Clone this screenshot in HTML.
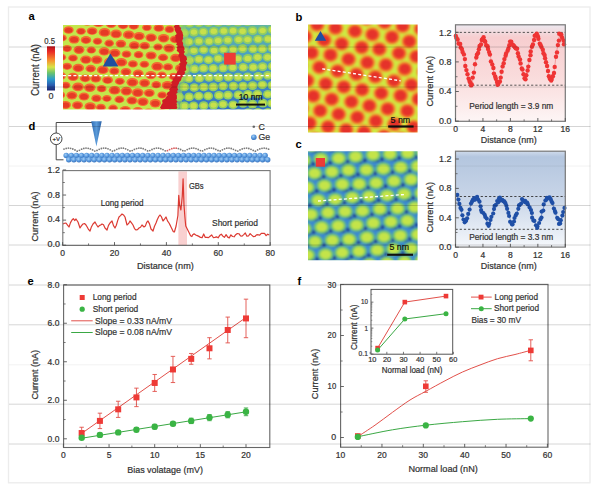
<!DOCTYPE html><html><head><meta charset="utf-8"><style>html,body{margin:0;padding:0;background:#fff;}svg{display:block;} text{font-family:"Liberation Sans",sans-serif;}</style></head><body><svg width="600" height="489" viewBox="0 0 600 489"><defs><clipPath id="ca"><rect x="63" y="25" width="208" height="84.5"/></clipPath><clipPath id="caL"><path d="M63,25 L177,25 L179.5,33.7 L180,42.4 L181.3,51 L183.7,59.8 L183.5,68.5 L180.4,75.4 L177,80.7 L174.8,85.9 L172.6,94.6 L170,101.5 L169,110 L63,110Z"/></clipPath><clipPath id="caR"><path d="M271,25 L177,25 L179.5,33.7 L180,42.4 L181.3,51 L183.7,59.8 L183.5,68.5 L180.4,75.4 L177,80.7 L174.8,85.9 L172.6,94.6 L170,101.5 L169,110 L271,110Z"/></clipPath><filter id="blur1" x="-5%" y="-5%" width="110%" height="110%"><feGaussianBlur stdDeviation="0.75"/></filter><filter id="blur2" x="-5%" y="-5%" width="110%" height="110%"><feGaussianBlur stdDeviation="1.0"/></filter><linearGradient id="gR" x1="0" y1="0" x2="0" y2="1"><stop offset="0" stop-color="#64b6a0"/><stop offset="0.4" stop-color="#4aa0c2"/><stop offset="1" stop-color="#306cc4"/></linearGradient><linearGradient id="jet" x1="0" y1="0" x2="0" y2="1"><stop offset="0" stop-color="#b8141c"/><stop offset="0.12" stop-color="#e92a26"/><stop offset="0.32" stop-color="#f7922e"/><stop offset="0.47" stop-color="#d8e448"/><stop offset="0.6" stop-color="#6cc46c"/><stop offset="0.74" stop-color="#2c9ccc"/><stop offset="0.88" stop-color="#2a5cb0"/><stop offset="1" stop-color="#1a2470"/></linearGradient><clipPath id="cb"><rect x="308" y="24.5" width="109.6" height="108"/></clipPath><clipPath id="cc"><rect x="308" y="151.3" width="109.6" height="109"/></clipPath><linearGradient id="gb" x1="0" y1="0" x2="0" y2="1"><stop offset="0" stop-color="#ebe6ee"/><stop offset="0.07" stop-color="#f0d8dc"/><stop offset="0.13" stop-color="#f6c8ca"/><stop offset="0.55" stop-color="#f9d8d8"/><stop offset="1" stop-color="#fdf4f4"/></linearGradient><linearGradient id="gc" x1="0" y1="0" x2="0" y2="1"><stop offset="0" stop-color="#ccd8ea"/><stop offset="0.06" stop-color="#adc1dc"/><stop offset="0.5" stop-color="#c4d2e6"/><stop offset="1" stop-color="#f4f7fb"/></linearGradient><linearGradient id="tip" x1="0" y1="0" x2="1" y2="0"><stop offset="0" stop-color="#2f6db5"/><stop offset="0.5" stop-color="#5a9ad8"/><stop offset="1" stop-color="#2a62a8"/></linearGradient><radialGradient id="ge" cx="0.4" cy="0.35" r="0.75"><stop offset="0" stop-color="#a6d0f6"/><stop offset="0.45" stop-color="#5c9ce0"/><stop offset="1" stop-color="#2f68b4"/></radialGradient></defs><rect x="8.50" y="7.00" width="581.50" height="475.80" fill="#fff" stroke="#ececec" stroke-width="1.3" /><g clip-path="url(#ca)" filter="url(#blur1)"><rect x="60" y="22" width="215" height="92" fill="#c4e64c"/><g clip-path="url(#caL)"><ellipse cx="52.5" cy="122.1" rx="5.1" ry="3.7" fill="#f36a30"/><ellipse cx="52.5" cy="122.4" rx="3.6" ry="2.5" fill="#e63a28"/><ellipse cx="53.9" cy="103.0" rx="4.8" ry="3.5" fill="#f36a30"/><ellipse cx="53.9" cy="103.3" rx="3.4" ry="2.3" fill="#e63a28"/><ellipse cx="59.4" cy="112.5" rx="4.7" ry="3.5" fill="#f36a30"/><ellipse cx="59.4" cy="112.8" rx="3.4" ry="2.3" fill="#e63a28"/><ellipse cx="64.3" cy="122.5" rx="5.2" ry="3.8" fill="#f36a30"/><ellipse cx="64.3" cy="122.8" rx="3.7" ry="2.6" fill="#e63a28"/><ellipse cx="55.0" cy="84.0" rx="5.2" ry="3.8" fill="#f36a30"/><ellipse cx="55.0" cy="84.3" rx="3.7" ry="2.6" fill="#e63a28"/><ellipse cx="60.3" cy="94.9" rx="4.9" ry="3.6" fill="#f36a30"/><ellipse cx="60.3" cy="95.2" rx="3.5" ry="2.4" fill="#e63a28"/><ellipse cx="65.5" cy="104.9" rx="5.4" ry="4.0" fill="#f36a30"/><ellipse cx="65.5" cy="105.2" rx="3.9" ry="2.6" fill="#e63a28"/><ellipse cx="71.9" cy="113.9" rx="4.7" ry="3.5" fill="#f36a30"/><ellipse cx="71.9" cy="114.2" rx="3.4" ry="2.3" fill="#e63a28"/><ellipse cx="49.0" cy="55.7" rx="4.8" ry="3.6" fill="#f36a30"/><ellipse cx="49.0" cy="56.0" rx="3.5" ry="2.4" fill="#e63a28"/><ellipse cx="54.7" cy="65.9" rx="5.7" ry="4.2" fill="#f36a30"/><ellipse cx="54.7" cy="66.2" rx="4.1" ry="2.8" fill="#e63a28"/><ellipse cx="60.6" cy="75.8" rx="5.5" ry="4.0" fill="#f36a30"/><ellipse cx="60.6" cy="76.1" rx="3.9" ry="2.7" fill="#e63a28"/><ellipse cx="65.7" cy="85.2" rx="4.7" ry="3.5" fill="#f36a30"/><ellipse cx="65.7" cy="85.5" rx="3.4" ry="2.3" fill="#e63a28"/><ellipse cx="71.9" cy="95.3" rx="5.5" ry="4.1" fill="#f36a30"/><ellipse cx="71.9" cy="95.6" rx="4.0" ry="2.7" fill="#e63a28"/><ellipse cx="77.5" cy="105.2" rx="5.4" ry="4.0" fill="#f36a30"/><ellipse cx="77.5" cy="105.5" rx="3.9" ry="2.7" fill="#e63a28"/><ellipse cx="83.5" cy="115.0" rx="5.7" ry="4.2" fill="#f36a30"/><ellipse cx="83.5" cy="115.3" rx="4.1" ry="2.8" fill="#e63a28"/><ellipse cx="50.3" cy="37.7" rx="5.4" ry="4.0" fill="#f36a30"/><ellipse cx="50.3" cy="38.0" rx="3.9" ry="2.6" fill="#e63a28"/><ellipse cx="55.6" cy="47.7" rx="5.6" ry="4.1" fill="#f36a30"/><ellipse cx="55.6" cy="48.0" rx="4.0" ry="2.7" fill="#e63a28"/><ellipse cx="61.4" cy="57.3" rx="4.8" ry="3.5" fill="#f36a30"/><ellipse cx="61.4" cy="57.6" rx="3.5" ry="2.4" fill="#e63a28"/><ellipse cx="67.1" cy="66.3" rx="4.9" ry="3.6" fill="#f36a30"/><ellipse cx="67.1" cy="66.6" rx="3.5" ry="2.4" fill="#e63a28"/><ellipse cx="73.1" cy="76.9" rx="5.5" ry="4.1" fill="#f36a30"/><ellipse cx="73.1" cy="77.2" rx="4.0" ry="2.7" fill="#e63a28"/><ellipse cx="78.0" cy="86.9" rx="5.8" ry="4.3" fill="#f36a30"/><ellipse cx="78.0" cy="87.2" rx="4.1" ry="2.8" fill="#e63a28"/><ellipse cx="84.0" cy="96.5" rx="5.4" ry="4.0" fill="#f36a30"/><ellipse cx="84.0" cy="96.8" rx="3.9" ry="2.7" fill="#e63a28"/><ellipse cx="90.2" cy="106.5" rx="5.7" ry="4.2" fill="#f36a30"/><ellipse cx="90.2" cy="106.8" rx="4.1" ry="2.8" fill="#e63a28"/><ellipse cx="94.4" cy="116.6" rx="5.5" ry="4.1" fill="#f36a30"/><ellipse cx="94.4" cy="116.9" rx="3.9" ry="2.7" fill="#e63a28"/><ellipse cx="51.8" cy="18.9" rx="5.5" ry="4.0" fill="#f36a30"/><ellipse cx="51.8" cy="19.2" rx="3.9" ry="2.7" fill="#e63a28"/><ellipse cx="56.4" cy="28.6" rx="5.0" ry="3.7" fill="#f36a30"/><ellipse cx="56.4" cy="28.9" rx="3.6" ry="2.5" fill="#e63a28"/><ellipse cx="62.1" cy="37.9" rx="4.7" ry="3.5" fill="#f36a30"/><ellipse cx="62.1" cy="38.2" rx="3.4" ry="2.3" fill="#e63a28"/><ellipse cx="67.1" cy="48.5" rx="4.8" ry="3.5" fill="#f36a30"/><ellipse cx="67.1" cy="48.8" rx="3.5" ry="2.4" fill="#e63a28"/><ellipse cx="73.0" cy="58.0" rx="4.8" ry="3.6" fill="#f36a30"/><ellipse cx="73.0" cy="58.3" rx="3.5" ry="2.4" fill="#e63a28"/><ellipse cx="78.3" cy="67.9" rx="5.8" ry="4.2" fill="#f36a30"/><ellipse cx="78.3" cy="68.2" rx="4.1" ry="2.8" fill="#e63a28"/><ellipse cx="85.2" cy="78.3" rx="5.4" ry="3.9" fill="#f36a30"/><ellipse cx="85.2" cy="78.6" rx="3.8" ry="2.6" fill="#e63a28"/><ellipse cx="89.8" cy="87.7" rx="5.8" ry="4.2" fill="#f36a30"/><ellipse cx="89.8" cy="88.0" rx="4.1" ry="2.8" fill="#e63a28"/><ellipse cx="96.4" cy="98.2" rx="5.1" ry="3.8" fill="#f36a30"/><ellipse cx="96.4" cy="98.5" rx="3.7" ry="2.5" fill="#e63a28"/><ellipse cx="100.9" cy="107.3" rx="4.9" ry="3.6" fill="#f36a30"/><ellipse cx="100.9" cy="107.6" rx="3.5" ry="2.4" fill="#e63a28"/><ellipse cx="107.0" cy="117.6" rx="5.0" ry="3.7" fill="#f36a30"/><ellipse cx="107.0" cy="117.9" rx="3.6" ry="2.4" fill="#e63a28"/><ellipse cx="62.1" cy="19.5" rx="5.0" ry="3.7" fill="#f36a30"/><ellipse cx="62.1" cy="19.8" rx="3.6" ry="2.5" fill="#e63a28"/><ellipse cx="68.6" cy="30.0" rx="5.1" ry="3.8" fill="#f36a30"/><ellipse cx="68.6" cy="30.3" rx="3.7" ry="2.5" fill="#e63a28"/><ellipse cx="74.1" cy="39.5" rx="5.5" ry="4.1" fill="#f36a30"/><ellipse cx="74.1" cy="39.8" rx="4.0" ry="2.7" fill="#e63a28"/><ellipse cx="79.0" cy="49.8" rx="5.5" ry="4.1" fill="#f36a30"/><ellipse cx="79.0" cy="50.1" rx="4.0" ry="2.7" fill="#e63a28"/><ellipse cx="85.9" cy="59.6" rx="5.7" ry="4.2" fill="#f36a30"/><ellipse cx="85.9" cy="59.9" rx="4.1" ry="2.8" fill="#e63a28"/><ellipse cx="90.7" cy="68.6" rx="5.2" ry="3.8" fill="#f36a30"/><ellipse cx="90.7" cy="68.9" rx="3.7" ry="2.5" fill="#e63a28"/><ellipse cx="95.8" cy="78.5" rx="5.5" ry="4.0" fill="#f36a30"/><ellipse cx="95.8" cy="78.8" rx="3.9" ry="2.7" fill="#e63a28"/><ellipse cx="101.6" cy="88.7" rx="4.9" ry="3.6" fill="#f36a30"/><ellipse cx="101.6" cy="89.0" rx="3.5" ry="2.4" fill="#e63a28"/><ellipse cx="106.9" cy="98.4" rx="4.7" ry="3.5" fill="#f36a30"/><ellipse cx="106.9" cy="98.7" rx="3.4" ry="2.3" fill="#e63a28"/><ellipse cx="113.1" cy="108.1" rx="4.8" ry="3.5" fill="#f36a30"/><ellipse cx="113.1" cy="108.4" rx="3.4" ry="2.4" fill="#e63a28"/><ellipse cx="119.1" cy="118.2" rx="5.8" ry="4.3" fill="#f36a30"/><ellipse cx="119.1" cy="118.5" rx="4.1" ry="2.8" fill="#e63a28"/><ellipse cx="74.6" cy="20.5" rx="5.0" ry="3.7" fill="#f36a30"/><ellipse cx="74.6" cy="20.8" rx="3.6" ry="2.4" fill="#e63a28"/><ellipse cx="81.0" cy="31.2" rx="4.8" ry="3.5" fill="#f36a30"/><ellipse cx="81.0" cy="31.5" rx="3.5" ry="2.4" fill="#e63a28"/><ellipse cx="86.0" cy="40.0" rx="5.3" ry="3.9" fill="#f36a30"/><ellipse cx="86.0" cy="40.3" rx="3.8" ry="2.6" fill="#e63a28"/><ellipse cx="91.3" cy="50.1" rx="4.8" ry="3.5" fill="#f36a30"/><ellipse cx="91.3" cy="50.4" rx="3.4" ry="2.4" fill="#e63a28"/><ellipse cx="96.7" cy="59.7" rx="5.7" ry="4.2" fill="#f36a30"/><ellipse cx="96.7" cy="60.0" rx="4.1" ry="2.8" fill="#e63a28"/><ellipse cx="102.8" cy="69.8" rx="5.9" ry="4.3" fill="#f36a30"/><ellipse cx="102.8" cy="70.1" rx="4.2" ry="2.9" fill="#e63a28"/><ellipse cx="107.6" cy="80.1" rx="5.4" ry="3.9" fill="#f36a30"/><ellipse cx="107.6" cy="80.4" rx="3.8" ry="2.6" fill="#e63a28"/><ellipse cx="114.6" cy="90.2" rx="5.9" ry="4.3" fill="#f36a30"/><ellipse cx="114.6" cy="90.5" rx="4.2" ry="2.9" fill="#e63a28"/><ellipse cx="119.4" cy="99.5" rx="5.0" ry="3.7" fill="#f36a30"/><ellipse cx="119.4" cy="99.8" rx="3.6" ry="2.5" fill="#e63a28"/><ellipse cx="125.3" cy="110.1" rx="5.6" ry="4.2" fill="#f36a30"/><ellipse cx="125.3" cy="110.4" rx="4.0" ry="2.8" fill="#e63a28"/><ellipse cx="130.4" cy="120.1" rx="5.1" ry="3.7" fill="#f36a30"/><ellipse cx="130.4" cy="120.4" rx="3.6" ry="2.5" fill="#e63a28"/><ellipse cx="81.7" cy="12.3" rx="5.9" ry="4.4" fill="#f36a30"/><ellipse cx="81.7" cy="12.6" rx="4.2" ry="2.9" fill="#e63a28"/><ellipse cx="87.1" cy="21.5" rx="5.7" ry="4.2" fill="#f36a30"/><ellipse cx="87.1" cy="21.8" rx="4.1" ry="2.8" fill="#e63a28"/><ellipse cx="92.1" cy="31.1" rx="5.3" ry="3.9" fill="#f36a30"/><ellipse cx="92.1" cy="31.4" rx="3.8" ry="2.6" fill="#e63a28"/><ellipse cx="97.5" cy="41.3" rx="4.7" ry="3.5" fill="#f36a30"/><ellipse cx="97.5" cy="41.6" rx="3.4" ry="2.3" fill="#e63a28"/><ellipse cx="104.2" cy="51.4" rx="5.5" ry="4.1" fill="#f36a30"/><ellipse cx="104.2" cy="51.7" rx="4.0" ry="2.7" fill="#e63a28"/><ellipse cx="109.9" cy="61.9" rx="5.9" ry="4.3" fill="#f36a30"/><ellipse cx="109.9" cy="62.2" rx="4.2" ry="2.9" fill="#e63a28"/><ellipse cx="114.3" cy="71.0" rx="5.1" ry="3.8" fill="#f36a30"/><ellipse cx="114.3" cy="71.3" rx="3.7" ry="2.5" fill="#e63a28"/><ellipse cx="119.8" cy="81.3" rx="4.9" ry="3.6" fill="#f36a30"/><ellipse cx="119.8" cy="81.6" rx="3.5" ry="2.4" fill="#e63a28"/><ellipse cx="126.4" cy="91.1" rx="5.8" ry="4.3" fill="#f36a30"/><ellipse cx="126.4" cy="91.4" rx="4.2" ry="2.8" fill="#e63a28"/><ellipse cx="132.0" cy="100.5" rx="5.5" ry="4.0" fill="#f36a30"/><ellipse cx="132.0" cy="100.8" rx="3.9" ry="2.7" fill="#e63a28"/><ellipse cx="137.8" cy="111.2" rx="5.5" ry="4.1" fill="#f36a30"/><ellipse cx="137.8" cy="111.5" rx="3.9" ry="2.7" fill="#e63a28"/><ellipse cx="142.7" cy="120.4" rx="5.6" ry="4.1" fill="#f36a30"/><ellipse cx="142.7" cy="120.7" rx="4.0" ry="2.8" fill="#e63a28"/><ellipse cx="92.7" cy="13.4" rx="5.7" ry="4.2" fill="#f36a30"/><ellipse cx="92.7" cy="13.7" rx="4.1" ry="2.8" fill="#e63a28"/><ellipse cx="98.4" cy="22.8" rx="5.9" ry="4.3" fill="#f36a30"/><ellipse cx="98.4" cy="23.1" rx="4.2" ry="2.9" fill="#e63a28"/><ellipse cx="104.6" cy="32.4" rx="5.9" ry="4.3" fill="#f36a30"/><ellipse cx="104.6" cy="32.7" rx="4.2" ry="2.9" fill="#e63a28"/><ellipse cx="109.2" cy="43.2" rx="4.8" ry="3.6" fill="#f36a30"/><ellipse cx="109.2" cy="43.5" rx="3.5" ry="2.4" fill="#e63a28"/><ellipse cx="114.8" cy="53.0" rx="5.7" ry="4.2" fill="#f36a30"/><ellipse cx="114.8" cy="53.3" rx="4.1" ry="2.8" fill="#e63a28"/><ellipse cx="121.3" cy="62.3" rx="5.9" ry="4.3" fill="#f36a30"/><ellipse cx="121.3" cy="62.6" rx="4.2" ry="2.9" fill="#e63a28"/><ellipse cx="126.0" cy="71.8" rx="5.4" ry="3.9" fill="#f36a30"/><ellipse cx="126.0" cy="72.1" rx="3.8" ry="2.6" fill="#e63a28"/><ellipse cx="132.4" cy="82.3" rx="5.9" ry="4.3" fill="#f36a30"/><ellipse cx="132.4" cy="82.6" rx="4.2" ry="2.9" fill="#e63a28"/><ellipse cx="137.7" cy="92.6" rx="5.9" ry="4.3" fill="#f36a30"/><ellipse cx="137.7" cy="92.9" rx="4.2" ry="2.9" fill="#e63a28"/><ellipse cx="142.9" cy="101.8" rx="5.7" ry="4.2" fill="#f36a30"/><ellipse cx="142.9" cy="102.1" rx="4.1" ry="2.8" fill="#e63a28"/><ellipse cx="148.6" cy="112.1" rx="5.0" ry="3.7" fill="#f36a30"/><ellipse cx="148.6" cy="112.4" rx="3.6" ry="2.5" fill="#e63a28"/><ellipse cx="154.5" cy="121.5" rx="5.0" ry="3.7" fill="#f36a30"/><ellipse cx="154.5" cy="121.8" rx="3.6" ry="2.4" fill="#e63a28"/><ellipse cx="104.7" cy="14.0" rx="5.8" ry="4.3" fill="#f36a30"/><ellipse cx="104.7" cy="14.3" rx="4.2" ry="2.9" fill="#e63a28"/><ellipse cx="111.1" cy="23.9" rx="5.4" ry="4.0" fill="#f36a30"/><ellipse cx="111.1" cy="24.2" rx="3.9" ry="2.7" fill="#e63a28"/><ellipse cx="116.1" cy="33.9" rx="5.8" ry="4.3" fill="#f36a30"/><ellipse cx="116.1" cy="34.2" rx="4.2" ry="2.9" fill="#e63a28"/><ellipse cx="120.9" cy="43.7" rx="5.3" ry="3.9" fill="#f36a30"/><ellipse cx="120.9" cy="44.0" rx="3.8" ry="2.6" fill="#e63a28"/><ellipse cx="126.5" cy="54.1" rx="4.9" ry="3.6" fill="#f36a30"/><ellipse cx="126.5" cy="54.4" rx="3.5" ry="2.4" fill="#e63a28"/><ellipse cx="132.9" cy="63.9" rx="4.9" ry="3.6" fill="#f36a30"/><ellipse cx="132.9" cy="64.2" rx="3.5" ry="2.4" fill="#e63a28"/><ellipse cx="138.2" cy="73.5" rx="5.4" ry="4.0" fill="#f36a30"/><ellipse cx="138.2" cy="73.8" rx="3.9" ry="2.6" fill="#e63a28"/><ellipse cx="144.6" cy="82.9" rx="5.4" ry="4.0" fill="#f36a30"/><ellipse cx="144.6" cy="83.2" rx="3.9" ry="2.6" fill="#e63a28"/><ellipse cx="149.3" cy="93.0" rx="5.4" ry="4.0" fill="#f36a30"/><ellipse cx="149.3" cy="93.3" rx="3.9" ry="2.6" fill="#e63a28"/><ellipse cx="155.3" cy="103.3" rx="5.6" ry="4.2" fill="#f36a30"/><ellipse cx="155.3" cy="103.6" rx="4.0" ry="2.8" fill="#e63a28"/><ellipse cx="161.6" cy="113.0" rx="5.6" ry="4.1" fill="#f36a30"/><ellipse cx="161.6" cy="113.3" rx="4.0" ry="2.8" fill="#e63a28"/><ellipse cx="166.5" cy="123.0" rx="5.4" ry="4.0" fill="#f36a30"/><ellipse cx="166.5" cy="123.3" rx="3.9" ry="2.7" fill="#e63a28"/><ellipse cx="116.7" cy="15.2" rx="5.5" ry="4.1" fill="#f36a30"/><ellipse cx="116.7" cy="15.5" rx="4.0" ry="2.7" fill="#e63a28"/><ellipse cx="123.1" cy="25.3" rx="5.3" ry="3.9" fill="#f36a30"/><ellipse cx="123.1" cy="25.6" rx="3.8" ry="2.6" fill="#e63a28"/><ellipse cx="128.7" cy="34.7" rx="5.8" ry="4.3" fill="#f36a30"/><ellipse cx="128.7" cy="35.0" rx="4.1" ry="2.8" fill="#e63a28"/><ellipse cx="134.3" cy="45.3" rx="5.4" ry="4.0" fill="#f36a30"/><ellipse cx="134.3" cy="45.6" rx="3.9" ry="2.6" fill="#e63a28"/><ellipse cx="138.6" cy="54.7" rx="4.8" ry="3.6" fill="#f36a30"/><ellipse cx="138.6" cy="55.0" rx="3.5" ry="2.4" fill="#e63a28"/><ellipse cx="144.4" cy="64.2" rx="4.8" ry="3.5" fill="#f36a30"/><ellipse cx="144.4" cy="64.5" rx="3.4" ry="2.3" fill="#e63a28"/><ellipse cx="150.9" cy="75.1" rx="5.5" ry="4.1" fill="#f36a30"/><ellipse cx="150.9" cy="75.4" rx="4.0" ry="2.7" fill="#e63a28"/><ellipse cx="156.3" cy="84.7" rx="4.9" ry="3.6" fill="#f36a30"/><ellipse cx="156.3" cy="85.0" rx="3.5" ry="2.4" fill="#e63a28"/><ellipse cx="162.2" cy="95.0" rx="4.8" ry="3.6" fill="#f36a30"/><ellipse cx="162.2" cy="95.3" rx="3.5" ry="2.4" fill="#e63a28"/><ellipse cx="167.9" cy="104.2" rx="4.9" ry="3.6" fill="#f36a30"/><ellipse cx="167.9" cy="104.5" rx="3.5" ry="2.4" fill="#e63a28"/><ellipse cx="173.6" cy="114.6" rx="5.3" ry="3.9" fill="#f36a30"/><ellipse cx="173.6" cy="114.9" rx="3.8" ry="2.6" fill="#e63a28"/><ellipse cx="128.6" cy="16.3" rx="4.9" ry="3.6" fill="#f36a30"/><ellipse cx="128.6" cy="16.6" rx="3.5" ry="2.4" fill="#e63a28"/><ellipse cx="133.8" cy="26.0" rx="5.1" ry="3.7" fill="#f36a30"/><ellipse cx="133.8" cy="26.3" rx="3.7" ry="2.5" fill="#e63a28"/><ellipse cx="139.1" cy="36.2" rx="5.6" ry="4.1" fill="#f36a30"/><ellipse cx="139.1" cy="36.5" rx="4.0" ry="2.7" fill="#e63a28"/><ellipse cx="144.7" cy="45.8" rx="5.2" ry="3.8" fill="#f36a30"/><ellipse cx="144.7" cy="46.1" rx="3.7" ry="2.6" fill="#e63a28"/><ellipse cx="151.1" cy="55.4" rx="5.5" ry="4.0" fill="#f36a30"/><ellipse cx="151.1" cy="55.7" rx="3.9" ry="2.7" fill="#e63a28"/><ellipse cx="157.2" cy="66.4" rx="5.9" ry="4.4" fill="#f36a30"/><ellipse cx="157.2" cy="66.7" rx="4.2" ry="2.9" fill="#e63a28"/><ellipse cx="161.9" cy="75.1" rx="4.8" ry="3.5" fill="#f36a30"/><ellipse cx="161.9" cy="75.4" rx="3.4" ry="2.4" fill="#e63a28"/><ellipse cx="167.5" cy="85.2" rx="5.7" ry="4.2" fill="#f36a30"/><ellipse cx="167.5" cy="85.5" rx="4.1" ry="2.8" fill="#e63a28"/><ellipse cx="174.2" cy="95.9" rx="5.2" ry="3.8" fill="#f36a30"/><ellipse cx="174.2" cy="96.2" rx="3.7" ry="2.6" fill="#e63a28"/><ellipse cx="178.5" cy="105.9" rx="5.0" ry="3.7" fill="#f36a30"/><ellipse cx="178.5" cy="106.2" rx="3.6" ry="2.4" fill="#e63a28"/><ellipse cx="185.0" cy="114.8" rx="5.4" ry="4.0" fill="#f36a30"/><ellipse cx="185.0" cy="115.1" rx="3.9" ry="2.6" fill="#e63a28"/><ellipse cx="140.9" cy="17.3" rx="4.7" ry="3.5" fill="#f36a30"/><ellipse cx="140.9" cy="17.6" rx="3.4" ry="2.3" fill="#e63a28"/><ellipse cx="146.9" cy="27.5" rx="4.8" ry="3.5" fill="#f36a30"/><ellipse cx="146.9" cy="27.8" rx="3.4" ry="2.3" fill="#e63a28"/><ellipse cx="151.1" cy="37.6" rx="5.7" ry="4.2" fill="#f36a30"/><ellipse cx="151.1" cy="37.9" rx="4.1" ry="2.8" fill="#e63a28"/><ellipse cx="158.0" cy="47.0" rx="4.7" ry="3.5" fill="#f36a30"/><ellipse cx="158.0" cy="47.3" rx="3.4" ry="2.3" fill="#e63a28"/><ellipse cx="163.1" cy="57.5" rx="5.1" ry="3.7" fill="#f36a30"/><ellipse cx="163.1" cy="57.8" rx="3.7" ry="2.5" fill="#e63a28"/><ellipse cx="168.0" cy="66.9" rx="5.0" ry="3.7" fill="#f36a30"/><ellipse cx="168.0" cy="67.2" rx="3.6" ry="2.5" fill="#e63a28"/><ellipse cx="173.6" cy="76.4" rx="5.0" ry="3.7" fill="#f36a30"/><ellipse cx="173.6" cy="76.7" rx="3.6" ry="2.4" fill="#e63a28"/><ellipse cx="179.3" cy="86.5" rx="4.7" ry="3.5" fill="#f36a30"/><ellipse cx="179.3" cy="86.8" rx="3.4" ry="2.3" fill="#e63a28"/><ellipse cx="185.8" cy="96.3" rx="5.1" ry="3.7" fill="#f36a30"/><ellipse cx="185.8" cy="96.6" rx="3.6" ry="2.5" fill="#e63a28"/><ellipse cx="190.5" cy="106.3" rx="5.3" ry="3.9" fill="#f36a30"/><ellipse cx="190.5" cy="106.6" rx="3.8" ry="2.6" fill="#e63a28"/><ellipse cx="196.2" cy="115.8" rx="4.7" ry="3.4" fill="#f36a30"/><ellipse cx="196.2" cy="116.1" rx="3.4" ry="2.3" fill="#e63a28"/><ellipse cx="152.6" cy="18.1" rx="5.6" ry="4.1" fill="#f36a30"/><ellipse cx="152.6" cy="18.4" rx="4.0" ry="2.7" fill="#e63a28"/><ellipse cx="158.8" cy="27.9" rx="5.3" ry="3.9" fill="#f36a30"/><ellipse cx="158.8" cy="28.2" rx="3.8" ry="2.6" fill="#e63a28"/><ellipse cx="163.6" cy="38.3" rx="5.7" ry="4.2" fill="#f36a30"/><ellipse cx="163.6" cy="38.6" rx="4.1" ry="2.8" fill="#e63a28"/><ellipse cx="169.1" cy="48.2" rx="5.7" ry="4.2" fill="#f36a30"/><ellipse cx="169.1" cy="48.5" rx="4.1" ry="2.8" fill="#e63a28"/><ellipse cx="175.7" cy="57.9" rx="5.5" ry="4.1" fill="#f36a30"/><ellipse cx="175.7" cy="58.2" rx="4.0" ry="2.7" fill="#e63a28"/><ellipse cx="180.8" cy="68.2" rx="5.7" ry="4.2" fill="#f36a30"/><ellipse cx="180.8" cy="68.5" rx="4.1" ry="2.8" fill="#e63a28"/><ellipse cx="185.9" cy="77.4" rx="5.2" ry="3.8" fill="#f36a30"/><ellipse cx="185.9" cy="77.7" rx="3.7" ry="2.5" fill="#e63a28"/><ellipse cx="191.0" cy="88.1" rx="4.8" ry="3.6" fill="#f36a30"/><ellipse cx="191.0" cy="88.4" rx="3.5" ry="2.4" fill="#e63a28"/><ellipse cx="196.8" cy="97.2" rx="5.0" ry="3.7" fill="#f36a30"/><ellipse cx="196.8" cy="97.5" rx="3.6" ry="2.4" fill="#e63a28"/><ellipse cx="165.0" cy="19.8" rx="5.7" ry="4.2" fill="#f36a30"/><ellipse cx="165.0" cy="20.1" rx="4.1" ry="2.8" fill="#e63a28"/><ellipse cx="169.6" cy="29.3" rx="5.0" ry="3.7" fill="#f36a30"/><ellipse cx="169.6" cy="29.6" rx="3.6" ry="2.5" fill="#e63a28"/><ellipse cx="175.1" cy="39.3" rx="5.2" ry="3.9" fill="#f36a30"/><ellipse cx="175.1" cy="39.6" rx="3.8" ry="2.6" fill="#e63a28"/><ellipse cx="181.9" cy="49.9" rx="5.0" ry="3.7" fill="#f36a30"/><ellipse cx="181.9" cy="50.2" rx="3.6" ry="2.5" fill="#e63a28"/><ellipse cx="186.4" cy="59.8" rx="5.4" ry="3.9" fill="#f36a30"/><ellipse cx="186.4" cy="60.1" rx="3.8" ry="2.6" fill="#e63a28"/><ellipse cx="192.2" cy="68.5" rx="5.1" ry="3.7" fill="#f36a30"/><ellipse cx="192.2" cy="68.8" rx="3.6" ry="2.5" fill="#e63a28"/><ellipse cx="198.0" cy="79.0" rx="5.1" ry="3.8" fill="#f36a30"/><ellipse cx="198.0" cy="79.3" rx="3.7" ry="2.5" fill="#e63a28"/><ellipse cx="176.3" cy="20.1" rx="4.9" ry="3.6" fill="#f36a30"/><ellipse cx="176.3" cy="20.4" rx="3.5" ry="2.4" fill="#e63a28"/><ellipse cx="181.2" cy="30.5" rx="5.0" ry="3.7" fill="#f36a30"/><ellipse cx="181.2" cy="30.8" rx="3.6" ry="2.5" fill="#e63a28"/><ellipse cx="186.7" cy="40.3" rx="4.7" ry="3.5" fill="#f36a30"/><ellipse cx="186.7" cy="40.6" rx="3.4" ry="2.3" fill="#e63a28"/><ellipse cx="193.2" cy="50.4" rx="5.0" ry="3.6" fill="#f36a30"/><ellipse cx="193.2" cy="50.7" rx="3.6" ry="2.4" fill="#e63a28"/><ellipse cx="199.0" cy="60.6" rx="5.6" ry="4.1" fill="#f36a30"/><ellipse cx="199.0" cy="60.9" rx="4.0" ry="2.8" fill="#e63a28"/><ellipse cx="182.4" cy="11.7" rx="5.8" ry="4.3" fill="#f36a30"/><ellipse cx="182.4" cy="12.0" rx="4.1" ry="2.8" fill="#e63a28"/><ellipse cx="187.6" cy="22.1" rx="5.9" ry="4.4" fill="#f36a30"/><ellipse cx="187.6" cy="22.4" rx="4.2" ry="2.9" fill="#e63a28"/><ellipse cx="193.1" cy="32.1" rx="5.5" ry="4.0" fill="#f36a30"/><ellipse cx="193.1" cy="32.4" rx="3.9" ry="2.7" fill="#e63a28"/><ellipse cx="199.6" cy="41.9" rx="5.8" ry="4.3" fill="#f36a30"/><ellipse cx="199.6" cy="42.2" rx="4.2" ry="2.8" fill="#e63a28"/><ellipse cx="193.9" cy="13.0" rx="5.7" ry="4.2" fill="#f36a30"/><ellipse cx="193.9" cy="13.3" rx="4.1" ry="2.8" fill="#e63a28"/><ellipse cx="200.6" cy="23.3" rx="5.3" ry="3.9" fill="#f36a30"/><ellipse cx="200.6" cy="23.6" rx="3.8" ry="2.6" fill="#e63a28"/></g><g clip-path="url(#caR)"><rect x="160" y="22" width="115" height="92" fill="url(#gR)"/><ellipse cx="150.2" cy="116.0" rx="4.9" ry="4.3" fill="#92cd62"/><ellipse cx="150.2" cy="116.0" rx="3.2" ry="2.7" fill="#c8e04c"/><ellipse cx="150.3" cy="97.8" rx="4.9" ry="4.3" fill="#92cd62"/><ellipse cx="150.3" cy="97.8" rx="3.2" ry="2.7" fill="#c8e04c"/><ellipse cx="155.0" cy="106.3" rx="4.9" ry="4.3" fill="#92cd62"/><ellipse cx="155.0" cy="106.3" rx="3.2" ry="2.7" fill="#c8e04c"/><ellipse cx="159.2" cy="115.2" rx="4.9" ry="4.3" fill="#92cd62"/><ellipse cx="159.2" cy="115.2" rx="3.2" ry="2.7" fill="#c8e04c"/><ellipse cx="149.8" cy="78.9" rx="4.9" ry="4.3" fill="#92cd62"/><ellipse cx="149.8" cy="78.9" rx="3.2" ry="2.7" fill="#c8e04c"/><ellipse cx="155.1" cy="88.4" rx="4.9" ry="4.3" fill="#92cd62"/><ellipse cx="155.1" cy="88.4" rx="3.2" ry="2.7" fill="#c8e04c"/><ellipse cx="159.8" cy="97.4" rx="4.9" ry="4.3" fill="#92cd62"/><ellipse cx="159.8" cy="97.4" rx="3.2" ry="2.7" fill="#c8e04c"/><ellipse cx="164.8" cy="106.3" rx="4.9" ry="4.3" fill="#92cd62"/><ellipse cx="164.8" cy="106.3" rx="3.2" ry="2.7" fill="#c8e04c"/><ellipse cx="169.0" cy="115.6" rx="4.9" ry="4.3" fill="#92cd62"/><ellipse cx="169.0" cy="115.6" rx="3.2" ry="2.7" fill="#c8e04c"/><ellipse cx="150.1" cy="61.0" rx="4.9" ry="4.3" fill="#92cd62"/><ellipse cx="150.1" cy="61.0" rx="3.2" ry="2.7" fill="#c8e04c"/><ellipse cx="154.8" cy="70.2" rx="4.9" ry="4.3" fill="#92cd62"/><ellipse cx="154.8" cy="70.2" rx="3.2" ry="2.7" fill="#c8e04c"/><ellipse cx="159.3" cy="79.2" rx="4.9" ry="4.3" fill="#92cd62"/><ellipse cx="159.3" cy="79.2" rx="3.2" ry="2.7" fill="#c8e04c"/><ellipse cx="164.4" cy="87.6" rx="4.9" ry="4.3" fill="#92cd62"/><ellipse cx="164.4" cy="87.6" rx="3.2" ry="2.7" fill="#c8e04c"/><ellipse cx="169.3" cy="97.2" rx="4.9" ry="4.3" fill="#92cd62"/><ellipse cx="169.3" cy="97.2" rx="3.2" ry="2.7" fill="#c8e04c"/><ellipse cx="174.1" cy="106.2" rx="4.9" ry="4.3" fill="#92cd62"/><ellipse cx="174.1" cy="106.2" rx="3.2" ry="2.7" fill="#c8e04c"/><ellipse cx="179.8" cy="115.0" rx="4.9" ry="4.3" fill="#92cd62"/><ellipse cx="179.8" cy="115.0" rx="3.2" ry="2.7" fill="#c8e04c"/><ellipse cx="184.1" cy="124.0" rx="4.9" ry="4.3" fill="#92cd62"/><ellipse cx="184.1" cy="124.0" rx="3.2" ry="2.7" fill="#c8e04c"/><ellipse cx="150.1" cy="43.0" rx="4.9" ry="4.3" fill="#92cd62"/><ellipse cx="150.1" cy="43.0" rx="3.2" ry="2.7" fill="#c8e04c"/><ellipse cx="154.9" cy="51.8" rx="4.9" ry="4.3" fill="#92cd62"/><ellipse cx="154.9" cy="51.8" rx="3.2" ry="2.7" fill="#c8e04c"/><ellipse cx="159.3" cy="60.3" rx="4.9" ry="4.3" fill="#92cd62"/><ellipse cx="159.3" cy="60.3" rx="3.2" ry="2.7" fill="#c8e04c"/><ellipse cx="164.4" cy="69.9" rx="4.9" ry="4.3" fill="#92cd62"/><ellipse cx="164.4" cy="69.9" rx="3.2" ry="2.7" fill="#c8e04c"/><ellipse cx="169.3" cy="78.8" rx="4.9" ry="4.3" fill="#92cd62"/><ellipse cx="169.3" cy="78.8" rx="3.2" ry="2.7" fill="#c8e04c"/><ellipse cx="173.9" cy="87.3" rx="4.9" ry="4.3" fill="#92cd62"/><ellipse cx="173.9" cy="87.3" rx="3.2" ry="2.7" fill="#c8e04c"/><ellipse cx="179.1" cy="96.9" rx="4.9" ry="4.3" fill="#92cd62"/><ellipse cx="179.1" cy="96.9" rx="3.2" ry="2.7" fill="#c8e04c"/><ellipse cx="184.4" cy="105.9" rx="4.9" ry="4.3" fill="#92cd62"/><ellipse cx="184.4" cy="105.9" rx="3.2" ry="2.7" fill="#c8e04c"/><ellipse cx="188.9" cy="114.7" rx="4.9" ry="4.3" fill="#92cd62"/><ellipse cx="188.9" cy="114.7" rx="3.2" ry="2.7" fill="#c8e04c"/><ellipse cx="194.0" cy="123.7" rx="4.9" ry="4.3" fill="#92cd62"/><ellipse cx="194.0" cy="123.7" rx="3.2" ry="2.7" fill="#c8e04c"/><ellipse cx="149.5" cy="24.8" rx="4.9" ry="4.3" fill="#92cd62"/><ellipse cx="149.5" cy="24.8" rx="3.2" ry="2.7" fill="#c8e04c"/><ellipse cx="154.5" cy="33.9" rx="4.9" ry="4.3" fill="#92cd62"/><ellipse cx="154.5" cy="33.9" rx="3.2" ry="2.7" fill="#c8e04c"/><ellipse cx="160.1" cy="41.9" rx="4.9" ry="4.3" fill="#92cd62"/><ellipse cx="160.1" cy="41.9" rx="3.2" ry="2.7" fill="#c8e04c"/><ellipse cx="164.6" cy="51.7" rx="4.9" ry="4.3" fill="#92cd62"/><ellipse cx="164.6" cy="51.7" rx="3.2" ry="2.7" fill="#c8e04c"/><ellipse cx="170.0" cy="60.3" rx="4.9" ry="4.3" fill="#92cd62"/><ellipse cx="170.0" cy="60.3" rx="3.2" ry="2.7" fill="#c8e04c"/><ellipse cx="174.2" cy="69.1" rx="4.9" ry="4.3" fill="#92cd62"/><ellipse cx="174.2" cy="69.1" rx="3.2" ry="2.7" fill="#c8e04c"/><ellipse cx="179.7" cy="78.1" rx="4.9" ry="4.3" fill="#92cd62"/><ellipse cx="179.7" cy="78.1" rx="3.2" ry="2.7" fill="#c8e04c"/><ellipse cx="184.3" cy="87.0" rx="4.9" ry="4.3" fill="#92cd62"/><ellipse cx="184.3" cy="87.0" rx="3.2" ry="2.7" fill="#c8e04c"/><ellipse cx="189.1" cy="96.9" rx="4.9" ry="4.3" fill="#92cd62"/><ellipse cx="189.1" cy="96.9" rx="3.2" ry="2.7" fill="#c8e04c"/><ellipse cx="193.6" cy="105.7" rx="4.9" ry="4.3" fill="#92cd62"/><ellipse cx="193.6" cy="105.7" rx="3.2" ry="2.7" fill="#c8e04c"/><ellipse cx="198.9" cy="114.8" rx="4.9" ry="4.3" fill="#92cd62"/><ellipse cx="198.9" cy="114.8" rx="3.2" ry="2.7" fill="#c8e04c"/><ellipse cx="204.0" cy="123.1" rx="4.9" ry="4.3" fill="#92cd62"/><ellipse cx="204.0" cy="123.1" rx="3.2" ry="2.7" fill="#c8e04c"/><ellipse cx="155.2" cy="15.1" rx="4.9" ry="4.3" fill="#92cd62"/><ellipse cx="155.2" cy="15.1" rx="3.2" ry="2.7" fill="#c8e04c"/><ellipse cx="159.2" cy="23.6" rx="4.9" ry="4.3" fill="#92cd62"/><ellipse cx="159.2" cy="23.6" rx="3.2" ry="2.7" fill="#c8e04c"/><ellipse cx="164.6" cy="33.1" rx="4.9" ry="4.3" fill="#92cd62"/><ellipse cx="164.6" cy="33.1" rx="3.2" ry="2.7" fill="#c8e04c"/><ellipse cx="169.3" cy="41.7" rx="4.9" ry="4.3" fill="#92cd62"/><ellipse cx="169.3" cy="41.7" rx="3.2" ry="2.7" fill="#c8e04c"/><ellipse cx="174.2" cy="50.9" rx="4.9" ry="4.3" fill="#92cd62"/><ellipse cx="174.2" cy="50.9" rx="3.2" ry="2.7" fill="#c8e04c"/><ellipse cx="179.6" cy="59.6" rx="4.9" ry="4.3" fill="#92cd62"/><ellipse cx="179.6" cy="59.6" rx="3.2" ry="2.7" fill="#c8e04c"/><ellipse cx="184.5" cy="69.4" rx="4.9" ry="4.3" fill="#92cd62"/><ellipse cx="184.5" cy="69.4" rx="3.2" ry="2.7" fill="#c8e04c"/><ellipse cx="188.7" cy="78.5" rx="4.9" ry="4.3" fill="#92cd62"/><ellipse cx="188.7" cy="78.5" rx="3.2" ry="2.7" fill="#c8e04c"/><ellipse cx="194.2" cy="87.5" rx="4.9" ry="4.3" fill="#92cd62"/><ellipse cx="194.2" cy="87.5" rx="3.2" ry="2.7" fill="#c8e04c"/><ellipse cx="198.7" cy="96.0" rx="4.9" ry="4.3" fill="#92cd62"/><ellipse cx="198.7" cy="96.0" rx="3.2" ry="2.7" fill="#c8e04c"/><ellipse cx="203.7" cy="105.6" rx="4.9" ry="4.3" fill="#92cd62"/><ellipse cx="203.7" cy="105.6" rx="3.2" ry="2.7" fill="#c8e04c"/><ellipse cx="208.8" cy="114.0" rx="4.9" ry="4.3" fill="#92cd62"/><ellipse cx="208.8" cy="114.0" rx="3.2" ry="2.7" fill="#c8e04c"/><ellipse cx="213.5" cy="122.9" rx="4.9" ry="4.3" fill="#92cd62"/><ellipse cx="213.5" cy="122.9" rx="3.2" ry="2.7" fill="#c8e04c"/><ellipse cx="164.1" cy="14.4" rx="4.9" ry="4.3" fill="#92cd62"/><ellipse cx="164.1" cy="14.4" rx="3.2" ry="2.7" fill="#c8e04c"/><ellipse cx="169.8" cy="23.6" rx="4.9" ry="4.3" fill="#92cd62"/><ellipse cx="169.8" cy="23.6" rx="3.2" ry="2.7" fill="#c8e04c"/><ellipse cx="174.8" cy="32.5" rx="4.9" ry="4.3" fill="#92cd62"/><ellipse cx="174.8" cy="32.5" rx="3.2" ry="2.7" fill="#c8e04c"/><ellipse cx="179.1" cy="41.8" rx="4.9" ry="4.3" fill="#92cd62"/><ellipse cx="179.1" cy="41.8" rx="3.2" ry="2.7" fill="#c8e04c"/><ellipse cx="183.9" cy="50.7" rx="4.9" ry="4.3" fill="#92cd62"/><ellipse cx="183.9" cy="50.7" rx="3.2" ry="2.7" fill="#c8e04c"/><ellipse cx="189.6" cy="60.2" rx="4.9" ry="4.3" fill="#92cd62"/><ellipse cx="189.6" cy="60.2" rx="3.2" ry="2.7" fill="#c8e04c"/><ellipse cx="194.3" cy="68.9" rx="4.9" ry="4.3" fill="#92cd62"/><ellipse cx="194.3" cy="68.9" rx="3.2" ry="2.7" fill="#c8e04c"/><ellipse cx="199.3" cy="78.2" rx="4.9" ry="4.3" fill="#92cd62"/><ellipse cx="199.3" cy="78.2" rx="3.2" ry="2.7" fill="#c8e04c"/><ellipse cx="203.8" cy="87.0" rx="4.9" ry="4.3" fill="#92cd62"/><ellipse cx="203.8" cy="87.0" rx="3.2" ry="2.7" fill="#c8e04c"/><ellipse cx="208.2" cy="96.0" rx="4.9" ry="4.3" fill="#92cd62"/><ellipse cx="208.2" cy="96.0" rx="3.2" ry="2.7" fill="#c8e04c"/><ellipse cx="213.6" cy="105.1" rx="4.9" ry="4.3" fill="#92cd62"/><ellipse cx="213.6" cy="105.1" rx="3.2" ry="2.7" fill="#c8e04c"/><ellipse cx="218.6" cy="113.6" rx="4.9" ry="4.3" fill="#92cd62"/><ellipse cx="218.6" cy="113.6" rx="3.2" ry="2.7" fill="#c8e04c"/><ellipse cx="222.9" cy="123.2" rx="4.9" ry="4.3" fill="#92cd62"/><ellipse cx="222.9" cy="123.2" rx="3.2" ry="2.7" fill="#c8e04c"/><ellipse cx="174.0" cy="14.5" rx="4.9" ry="4.3" fill="#92cd62"/><ellipse cx="174.0" cy="14.5" rx="3.2" ry="2.7" fill="#c8e04c"/><ellipse cx="179.1" cy="23.3" rx="4.9" ry="4.3" fill="#92cd62"/><ellipse cx="179.1" cy="23.3" rx="3.2" ry="2.7" fill="#c8e04c"/><ellipse cx="184.4" cy="33.0" rx="4.9" ry="4.3" fill="#92cd62"/><ellipse cx="184.4" cy="33.0" rx="3.2" ry="2.7" fill="#c8e04c"/><ellipse cx="188.9" cy="41.7" rx="4.9" ry="4.3" fill="#92cd62"/><ellipse cx="188.9" cy="41.7" rx="3.2" ry="2.7" fill="#c8e04c"/><ellipse cx="193.8" cy="50.6" rx="4.9" ry="4.3" fill="#92cd62"/><ellipse cx="193.8" cy="50.6" rx="3.2" ry="2.7" fill="#c8e04c"/><ellipse cx="198.8" cy="59.2" rx="4.9" ry="4.3" fill="#92cd62"/><ellipse cx="198.8" cy="59.2" rx="3.2" ry="2.7" fill="#c8e04c"/><ellipse cx="203.5" cy="68.2" rx="4.9" ry="4.3" fill="#92cd62"/><ellipse cx="203.5" cy="68.2" rx="3.2" ry="2.7" fill="#c8e04c"/><ellipse cx="209.1" cy="77.5" rx="4.9" ry="4.3" fill="#92cd62"/><ellipse cx="209.1" cy="77.5" rx="3.2" ry="2.7" fill="#c8e04c"/><ellipse cx="213.3" cy="86.9" rx="4.9" ry="4.3" fill="#92cd62"/><ellipse cx="213.3" cy="86.9" rx="3.2" ry="2.7" fill="#c8e04c"/><ellipse cx="219.0" cy="95.4" rx="4.9" ry="4.3" fill="#92cd62"/><ellipse cx="219.0" cy="95.4" rx="3.2" ry="2.7" fill="#c8e04c"/><ellipse cx="223.0" cy="104.2" rx="4.9" ry="4.3" fill="#92cd62"/><ellipse cx="223.0" cy="104.2" rx="3.2" ry="2.7" fill="#c8e04c"/><ellipse cx="227.9" cy="113.3" rx="4.9" ry="4.3" fill="#92cd62"/><ellipse cx="227.9" cy="113.3" rx="3.2" ry="2.7" fill="#c8e04c"/><ellipse cx="232.8" cy="122.2" rx="4.9" ry="4.3" fill="#92cd62"/><ellipse cx="232.8" cy="122.2" rx="3.2" ry="2.7" fill="#c8e04c"/><ellipse cx="184.0" cy="14.3" rx="4.9" ry="4.3" fill="#92cd62"/><ellipse cx="184.0" cy="14.3" rx="3.2" ry="2.7" fill="#c8e04c"/><ellipse cx="189.5" cy="23.4" rx="4.9" ry="4.3" fill="#92cd62"/><ellipse cx="189.5" cy="23.4" rx="3.2" ry="2.7" fill="#c8e04c"/><ellipse cx="193.9" cy="32.1" rx="4.9" ry="4.3" fill="#92cd62"/><ellipse cx="193.9" cy="32.1" rx="3.2" ry="2.7" fill="#c8e04c"/><ellipse cx="198.9" cy="41.1" rx="4.9" ry="4.3" fill="#92cd62"/><ellipse cx="198.9" cy="41.1" rx="3.2" ry="2.7" fill="#c8e04c"/><ellipse cx="203.6" cy="49.8" rx="4.9" ry="4.3" fill="#92cd62"/><ellipse cx="203.6" cy="49.8" rx="3.2" ry="2.7" fill="#c8e04c"/><ellipse cx="208.5" cy="59.7" rx="4.9" ry="4.3" fill="#92cd62"/><ellipse cx="208.5" cy="59.7" rx="3.2" ry="2.7" fill="#c8e04c"/><ellipse cx="213.2" cy="68.2" rx="4.9" ry="4.3" fill="#92cd62"/><ellipse cx="213.2" cy="68.2" rx="3.2" ry="2.7" fill="#c8e04c"/><ellipse cx="218.6" cy="77.6" rx="4.9" ry="4.3" fill="#92cd62"/><ellipse cx="218.6" cy="77.6" rx="3.2" ry="2.7" fill="#c8e04c"/><ellipse cx="223.1" cy="86.0" rx="4.9" ry="4.3" fill="#92cd62"/><ellipse cx="223.1" cy="86.0" rx="3.2" ry="2.7" fill="#c8e04c"/><ellipse cx="228.0" cy="95.1" rx="4.9" ry="4.3" fill="#92cd62"/><ellipse cx="228.0" cy="95.1" rx="3.2" ry="2.7" fill="#c8e04c"/><ellipse cx="233.1" cy="104.7" rx="4.9" ry="4.3" fill="#92cd62"/><ellipse cx="233.1" cy="104.7" rx="3.2" ry="2.7" fill="#c8e04c"/><ellipse cx="238.4" cy="113.6" rx="4.9" ry="4.3" fill="#92cd62"/><ellipse cx="238.4" cy="113.6" rx="3.2" ry="2.7" fill="#c8e04c"/><ellipse cx="242.5" cy="121.7" rx="4.9" ry="4.3" fill="#92cd62"/><ellipse cx="242.5" cy="121.7" rx="3.2" ry="2.7" fill="#c8e04c"/><ellipse cx="194.2" cy="14.3" rx="4.9" ry="4.3" fill="#92cd62"/><ellipse cx="194.2" cy="14.3" rx="3.2" ry="2.7" fill="#c8e04c"/><ellipse cx="198.9" cy="23.0" rx="4.9" ry="4.3" fill="#92cd62"/><ellipse cx="198.9" cy="23.0" rx="3.2" ry="2.7" fill="#c8e04c"/><ellipse cx="203.3" cy="31.8" rx="4.9" ry="4.3" fill="#92cd62"/><ellipse cx="203.3" cy="31.8" rx="3.2" ry="2.7" fill="#c8e04c"/><ellipse cx="209.1" cy="41.2" rx="4.9" ry="4.3" fill="#92cd62"/><ellipse cx="209.1" cy="41.2" rx="3.2" ry="2.7" fill="#c8e04c"/><ellipse cx="214.0" cy="50.4" rx="4.9" ry="4.3" fill="#92cd62"/><ellipse cx="214.0" cy="50.4" rx="3.2" ry="2.7" fill="#c8e04c"/><ellipse cx="218.2" cy="58.5" rx="4.9" ry="4.3" fill="#92cd62"/><ellipse cx="218.2" cy="58.5" rx="3.2" ry="2.7" fill="#c8e04c"/><ellipse cx="223.1" cy="67.9" rx="4.9" ry="4.3" fill="#92cd62"/><ellipse cx="223.1" cy="67.9" rx="3.2" ry="2.7" fill="#c8e04c"/><ellipse cx="228.5" cy="77.3" rx="4.9" ry="4.3" fill="#92cd62"/><ellipse cx="228.5" cy="77.3" rx="3.2" ry="2.7" fill="#c8e04c"/><ellipse cx="233.4" cy="86.0" rx="4.9" ry="4.3" fill="#92cd62"/><ellipse cx="233.4" cy="86.0" rx="3.2" ry="2.7" fill="#c8e04c"/><ellipse cx="238.4" cy="94.9" rx="4.9" ry="4.3" fill="#92cd62"/><ellipse cx="238.4" cy="94.9" rx="3.2" ry="2.7" fill="#c8e04c"/><ellipse cx="243.1" cy="103.4" rx="4.9" ry="4.3" fill="#92cd62"/><ellipse cx="243.1" cy="103.4" rx="3.2" ry="2.7" fill="#c8e04c"/><ellipse cx="248.2" cy="112.6" rx="4.9" ry="4.3" fill="#92cd62"/><ellipse cx="248.2" cy="112.6" rx="3.2" ry="2.7" fill="#c8e04c"/><ellipse cx="253.2" cy="122.0" rx="4.9" ry="4.3" fill="#92cd62"/><ellipse cx="253.2" cy="122.0" rx="3.2" ry="2.7" fill="#c8e04c"/><ellipse cx="203.6" cy="13.2" rx="4.9" ry="4.3" fill="#92cd62"/><ellipse cx="203.6" cy="13.2" rx="3.2" ry="2.7" fill="#c8e04c"/><ellipse cx="208.5" cy="22.7" rx="4.9" ry="4.3" fill="#92cd62"/><ellipse cx="208.5" cy="22.7" rx="3.2" ry="2.7" fill="#c8e04c"/><ellipse cx="213.8" cy="31.2" rx="4.9" ry="4.3" fill="#92cd62"/><ellipse cx="213.8" cy="31.2" rx="3.2" ry="2.7" fill="#c8e04c"/><ellipse cx="218.1" cy="40.6" rx="4.9" ry="4.3" fill="#92cd62"/><ellipse cx="218.1" cy="40.6" rx="3.2" ry="2.7" fill="#c8e04c"/><ellipse cx="223.5" cy="49.5" rx="4.9" ry="4.3" fill="#92cd62"/><ellipse cx="223.5" cy="49.5" rx="3.2" ry="2.7" fill="#c8e04c"/><ellipse cx="228.0" cy="58.7" rx="4.9" ry="4.3" fill="#92cd62"/><ellipse cx="228.0" cy="58.7" rx="3.2" ry="2.7" fill="#c8e04c"/><ellipse cx="232.7" cy="67.4" rx="4.9" ry="4.3" fill="#92cd62"/><ellipse cx="232.7" cy="67.4" rx="3.2" ry="2.7" fill="#c8e04c"/><ellipse cx="238.1" cy="77.1" rx="4.9" ry="4.3" fill="#92cd62"/><ellipse cx="238.1" cy="77.1" rx="3.2" ry="2.7" fill="#c8e04c"/><ellipse cx="243.1" cy="86.0" rx="4.9" ry="4.3" fill="#92cd62"/><ellipse cx="243.1" cy="86.0" rx="3.2" ry="2.7" fill="#c8e04c"/><ellipse cx="247.9" cy="94.3" rx="4.9" ry="4.3" fill="#92cd62"/><ellipse cx="247.9" cy="94.3" rx="3.2" ry="2.7" fill="#c8e04c"/><ellipse cx="252.5" cy="104.1" rx="4.9" ry="4.3" fill="#92cd62"/><ellipse cx="252.5" cy="104.1" rx="3.2" ry="2.7" fill="#c8e04c"/><ellipse cx="257.9" cy="112.4" rx="4.9" ry="4.3" fill="#92cd62"/><ellipse cx="257.9" cy="112.4" rx="3.2" ry="2.7" fill="#c8e04c"/><ellipse cx="262.1" cy="121.6" rx="4.9" ry="4.3" fill="#92cd62"/><ellipse cx="262.1" cy="121.6" rx="3.2" ry="2.7" fill="#c8e04c"/><ellipse cx="213.8" cy="13.2" rx="4.9" ry="4.3" fill="#92cd62"/><ellipse cx="213.8" cy="13.2" rx="3.2" ry="2.7" fill="#c8e04c"/><ellipse cx="218.3" cy="22.5" rx="4.9" ry="4.3" fill="#92cd62"/><ellipse cx="218.3" cy="22.5" rx="3.2" ry="2.7" fill="#c8e04c"/><ellipse cx="223.8" cy="31.0" rx="4.9" ry="4.3" fill="#92cd62"/><ellipse cx="223.8" cy="31.0" rx="3.2" ry="2.7" fill="#c8e04c"/><ellipse cx="227.8" cy="40.1" rx="4.9" ry="4.3" fill="#92cd62"/><ellipse cx="227.8" cy="40.1" rx="3.2" ry="2.7" fill="#c8e04c"/><ellipse cx="233.1" cy="49.5" rx="4.9" ry="4.3" fill="#92cd62"/><ellipse cx="233.1" cy="49.5" rx="3.2" ry="2.7" fill="#c8e04c"/><ellipse cx="237.8" cy="58.6" rx="4.9" ry="4.3" fill="#92cd62"/><ellipse cx="237.8" cy="58.6" rx="3.2" ry="2.7" fill="#c8e04c"/><ellipse cx="243.2" cy="67.3" rx="4.9" ry="4.3" fill="#92cd62"/><ellipse cx="243.2" cy="67.3" rx="3.2" ry="2.7" fill="#c8e04c"/><ellipse cx="247.6" cy="76.8" rx="4.9" ry="4.3" fill="#92cd62"/><ellipse cx="247.6" cy="76.8" rx="3.2" ry="2.7" fill="#c8e04c"/><ellipse cx="252.6" cy="85.6" rx="4.9" ry="4.3" fill="#92cd62"/><ellipse cx="252.6" cy="85.6" rx="3.2" ry="2.7" fill="#c8e04c"/><ellipse cx="257.4" cy="94.0" rx="4.9" ry="4.3" fill="#92cd62"/><ellipse cx="257.4" cy="94.0" rx="3.2" ry="2.7" fill="#c8e04c"/><ellipse cx="262.9" cy="103.1" rx="4.9" ry="4.3" fill="#92cd62"/><ellipse cx="262.9" cy="103.1" rx="3.2" ry="2.7" fill="#c8e04c"/><ellipse cx="268.0" cy="112.3" rx="4.9" ry="4.3" fill="#92cd62"/><ellipse cx="268.0" cy="112.3" rx="3.2" ry="2.7" fill="#c8e04c"/><ellipse cx="272.1" cy="121.0" rx="4.9" ry="4.3" fill="#92cd62"/><ellipse cx="272.1" cy="121.0" rx="3.2" ry="2.7" fill="#c8e04c"/><ellipse cx="223.3" cy="13.2" rx="4.9" ry="4.3" fill="#92cd62"/><ellipse cx="223.3" cy="13.2" rx="3.2" ry="2.7" fill="#c8e04c"/><ellipse cx="228.7" cy="21.6" rx="4.9" ry="4.3" fill="#92cd62"/><ellipse cx="228.7" cy="21.6" rx="3.2" ry="2.7" fill="#c8e04c"/><ellipse cx="233.1" cy="30.7" rx="4.9" ry="4.3" fill="#92cd62"/><ellipse cx="233.1" cy="30.7" rx="3.2" ry="2.7" fill="#c8e04c"/><ellipse cx="238.6" cy="39.6" rx="4.9" ry="4.3" fill="#92cd62"/><ellipse cx="238.6" cy="39.6" rx="3.2" ry="2.7" fill="#c8e04c"/><ellipse cx="242.6" cy="48.6" rx="4.9" ry="4.3" fill="#92cd62"/><ellipse cx="242.6" cy="48.6" rx="3.2" ry="2.7" fill="#c8e04c"/><ellipse cx="247.8" cy="58.4" rx="4.9" ry="4.3" fill="#92cd62"/><ellipse cx="247.8" cy="58.4" rx="3.2" ry="2.7" fill="#c8e04c"/><ellipse cx="253.2" cy="67.2" rx="4.9" ry="4.3" fill="#92cd62"/><ellipse cx="253.2" cy="67.2" rx="3.2" ry="2.7" fill="#c8e04c"/><ellipse cx="258.2" cy="76.4" rx="4.9" ry="4.3" fill="#92cd62"/><ellipse cx="258.2" cy="76.4" rx="3.2" ry="2.7" fill="#c8e04c"/><ellipse cx="262.4" cy="84.7" rx="4.9" ry="4.3" fill="#92cd62"/><ellipse cx="262.4" cy="84.7" rx="3.2" ry="2.7" fill="#c8e04c"/><ellipse cx="267.9" cy="94.2" rx="4.9" ry="4.3" fill="#92cd62"/><ellipse cx="267.9" cy="94.2" rx="3.2" ry="2.7" fill="#c8e04c"/><ellipse cx="271.9" cy="103.2" rx="4.9" ry="4.3" fill="#92cd62"/><ellipse cx="271.9" cy="103.2" rx="3.2" ry="2.7" fill="#c8e04c"/><ellipse cx="277.2" cy="111.9" rx="4.9" ry="4.3" fill="#92cd62"/><ellipse cx="277.2" cy="111.9" rx="3.2" ry="2.7" fill="#c8e04c"/><ellipse cx="282.0" cy="120.7" rx="4.9" ry="4.3" fill="#92cd62"/><ellipse cx="282.0" cy="120.7" rx="3.2" ry="2.7" fill="#c8e04c"/><ellipse cx="232.7" cy="12.5" rx="4.9" ry="4.3" fill="#92cd62"/><ellipse cx="232.7" cy="12.5" rx="3.2" ry="2.7" fill="#c8e04c"/><ellipse cx="238.0" cy="22.2" rx="4.9" ry="4.3" fill="#92cd62"/><ellipse cx="238.0" cy="22.2" rx="3.2" ry="2.7" fill="#c8e04c"/><ellipse cx="242.6" cy="31.2" rx="4.9" ry="4.3" fill="#92cd62"/><ellipse cx="242.6" cy="31.2" rx="3.2" ry="2.7" fill="#c8e04c"/><ellipse cx="247.6" cy="39.6" rx="4.9" ry="4.3" fill="#92cd62"/><ellipse cx="247.6" cy="39.6" rx="3.2" ry="2.7" fill="#c8e04c"/><ellipse cx="253.1" cy="49.0" rx="4.9" ry="4.3" fill="#92cd62"/><ellipse cx="253.1" cy="49.0" rx="3.2" ry="2.7" fill="#c8e04c"/><ellipse cx="257.6" cy="57.2" rx="4.9" ry="4.3" fill="#92cd62"/><ellipse cx="257.6" cy="57.2" rx="3.2" ry="2.7" fill="#c8e04c"/><ellipse cx="262.6" cy="66.6" rx="4.9" ry="4.3" fill="#92cd62"/><ellipse cx="262.6" cy="66.6" rx="3.2" ry="2.7" fill="#c8e04c"/><ellipse cx="267.9" cy="75.4" rx="4.9" ry="4.3" fill="#92cd62"/><ellipse cx="267.9" cy="75.4" rx="3.2" ry="2.7" fill="#c8e04c"/><ellipse cx="272.3" cy="85.1" rx="4.9" ry="4.3" fill="#92cd62"/><ellipse cx="272.3" cy="85.1" rx="3.2" ry="2.7" fill="#c8e04c"/><ellipse cx="276.8" cy="93.6" rx="4.9" ry="4.3" fill="#92cd62"/><ellipse cx="276.8" cy="93.6" rx="3.2" ry="2.7" fill="#c8e04c"/><ellipse cx="282.5" cy="103.0" rx="4.9" ry="4.3" fill="#92cd62"/><ellipse cx="282.5" cy="103.0" rx="3.2" ry="2.7" fill="#c8e04c"/><ellipse cx="242.5" cy="11.9" rx="4.9" ry="4.3" fill="#92cd62"/><ellipse cx="242.5" cy="11.9" rx="3.2" ry="2.7" fill="#c8e04c"/><ellipse cx="247.5" cy="21.8" rx="4.9" ry="4.3" fill="#92cd62"/><ellipse cx="247.5" cy="21.8" rx="3.2" ry="2.7" fill="#c8e04c"/><ellipse cx="252.6" cy="30.6" rx="4.9" ry="4.3" fill="#92cd62"/><ellipse cx="252.6" cy="30.6" rx="3.2" ry="2.7" fill="#c8e04c"/><ellipse cx="258.1" cy="39.2" rx="4.9" ry="4.3" fill="#92cd62"/><ellipse cx="258.1" cy="39.2" rx="3.2" ry="2.7" fill="#c8e04c"/><ellipse cx="262.4" cy="48.9" rx="4.9" ry="4.3" fill="#92cd62"/><ellipse cx="262.4" cy="48.9" rx="3.2" ry="2.7" fill="#c8e04c"/><ellipse cx="267.6" cy="57.2" rx="4.9" ry="4.3" fill="#92cd62"/><ellipse cx="267.6" cy="57.2" rx="3.2" ry="2.7" fill="#c8e04c"/><ellipse cx="272.6" cy="66.2" rx="4.9" ry="4.3" fill="#92cd62"/><ellipse cx="272.6" cy="66.2" rx="3.2" ry="2.7" fill="#c8e04c"/><ellipse cx="277.1" cy="74.9" rx="4.9" ry="4.3" fill="#92cd62"/><ellipse cx="277.1" cy="74.9" rx="3.2" ry="2.7" fill="#c8e04c"/><ellipse cx="282.5" cy="84.8" rx="4.9" ry="4.3" fill="#92cd62"/><ellipse cx="282.5" cy="84.8" rx="3.2" ry="2.7" fill="#c8e04c"/><ellipse cx="252.9" cy="12.5" rx="4.9" ry="4.3" fill="#92cd62"/><ellipse cx="252.9" cy="12.5" rx="3.2" ry="2.7" fill="#c8e04c"/><ellipse cx="257.2" cy="20.8" rx="4.9" ry="4.3" fill="#92cd62"/><ellipse cx="257.2" cy="20.8" rx="3.2" ry="2.7" fill="#c8e04c"/><ellipse cx="262.6" cy="30.6" rx="4.9" ry="4.3" fill="#92cd62"/><ellipse cx="262.6" cy="30.6" rx="3.2" ry="2.7" fill="#c8e04c"/><ellipse cx="268.0" cy="39.0" rx="4.9" ry="4.3" fill="#92cd62"/><ellipse cx="268.0" cy="39.0" rx="3.2" ry="2.7" fill="#c8e04c"/><ellipse cx="272.2" cy="48.0" rx="4.9" ry="4.3" fill="#92cd62"/><ellipse cx="272.2" cy="48.0" rx="3.2" ry="2.7" fill="#c8e04c"/><ellipse cx="277.3" cy="57.5" rx="4.9" ry="4.3" fill="#92cd62"/><ellipse cx="277.3" cy="57.5" rx="3.2" ry="2.7" fill="#c8e04c"/><ellipse cx="281.9" cy="66.4" rx="4.9" ry="4.3" fill="#92cd62"/><ellipse cx="281.9" cy="66.4" rx="3.2" ry="2.7" fill="#c8e04c"/><ellipse cx="262.8" cy="12.1" rx="4.9" ry="4.3" fill="#92cd62"/><ellipse cx="262.8" cy="12.1" rx="3.2" ry="2.7" fill="#c8e04c"/><ellipse cx="267.8" cy="20.9" rx="4.9" ry="4.3" fill="#92cd62"/><ellipse cx="267.8" cy="20.9" rx="3.2" ry="2.7" fill="#c8e04c"/><ellipse cx="272.2" cy="29.6" rx="4.9" ry="4.3" fill="#92cd62"/><ellipse cx="272.2" cy="29.6" rx="3.2" ry="2.7" fill="#c8e04c"/><ellipse cx="277.2" cy="39.1" rx="4.9" ry="4.3" fill="#92cd62"/><ellipse cx="277.2" cy="39.1" rx="3.2" ry="2.7" fill="#c8e04c"/><ellipse cx="281.8" cy="47.5" rx="4.9" ry="4.3" fill="#92cd62"/><ellipse cx="281.8" cy="47.5" rx="3.2" ry="2.7" fill="#c8e04c"/><ellipse cx="272.7" cy="11.2" rx="4.9" ry="4.3" fill="#92cd62"/><ellipse cx="272.7" cy="11.2" rx="3.2" ry="2.7" fill="#c8e04c"/><ellipse cx="276.9" cy="20.0" rx="4.9" ry="4.3" fill="#92cd62"/><ellipse cx="276.9" cy="20.0" rx="3.2" ry="2.7" fill="#c8e04c"/><ellipse cx="282.3" cy="29.3" rx="4.9" ry="4.3" fill="#92cd62"/><ellipse cx="282.3" cy="29.3" rx="3.2" ry="2.7" fill="#c8e04c"/><ellipse cx="282.7" cy="11.6" rx="4.9" ry="4.3" fill="#92cd62"/><ellipse cx="282.7" cy="11.6" rx="3.2" ry="2.7" fill="#c8e04c"/><path d="M177,25 L185,25 L188,33.7 L188.5,42.4 L189.5,51 L192,59.8 L192,68.5 L189,75.4 L185.5,80.7 L183,85.9 L182,94.6 L182,101.5 L182,110 L169,110 L170,101.5 L172.6,94.6 L174.8,85.9 L177,80.7 L180.4,75.4 L183.5,68.5 L183.7,59.8 L181.3,51 L180,42.4 L179.5,33.7Z" fill="#9ad45a" opacity="0.55"/></g><path d="M175.3,25.0 L173.5,26.5 L174.7,28.0 L174.9,29.5 L175.1,31.0 L176.0,32.5 L176.7,34.0 L175.0,35.5 L175.5,37.0 L175.7,38.5 L175.3,40.0 L175.4,41.5 L177.0,43.0 L176.0,44.5 L177.9,46.0 L176.4,47.5 L177.6,49.0 L176.6,50.5 L178.7,52.0 L179.3,53.5 L178.3,55.0 L178.4,56.5 L179.8,58.0 L179.7,59.5 L179.9,61.0 L180.5,62.5 L178.9,64.0 L179.9,65.5 L179.3,67.0 L178.8,68.5 L178.9,70.0 L177.2,71.5 L176.7,73.0 L175.6,74.5 L174.8,76.0 L174.6,77.5 L172.6,79.0 L172.7,80.5 L171.1,82.0 L172.0,83.5 L170.5,85.0 L171.6,86.5 L170.1,88.0 L169.1,89.5 L169.8,91.0 L167.4,92.5 L166.8,94.0 L167.5,95.5 L166.2,97.0 L165.2,98.5 L162.4,100.0 L162.2,101.5 L162.6,103.0 L161.6,104.5 L160.9,106.0 L160.0,107.5 L161.1,109.0 L176.6,109.0 L177.4,107.5 L176.6,106.0 L177.0,104.5 L176.4,103.0 L177.5,101.5 L176.2,100.0 L177.0,98.5 L176.9,97.0 L176.9,95.5 L176.1,94.0 L177.7,92.5 L177.1,91.0 L178.3,89.5 L177.4,88.0 L177.5,86.5 L178.0,85.0 L178.9,83.5 L179.2,82.0 L180.9,80.5 L181.4,79.0 L181.7,77.5 L184.2,76.0 L184.0,74.5 L185.3,73.0 L184.5,71.5 L186.3,70.0 L186.1,68.5 L185.8,67.0 L186.0,65.5 L186.7,64.0 L187.4,62.5 L185.9,61.0 L187.1,59.5 L186.8,58.0 L186.4,56.5 L184.3,55.0 L183.8,53.5 L185.0,52.0 L183.9,50.5 L184.7,49.0 L184.2,47.5 L183.4,46.0 L183.0,44.5 L183.2,43.0 L182.3,41.5 L182.4,40.0 L183.3,38.5 L182.8,37.0 L183.3,35.5 L182.8,34.0 L182.6,32.5 L181.9,31.0 L180.7,29.5 L181.2,28.0 L179.5,26.5 L179.3,25.0Z" fill="#cf1f26"/></g><line x1="63.00" y1="75.60" x2="271.00" y2="75.60" stroke="#fff" stroke-width="1.3" stroke-dasharray="3 2.2"/><path d="M110.4,53.6 L118.4,66.6 L102.8,66.6Z" fill="#1f4fa0"/><rect x="224.10" y="52.80" width="11.60" height="11.80" fill="#ee3b36" stroke="none" stroke-width="1" /><rect x="236.00" y="103.60" width="29.00" height="2.00" fill="#111" stroke="none" stroke-width="1" /><text x="238.80" y="100.20" font-size="8.53" text-anchor="start" fill="#111" stroke="#111" stroke-width="0.22" textLength="23.7" lengthAdjust="spacingAndGlyphs" >10 nm</text><rect x="47.00" y="46.30" width="8.00" height="44.20" fill="url(#jet)" stroke="none" stroke-width="1" /><text x="44.30" y="44.20" font-size="9.2" text-anchor="start" fill="#333333" stroke="#333333" stroke-width="0.22" textLength="10.7" lengthAdjust="spacingAndGlyphs" >0.5</text><text x="51.00" y="98.70" font-size="9" text-anchor="middle" fill="#333333" stroke="#333333" stroke-width="0.22" >0</text><text x="0" y="0" font-size="10.3" fill="#333333" stroke="#333333" stroke-width="0.22" textLength="51.70" lengthAdjust="spacingAndGlyphs" transform="translate(38.80 95.70) rotate(-90)">Current (nA)</text><text x="28.40" y="19.70" font-size="11.2" text-anchor="start" fill="#000" font-weight="bold" >a</text><g clip-path="url(#cb)" filter="url(#blur2)"><rect x="305" y="20" width="116" height="116" fill="#cdeb42"/><ellipse cx="297.0" cy="135.8" rx="8.5" ry="8.0" fill="#f49a30" opacity="0.6"/><ellipse cx="297.0" cy="135.8" rx="7.2" ry="6.8" fill="#f3622c"/><ellipse cx="297.0" cy="135.8" rx="5.3" ry="5.0" fill="#e5302a"/><ellipse cx="295.9" cy="91.8" rx="8.5" ry="8.0" fill="#f49a30" opacity="0.6"/><ellipse cx="295.9" cy="91.8" rx="7.2" ry="6.8" fill="#f3622c"/><ellipse cx="295.9" cy="91.8" rx="5.3" ry="5.0" fill="#e5302a"/><ellipse cx="301.4" cy="108.4" rx="8.5" ry="8.0" fill="#f49a30" opacity="0.6"/><ellipse cx="301.4" cy="108.4" rx="7.2" ry="6.8" fill="#f3622c"/><ellipse cx="301.4" cy="108.4" rx="5.3" ry="5.0" fill="#e5302a"/><ellipse cx="309.6" cy="123.1" rx="8.5" ry="8.0" fill="#f49a30" opacity="0.6"/><ellipse cx="309.6" cy="123.1" rx="7.2" ry="6.8" fill="#f3622c"/><ellipse cx="309.6" cy="123.1" rx="5.3" ry="5.0" fill="#e5302a"/><ellipse cx="314.9" cy="139.2" rx="8.5" ry="8.0" fill="#f49a30" opacity="0.6"/><ellipse cx="314.9" cy="139.2" rx="7.2" ry="6.8" fill="#f3622c"/><ellipse cx="314.9" cy="139.2" rx="5.3" ry="5.0" fill="#e5302a"/><ellipse cx="300.0" cy="65.3" rx="8.5" ry="8.0" fill="#f49a30" opacity="0.6"/><ellipse cx="300.0" cy="65.3" rx="7.2" ry="6.8" fill="#f3622c"/><ellipse cx="300.0" cy="65.3" rx="5.3" ry="5.0" fill="#e5302a"/><ellipse cx="307.2" cy="80.6" rx="8.5" ry="8.0" fill="#f49a30" opacity="0.6"/><ellipse cx="307.2" cy="80.6" rx="7.2" ry="6.8" fill="#f3622c"/><ellipse cx="307.2" cy="80.6" rx="5.3" ry="5.0" fill="#e5302a"/><ellipse cx="313.3" cy="96.0" rx="8.5" ry="8.0" fill="#f49a30" opacity="0.6"/><ellipse cx="313.3" cy="96.0" rx="7.2" ry="6.8" fill="#f3622c"/><ellipse cx="313.3" cy="96.0" rx="5.3" ry="5.0" fill="#e5302a"/><ellipse cx="320.2" cy="110.7" rx="8.5" ry="8.0" fill="#f49a30" opacity="0.6"/><ellipse cx="320.2" cy="110.7" rx="7.2" ry="6.8" fill="#f3622c"/><ellipse cx="320.2" cy="110.7" rx="5.3" ry="5.0" fill="#e5302a"/><ellipse cx="328.0" cy="126.8" rx="8.5" ry="8.0" fill="#f49a30" opacity="0.6"/><ellipse cx="328.0" cy="126.8" rx="7.2" ry="6.8" fill="#f3622c"/><ellipse cx="328.0" cy="126.8" rx="5.3" ry="5.0" fill="#e5302a"/><ellipse cx="333.7" cy="141.2" rx="8.5" ry="8.0" fill="#f49a30" opacity="0.6"/><ellipse cx="333.7" cy="141.2" rx="7.2" ry="6.8" fill="#f3622c"/><ellipse cx="333.7" cy="141.2" rx="5.3" ry="5.0" fill="#e5302a"/><ellipse cx="298.2" cy="21.7" rx="8.5" ry="8.0" fill="#f49a30" opacity="0.6"/><ellipse cx="298.2" cy="21.7" rx="7.2" ry="6.8" fill="#f3622c"/><ellipse cx="298.2" cy="21.7" rx="5.3" ry="5.0" fill="#e5302a"/><ellipse cx="305.0" cy="36.5" rx="8.5" ry="8.0" fill="#f49a30" opacity="0.6"/><ellipse cx="305.0" cy="36.5" rx="7.2" ry="6.8" fill="#f3622c"/><ellipse cx="305.0" cy="36.5" rx="5.3" ry="5.0" fill="#e5302a"/><ellipse cx="311.6" cy="52.9" rx="8.5" ry="8.0" fill="#f49a30" opacity="0.6"/><ellipse cx="311.6" cy="52.9" rx="7.2" ry="6.8" fill="#f3622c"/><ellipse cx="311.6" cy="52.9" rx="5.3" ry="5.0" fill="#e5302a"/><ellipse cx="319.4" cy="67.2" rx="8.5" ry="8.0" fill="#f49a30" opacity="0.6"/><ellipse cx="319.4" cy="67.2" rx="7.2" ry="6.8" fill="#f3622c"/><ellipse cx="319.4" cy="67.2" rx="5.3" ry="5.0" fill="#e5302a"/><ellipse cx="325.7" cy="83.7" rx="8.5" ry="8.0" fill="#f49a30" opacity="0.6"/><ellipse cx="325.7" cy="83.7" rx="7.2" ry="6.8" fill="#f3622c"/><ellipse cx="325.7" cy="83.7" rx="5.3" ry="5.0" fill="#e5302a"/><ellipse cx="331.7" cy="99.2" rx="8.5" ry="8.0" fill="#f49a30" opacity="0.6"/><ellipse cx="331.7" cy="99.2" rx="7.2" ry="6.8" fill="#f3622c"/><ellipse cx="331.7" cy="99.2" rx="5.3" ry="5.0" fill="#e5302a"/><ellipse cx="338.6" cy="114.3" rx="8.5" ry="8.0" fill="#f49a30" opacity="0.6"/><ellipse cx="338.6" cy="114.3" rx="7.2" ry="6.8" fill="#f3622c"/><ellipse cx="338.6" cy="114.3" rx="5.3" ry="5.0" fill="#e5302a"/><ellipse cx="346.1" cy="129.7" rx="8.5" ry="8.0" fill="#f49a30" opacity="0.6"/><ellipse cx="346.1" cy="129.7" rx="7.2" ry="6.8" fill="#f3622c"/><ellipse cx="346.1" cy="129.7" rx="5.3" ry="5.0" fill="#e5302a"/><ellipse cx="352.5" cy="144.8" rx="8.5" ry="8.0" fill="#f49a30" opacity="0.6"/><ellipse cx="352.5" cy="144.8" rx="7.2" ry="6.8" fill="#f3622c"/><ellipse cx="352.5" cy="144.8" rx="5.3" ry="5.0" fill="#e5302a"/><ellipse cx="317.1" cy="24.8" rx="8.5" ry="8.0" fill="#f49a30" opacity="0.6"/><ellipse cx="317.1" cy="24.8" rx="7.2" ry="6.8" fill="#f3622c"/><ellipse cx="317.1" cy="24.8" rx="5.3" ry="5.0" fill="#e5302a"/><ellipse cx="324.1" cy="40.2" rx="8.5" ry="8.0" fill="#f49a30" opacity="0.6"/><ellipse cx="324.1" cy="40.2" rx="7.2" ry="6.8" fill="#f3622c"/><ellipse cx="324.1" cy="40.2" rx="5.3" ry="5.0" fill="#e5302a"/><ellipse cx="330.5" cy="54.9" rx="8.5" ry="8.0" fill="#f49a30" opacity="0.6"/><ellipse cx="330.5" cy="54.9" rx="7.2" ry="6.8" fill="#f3622c"/><ellipse cx="330.5" cy="54.9" rx="5.3" ry="5.0" fill="#e5302a"/><ellipse cx="337.6" cy="71.1" rx="8.5" ry="8.0" fill="#f49a30" opacity="0.6"/><ellipse cx="337.6" cy="71.1" rx="7.2" ry="6.8" fill="#f3622c"/><ellipse cx="337.6" cy="71.1" rx="5.3" ry="5.0" fill="#e5302a"/><ellipse cx="343.8" cy="86.9" rx="8.5" ry="8.0" fill="#f49a30" opacity="0.6"/><ellipse cx="343.8" cy="86.9" rx="7.2" ry="6.8" fill="#f3622c"/><ellipse cx="343.8" cy="86.9" rx="5.3" ry="5.0" fill="#e5302a"/><ellipse cx="351.4" cy="101.8" rx="8.5" ry="8.0" fill="#f49a30" opacity="0.6"/><ellipse cx="351.4" cy="101.8" rx="7.2" ry="6.8" fill="#f3622c"/><ellipse cx="351.4" cy="101.8" rx="5.3" ry="5.0" fill="#e5302a"/><ellipse cx="357.3" cy="117.3" rx="8.5" ry="8.0" fill="#f49a30" opacity="0.6"/><ellipse cx="357.3" cy="117.3" rx="7.2" ry="6.8" fill="#f3622c"/><ellipse cx="357.3" cy="117.3" rx="5.3" ry="5.0" fill="#e5302a"/><ellipse cx="364.0" cy="132.1" rx="8.5" ry="8.0" fill="#f49a30" opacity="0.6"/><ellipse cx="364.0" cy="132.1" rx="7.2" ry="6.8" fill="#f3622c"/><ellipse cx="364.0" cy="132.1" rx="5.3" ry="5.0" fill="#e5302a"/><ellipse cx="328.7" cy="12.0" rx="8.5" ry="8.0" fill="#f49a30" opacity="0.6"/><ellipse cx="328.7" cy="12.0" rx="7.2" ry="6.8" fill="#f3622c"/><ellipse cx="328.7" cy="12.0" rx="5.3" ry="5.0" fill="#e5302a"/><ellipse cx="335.5" cy="28.1" rx="8.5" ry="8.0" fill="#f49a30" opacity="0.6"/><ellipse cx="335.5" cy="28.1" rx="7.2" ry="6.8" fill="#f3622c"/><ellipse cx="335.5" cy="28.1" rx="5.3" ry="5.0" fill="#e5302a"/><ellipse cx="341.7" cy="43.7" rx="8.5" ry="8.0" fill="#f49a30" opacity="0.6"/><ellipse cx="341.7" cy="43.7" rx="7.2" ry="6.8" fill="#f3622c"/><ellipse cx="341.7" cy="43.7" rx="5.3" ry="5.0" fill="#e5302a"/><ellipse cx="348.5" cy="59.3" rx="8.5" ry="8.0" fill="#f49a30" opacity="0.6"/><ellipse cx="348.5" cy="59.3" rx="7.2" ry="6.8" fill="#f3622c"/><ellipse cx="348.5" cy="59.3" rx="5.3" ry="5.0" fill="#e5302a"/><ellipse cx="356.4" cy="74.3" rx="8.5" ry="8.0" fill="#f49a30" opacity="0.6"/><ellipse cx="356.4" cy="74.3" rx="7.2" ry="6.8" fill="#f3622c"/><ellipse cx="356.4" cy="74.3" rx="5.3" ry="5.0" fill="#e5302a"/><ellipse cx="362.1" cy="89.7" rx="8.5" ry="8.0" fill="#f49a30" opacity="0.6"/><ellipse cx="362.1" cy="89.7" rx="7.2" ry="6.8" fill="#f3622c"/><ellipse cx="362.1" cy="89.7" rx="5.3" ry="5.0" fill="#e5302a"/><ellipse cx="369.4" cy="105.8" rx="8.5" ry="8.0" fill="#f49a30" opacity="0.6"/><ellipse cx="369.4" cy="105.8" rx="7.2" ry="6.8" fill="#f3622c"/><ellipse cx="369.4" cy="105.8" rx="5.3" ry="5.0" fill="#e5302a"/><ellipse cx="375.8" cy="121.1" rx="8.5" ry="8.0" fill="#f49a30" opacity="0.6"/><ellipse cx="375.8" cy="121.1" rx="7.2" ry="6.8" fill="#f3622c"/><ellipse cx="375.8" cy="121.1" rx="5.3" ry="5.0" fill="#e5302a"/><ellipse cx="384.0" cy="136.3" rx="8.5" ry="8.0" fill="#f49a30" opacity="0.6"/><ellipse cx="384.0" cy="136.3" rx="7.2" ry="6.8" fill="#f3622c"/><ellipse cx="384.0" cy="136.3" rx="5.3" ry="5.0" fill="#e5302a"/><ellipse cx="347.9" cy="15.4" rx="8.5" ry="8.0" fill="#f49a30" opacity="0.6"/><ellipse cx="347.9" cy="15.4" rx="7.2" ry="6.8" fill="#f3622c"/><ellipse cx="347.9" cy="15.4" rx="5.3" ry="5.0" fill="#e5302a"/><ellipse cx="355.0" cy="31.3" rx="8.5" ry="8.0" fill="#f49a30" opacity="0.6"/><ellipse cx="355.0" cy="31.3" rx="7.2" ry="6.8" fill="#f3622c"/><ellipse cx="355.0" cy="31.3" rx="5.3" ry="5.0" fill="#e5302a"/><ellipse cx="361.7" cy="47.4" rx="8.5" ry="8.0" fill="#f49a30" opacity="0.6"/><ellipse cx="361.7" cy="47.4" rx="7.2" ry="6.8" fill="#f3622c"/><ellipse cx="361.7" cy="47.4" rx="5.3" ry="5.0" fill="#e5302a"/><ellipse cx="367.3" cy="62.6" rx="8.5" ry="8.0" fill="#f49a30" opacity="0.6"/><ellipse cx="367.3" cy="62.6" rx="7.2" ry="6.8" fill="#f3622c"/><ellipse cx="367.3" cy="62.6" rx="5.3" ry="5.0" fill="#e5302a"/><ellipse cx="375.3" cy="76.8" rx="8.5" ry="8.0" fill="#f49a30" opacity="0.6"/><ellipse cx="375.3" cy="76.8" rx="7.2" ry="6.8" fill="#f3622c"/><ellipse cx="375.3" cy="76.8" rx="5.3" ry="5.0" fill="#e5302a"/><ellipse cx="381.2" cy="93.3" rx="8.5" ry="8.0" fill="#f49a30" opacity="0.6"/><ellipse cx="381.2" cy="93.3" rx="7.2" ry="6.8" fill="#f3622c"/><ellipse cx="381.2" cy="93.3" rx="5.3" ry="5.0" fill="#e5302a"/><ellipse cx="387.7" cy="108.9" rx="8.5" ry="8.0" fill="#f49a30" opacity="0.6"/><ellipse cx="387.7" cy="108.9" rx="7.2" ry="6.8" fill="#f3622c"/><ellipse cx="387.7" cy="108.9" rx="5.3" ry="5.0" fill="#e5302a"/><ellipse cx="394.6" cy="124.2" rx="8.5" ry="8.0" fill="#f49a30" opacity="0.6"/><ellipse cx="394.6" cy="124.2" rx="7.2" ry="6.8" fill="#f3622c"/><ellipse cx="394.6" cy="124.2" rx="5.3" ry="5.0" fill="#e5302a"/><ellipse cx="401.2" cy="139.1" rx="8.5" ry="8.0" fill="#f49a30" opacity="0.6"/><ellipse cx="401.2" cy="139.1" rx="7.2" ry="6.8" fill="#f3622c"/><ellipse cx="401.2" cy="139.1" rx="5.3" ry="5.0" fill="#e5302a"/><ellipse cx="366.7" cy="18.6" rx="8.5" ry="8.0" fill="#f49a30" opacity="0.6"/><ellipse cx="366.7" cy="18.6" rx="7.2" ry="6.8" fill="#f3622c"/><ellipse cx="366.7" cy="18.6" rx="5.3" ry="5.0" fill="#e5302a"/><ellipse cx="372.4" cy="34.5" rx="8.5" ry="8.0" fill="#f49a30" opacity="0.6"/><ellipse cx="372.4" cy="34.5" rx="7.2" ry="6.8" fill="#f3622c"/><ellipse cx="372.4" cy="34.5" rx="5.3" ry="5.0" fill="#e5302a"/><ellipse cx="379.3" cy="49.2" rx="8.5" ry="8.0" fill="#f49a30" opacity="0.6"/><ellipse cx="379.3" cy="49.2" rx="7.2" ry="6.8" fill="#f3622c"/><ellipse cx="379.3" cy="49.2" rx="5.3" ry="5.0" fill="#e5302a"/><ellipse cx="385.9" cy="64.8" rx="8.5" ry="8.0" fill="#f49a30" opacity="0.6"/><ellipse cx="385.9" cy="64.8" rx="7.2" ry="6.8" fill="#f3622c"/><ellipse cx="385.9" cy="64.8" rx="5.3" ry="5.0" fill="#e5302a"/><ellipse cx="393.9" cy="81.0" rx="8.5" ry="8.0" fill="#f49a30" opacity="0.6"/><ellipse cx="393.9" cy="81.0" rx="7.2" ry="6.8" fill="#f3622c"/><ellipse cx="393.9" cy="81.0" rx="5.3" ry="5.0" fill="#e5302a"/><ellipse cx="400.6" cy="95.6" rx="8.5" ry="8.0" fill="#f49a30" opacity="0.6"/><ellipse cx="400.6" cy="95.6" rx="7.2" ry="6.8" fill="#f3622c"/><ellipse cx="400.6" cy="95.6" rx="5.3" ry="5.0" fill="#e5302a"/><ellipse cx="407.3" cy="110.9" rx="8.5" ry="8.0" fill="#f49a30" opacity="0.6"/><ellipse cx="407.3" cy="110.9" rx="7.2" ry="6.8" fill="#f3622c"/><ellipse cx="407.3" cy="110.9" rx="5.3" ry="5.0" fill="#e5302a"/><ellipse cx="413.6" cy="127.1" rx="8.5" ry="8.0" fill="#f49a30" opacity="0.6"/><ellipse cx="413.6" cy="127.1" rx="7.2" ry="6.8" fill="#f3622c"/><ellipse cx="413.6" cy="127.1" rx="5.3" ry="5.0" fill="#e5302a"/><ellipse cx="420.2" cy="142.9" rx="8.5" ry="8.0" fill="#f49a30" opacity="0.6"/><ellipse cx="420.2" cy="142.9" rx="7.2" ry="6.8" fill="#f3622c"/><ellipse cx="420.2" cy="142.9" rx="5.3" ry="5.0" fill="#e5302a"/><ellipse cx="384.7" cy="22.4" rx="8.5" ry="8.0" fill="#f49a30" opacity="0.6"/><ellipse cx="384.7" cy="22.4" rx="7.2" ry="6.8" fill="#f3622c"/><ellipse cx="384.7" cy="22.4" rx="5.3" ry="5.0" fill="#e5302a"/><ellipse cx="392.0" cy="37.1" rx="8.5" ry="8.0" fill="#f49a30" opacity="0.6"/><ellipse cx="392.0" cy="37.1" rx="7.2" ry="6.8" fill="#f3622c"/><ellipse cx="392.0" cy="37.1" rx="5.3" ry="5.0" fill="#e5302a"/><ellipse cx="399.0" cy="53.3" rx="8.5" ry="8.0" fill="#f49a30" opacity="0.6"/><ellipse cx="399.0" cy="53.3" rx="7.2" ry="6.8" fill="#f3622c"/><ellipse cx="399.0" cy="53.3" rx="5.3" ry="5.0" fill="#e5302a"/><ellipse cx="404.8" cy="69.0" rx="8.5" ry="8.0" fill="#f49a30" opacity="0.6"/><ellipse cx="404.8" cy="69.0" rx="7.2" ry="6.8" fill="#f3622c"/><ellipse cx="404.8" cy="69.0" rx="5.3" ry="5.0" fill="#e5302a"/><ellipse cx="411.4" cy="84.7" rx="8.5" ry="8.0" fill="#f49a30" opacity="0.6"/><ellipse cx="411.4" cy="84.7" rx="7.2" ry="6.8" fill="#f3622c"/><ellipse cx="411.4" cy="84.7" rx="5.3" ry="5.0" fill="#e5302a"/><ellipse cx="418.7" cy="99.1" rx="8.5" ry="8.0" fill="#f49a30" opacity="0.6"/><ellipse cx="418.7" cy="99.1" rx="7.2" ry="6.8" fill="#f3622c"/><ellipse cx="418.7" cy="99.1" rx="5.3" ry="5.0" fill="#e5302a"/><ellipse cx="425.8" cy="114.6" rx="8.5" ry="8.0" fill="#f49a30" opacity="0.6"/><ellipse cx="425.8" cy="114.6" rx="7.2" ry="6.8" fill="#f3622c"/><ellipse cx="425.8" cy="114.6" rx="5.3" ry="5.0" fill="#e5302a"/><ellipse cx="402.7" cy="25.9" rx="8.5" ry="8.0" fill="#f49a30" opacity="0.6"/><ellipse cx="402.7" cy="25.9" rx="7.2" ry="6.8" fill="#f3622c"/><ellipse cx="402.7" cy="25.9" rx="5.3" ry="5.0" fill="#e5302a"/><ellipse cx="409.3" cy="41.4" rx="8.5" ry="8.0" fill="#f49a30" opacity="0.6"/><ellipse cx="409.3" cy="41.4" rx="7.2" ry="6.8" fill="#f3622c"/><ellipse cx="409.3" cy="41.4" rx="5.3" ry="5.0" fill="#e5302a"/><ellipse cx="416.4" cy="56.5" rx="8.5" ry="8.0" fill="#f49a30" opacity="0.6"/><ellipse cx="416.4" cy="56.5" rx="7.2" ry="6.8" fill="#f3622c"/><ellipse cx="416.4" cy="56.5" rx="5.3" ry="5.0" fill="#e5302a"/><ellipse cx="424.4" cy="71.8" rx="8.5" ry="8.0" fill="#f49a30" opacity="0.6"/><ellipse cx="424.4" cy="71.8" rx="7.2" ry="6.8" fill="#f3622c"/><ellipse cx="424.4" cy="71.8" rx="5.3" ry="5.0" fill="#e5302a"/><ellipse cx="430.7" cy="86.8" rx="8.5" ry="8.0" fill="#f49a30" opacity="0.6"/><ellipse cx="430.7" cy="86.8" rx="7.2" ry="6.8" fill="#f3622c"/><ellipse cx="430.7" cy="86.8" rx="5.3" ry="5.0" fill="#e5302a"/><ellipse cx="414.2" cy="12.6" rx="8.5" ry="8.0" fill="#f49a30" opacity="0.6"/><ellipse cx="414.2" cy="12.6" rx="7.2" ry="6.8" fill="#f3622c"/><ellipse cx="414.2" cy="12.6" rx="5.3" ry="5.0" fill="#e5302a"/><ellipse cx="421.2" cy="28.9" rx="8.5" ry="8.0" fill="#f49a30" opacity="0.6"/><ellipse cx="421.2" cy="28.9" rx="7.2" ry="6.8" fill="#f3622c"/><ellipse cx="421.2" cy="28.9" rx="5.3" ry="5.0" fill="#e5302a"/><ellipse cx="428.5" cy="44.1" rx="8.5" ry="8.0" fill="#f49a30" opacity="0.6"/><ellipse cx="428.5" cy="44.1" rx="7.2" ry="6.8" fill="#f3622c"/><ellipse cx="428.5" cy="44.1" rx="5.3" ry="5.0" fill="#e5302a"/></g><line x1="322.20" y1="68.80" x2="400.70" y2="80.80" stroke="#fff" stroke-width="1.3" stroke-dasharray="3 2.2"/><path d="M320.5,31.1 L326.2,40.8 L314.8,40.8Z" fill="#1f4fa0"/><rect x="388.20" y="125.40" width="25.40" height="2.20" fill="#111" stroke="none" stroke-width="1" /><text x="390.60" y="122.70" font-size="8.82" text-anchor="start" fill="#111" stroke="#111" stroke-width="0.22" textLength="19.6" lengthAdjust="spacingAndGlyphs" >5 nm</text><text x="295.60" y="21.30" font-size="11.2" text-anchor="start" fill="#000" font-weight="bold" >b</text><g clip-path="url(#cc)" filter="url(#blur2)"><rect x="305" y="148" width="116" height="116" fill="#3b8ad0"/><path d="M297.1,147.8 L300.7,153.9 L293.5,153.9Z" fill="#1c3e90"/><path d="M302.8,154.2 L305.7,149.4 L299.9,149.4Z" fill="#1c3e90"/><path d="M314.3,146.6 L317.9,152.7 L310.7,152.7Z" fill="#1c3e90"/><path d="M320.0,153.0 L322.9,148.2 L317.1,148.2Z" fill="#1c3e90"/><path d="M307.5,160.7 L311.1,166.8 L303.9,166.8Z" fill="#1c3e90"/><path d="M313.2,167.1 L316.1,162.3 L310.3,162.3Z" fill="#1c3e90"/><path d="M300.7,174.8 L304.3,180.9 L297.1,180.9Z" fill="#1c3e90"/><path d="M306.4,181.2 L309.2,176.4 L303.5,176.4Z" fill="#1c3e90"/><path d="M293.9,188.9 L297.5,195.0 L290.3,195.0Z" fill="#1c3e90"/><path d="M299.6,195.3 L302.4,190.5 L296.7,190.5Z" fill="#1c3e90"/><path d="M331.5,145.4 L335.1,151.5 L327.9,151.5Z" fill="#1c3e90"/><path d="M337.2,151.8 L340.1,147.0 L334.3,147.0Z" fill="#1c3e90"/><path d="M324.7,159.5 L328.3,165.6 L321.1,165.6Z" fill="#1c3e90"/><path d="M330.4,165.9 L333.2,161.1 L327.5,161.1Z" fill="#1c3e90"/><path d="M317.9,173.6 L321.5,179.7 L314.3,179.7Z" fill="#1c3e90"/><path d="M323.6,180.0 L326.4,175.2 L320.7,175.2Z" fill="#1c3e90"/><path d="M311.1,187.7 L314.7,193.8 L307.5,193.8Z" fill="#1c3e90"/><path d="M316.8,194.1 L319.6,189.3 L313.9,189.3Z" fill="#1c3e90"/><path d="M304.3,201.8 L307.9,207.9 L300.7,207.9Z" fill="#1c3e90"/><path d="M310.0,208.2 L312.8,203.4 L307.1,203.4Z" fill="#1c3e90"/><path d="M297.5,215.9 L301.1,222.0 L293.9,222.0Z" fill="#1c3e90"/><path d="M303.2,222.3 L306.1,217.5 L300.3,217.5Z" fill="#1c3e90"/><path d="M348.7,144.2 L352.3,150.3 L345.1,150.3Z" fill="#1c3e90"/><path d="M354.4,150.6 L357.2,145.8 L351.5,145.8Z" fill="#1c3e90"/><path d="M341.9,158.3 L345.5,164.4 L338.3,164.4Z" fill="#1c3e90"/><path d="M347.6,164.7 L350.4,159.9 L344.7,159.9Z" fill="#1c3e90"/><path d="M335.1,172.4 L338.7,178.5 L331.5,178.5Z" fill="#1c3e90"/><path d="M340.8,178.8 L343.6,174.0 L337.9,174.0Z" fill="#1c3e90"/><path d="M328.3,186.5 L331.9,192.6 L324.7,192.6Z" fill="#1c3e90"/><path d="M334.0,192.9 L336.8,188.1 L331.1,188.1Z" fill="#1c3e90"/><path d="M321.5,200.6 L325.1,206.7 L317.9,206.7Z" fill="#1c3e90"/><path d="M327.2,207.0 L330.0,202.2 L324.3,202.2Z" fill="#1c3e90"/><path d="M314.7,214.7 L318.3,220.8 L311.1,220.8Z" fill="#1c3e90"/><path d="M320.4,221.1 L323.2,216.3 L317.5,216.3Z" fill="#1c3e90"/><path d="M307.9,228.8 L311.5,234.9 L304.3,234.9Z" fill="#1c3e90"/><path d="M313.6,235.2 L316.4,230.4 L310.7,230.4Z" fill="#1c3e90"/><path d="M301.1,242.9 L304.7,249.0 L297.5,249.0Z" fill="#1c3e90"/><path d="M306.8,249.3 L309.6,244.5 L303.9,244.5Z" fill="#1c3e90"/><path d="M294.3,257.0 L297.9,263.1 L290.7,263.1Z" fill="#1c3e90"/><path d="M300.0,263.4 L302.8,258.6 L297.1,258.6Z" fill="#1c3e90"/><path d="M365.9,143.0 L369.5,149.1 L362.3,149.1Z" fill="#1c3e90"/><path d="M371.6,149.4 L374.4,144.6 L368.7,144.6Z" fill="#1c3e90"/><path d="M359.1,157.1 L362.7,163.2 L355.5,163.2Z" fill="#1c3e90"/><path d="M364.8,163.5 L367.6,158.7 L361.9,158.7Z" fill="#1c3e90"/><path d="M352.3,171.2 L355.9,177.3 L348.7,177.3Z" fill="#1c3e90"/><path d="M358.0,177.6 L360.8,172.8 L355.1,172.8Z" fill="#1c3e90"/><path d="M345.5,185.3 L349.1,191.4 L341.9,191.4Z" fill="#1c3e90"/><path d="M351.2,191.7 L354.0,186.9 L348.3,186.9Z" fill="#1c3e90"/><path d="M338.7,199.4 L342.3,205.5 L335.1,205.5Z" fill="#1c3e90"/><path d="M344.4,205.8 L347.2,201.0 L341.5,201.0Z" fill="#1c3e90"/><path d="M331.9,213.5 L335.5,219.6 L328.3,219.6Z" fill="#1c3e90"/><path d="M337.6,219.9 L340.4,215.1 L334.7,215.1Z" fill="#1c3e90"/><path d="M325.1,227.6 L328.7,233.7 L321.5,233.7Z" fill="#1c3e90"/><path d="M330.8,234.0 L333.6,229.2 L327.9,229.2Z" fill="#1c3e90"/><path d="M318.3,241.7 L321.9,247.8 L314.7,247.8Z" fill="#1c3e90"/><path d="M324.0,248.1 L326.8,243.3 L321.1,243.3Z" fill="#1c3e90"/><path d="M311.5,255.8 L315.1,261.9 L307.9,261.9Z" fill="#1c3e90"/><path d="M317.2,262.2 L320.0,257.4 L314.3,257.4Z" fill="#1c3e90"/><path d="M304.7,269.9 L308.3,276.0 L301.1,276.0Z" fill="#1c3e90"/><path d="M310.4,276.3 L313.2,271.5 L307.5,271.5Z" fill="#1c3e90"/><path d="M383.1,141.8 L386.7,147.9 L379.5,147.9Z" fill="#1c3e90"/><path d="M388.8,148.2 L391.7,143.4 L385.9,143.4Z" fill="#1c3e90"/><path d="M376.3,155.9 L379.9,162.0 L372.7,162.0Z" fill="#1c3e90"/><path d="M382.0,162.3 L384.9,157.5 L379.1,157.5Z" fill="#1c3e90"/><path d="M369.5,170.0 L373.1,176.1 L365.9,176.1Z" fill="#1c3e90"/><path d="M375.2,176.4 L378.1,171.6 L372.3,171.6Z" fill="#1c3e90"/><path d="M362.7,184.1 L366.3,190.2 L359.1,190.2Z" fill="#1c3e90"/><path d="M368.4,190.5 L371.2,185.7 L365.5,185.7Z" fill="#1c3e90"/><path d="M355.9,198.2 L359.5,204.3 L352.3,204.3Z" fill="#1c3e90"/><path d="M361.6,204.6 L364.4,199.8 L358.7,199.8Z" fill="#1c3e90"/><path d="M349.1,212.3 L352.7,218.4 L345.5,218.4Z" fill="#1c3e90"/><path d="M354.8,218.7 L357.7,213.9 L351.9,213.9Z" fill="#1c3e90"/><path d="M342.3,226.4 L345.9,232.5 L338.7,232.5Z" fill="#1c3e90"/><path d="M348.0,232.8 L350.9,228.0 L345.1,228.0Z" fill="#1c3e90"/><path d="M335.5,240.5 L339.1,246.6 L331.9,246.6Z" fill="#1c3e90"/><path d="M341.2,246.9 L344.1,242.1 L338.3,242.1Z" fill="#1c3e90"/><path d="M328.7,254.6 L332.3,260.7 L325.1,260.7Z" fill="#1c3e90"/><path d="M334.4,261.0 L337.2,256.2 L331.5,256.2Z" fill="#1c3e90"/><path d="M321.9,268.7 L325.5,274.8 L318.3,274.8Z" fill="#1c3e90"/><path d="M327.6,275.1 L330.4,270.3 L324.7,270.3Z" fill="#1c3e90"/><path d="M400.3,140.6 L403.9,146.7 L396.7,146.7Z" fill="#1c3e90"/><path d="M406.0,147.0 L408.9,142.2 L403.1,142.2Z" fill="#1c3e90"/><path d="M393.5,154.7 L397.1,160.8 L389.9,160.8Z" fill="#1c3e90"/><path d="M399.2,161.1 L402.1,156.3 L396.3,156.3Z" fill="#1c3e90"/><path d="M386.7,168.8 L390.3,174.9 L383.1,174.9Z" fill="#1c3e90"/><path d="M392.4,175.2 L395.2,170.4 L389.5,170.4Z" fill="#1c3e90"/><path d="M379.9,182.9 L383.5,189.0 L376.3,189.0Z" fill="#1c3e90"/><path d="M385.6,189.3 L388.4,184.5 L382.7,184.5Z" fill="#1c3e90"/><path d="M373.1,197.0 L376.7,203.1 L369.5,203.1Z" fill="#1c3e90"/><path d="M378.8,203.4 L381.6,198.6 L375.9,198.6Z" fill="#1c3e90"/><path d="M366.3,211.1 L369.9,217.2 L362.7,217.2Z" fill="#1c3e90"/><path d="M372.0,217.5 L374.9,212.7 L369.1,212.7Z" fill="#1c3e90"/><path d="M359.5,225.2 L363.1,231.3 L355.9,231.3Z" fill="#1c3e90"/><path d="M365.2,231.6 L368.1,226.8 L362.3,226.8Z" fill="#1c3e90"/><path d="M352.7,239.3 L356.3,245.4 L349.1,245.4Z" fill="#1c3e90"/><path d="M358.4,245.7 L361.2,240.9 L355.5,240.9Z" fill="#1c3e90"/><path d="M345.9,253.4 L349.5,259.5 L342.3,259.5Z" fill="#1c3e90"/><path d="M351.6,259.8 L354.4,255.0 L348.7,255.0Z" fill="#1c3e90"/><path d="M339.1,267.5 L342.7,273.6 L335.5,273.6Z" fill="#1c3e90"/><path d="M344.8,273.9 L347.6,269.1 L341.9,269.1Z" fill="#1c3e90"/><path d="M417.5,139.4 L421.1,145.5 L413.9,145.5Z" fill="#1c3e90"/><path d="M423.2,145.8 L426.1,141.0 L420.3,141.0Z" fill="#1c3e90"/><path d="M410.7,153.5 L414.3,159.6 L407.1,159.6Z" fill="#1c3e90"/><path d="M416.4,159.9 L419.2,155.1 L413.5,155.1Z" fill="#1c3e90"/><path d="M403.9,167.6 L407.5,173.7 L400.3,173.7Z" fill="#1c3e90"/><path d="M409.6,174.0 L412.4,169.2 L406.7,169.2Z" fill="#1c3e90"/><path d="M397.1,181.7 L400.7,187.8 L393.5,187.8Z" fill="#1c3e90"/><path d="M402.8,188.1 L405.6,183.3 L399.9,183.3Z" fill="#1c3e90"/><path d="M390.3,195.8 L393.9,201.9 L386.7,201.9Z" fill="#1c3e90"/><path d="M396.0,202.2 L398.8,197.4 L393.1,197.4Z" fill="#1c3e90"/><path d="M383.5,209.9 L387.1,216.0 L379.9,216.0Z" fill="#1c3e90"/><path d="M389.2,216.3 L392.1,211.5 L386.3,211.5Z" fill="#1c3e90"/><path d="M376.7,224.0 L380.3,230.1 L373.1,230.1Z" fill="#1c3e90"/><path d="M382.4,230.4 L385.2,225.6 L379.5,225.6Z" fill="#1c3e90"/><path d="M369.9,238.1 L373.5,244.2 L366.3,244.2Z" fill="#1c3e90"/><path d="M375.6,244.5 L378.4,239.7 L372.7,239.7Z" fill="#1c3e90"/><path d="M363.1,252.2 L366.7,258.3 L359.5,258.3Z" fill="#1c3e90"/><path d="M368.8,258.6 L371.6,253.8 L365.9,253.8Z" fill="#1c3e90"/><path d="M356.3,266.3 L359.9,272.4 L352.7,272.4Z" fill="#1c3e90"/><path d="M362.0,272.7 L364.8,267.9 L359.1,267.9Z" fill="#1c3e90"/><path d="M349.5,280.4 L353.1,286.5 L345.9,286.5Z" fill="#1c3e90"/><path d="M355.2,286.8 L358.1,282.0 L352.3,282.0Z" fill="#1c3e90"/><path d="M434.7,138.2 L438.3,144.3 L431.1,144.3Z" fill="#1c3e90"/><path d="M440.4,144.6 L443.2,139.8 L437.5,139.8Z" fill="#1c3e90"/><path d="M427.9,152.3 L431.5,158.4 L424.3,158.4Z" fill="#1c3e90"/><path d="M433.6,158.7 L436.4,153.9 L430.7,153.9Z" fill="#1c3e90"/><path d="M421.1,166.4 L424.7,172.5 L417.5,172.5Z" fill="#1c3e90"/><path d="M426.8,172.8 L429.6,168.0 L423.9,168.0Z" fill="#1c3e90"/><path d="M414.3,180.5 L417.9,186.6 L410.7,186.6Z" fill="#1c3e90"/><path d="M420.0,186.9 L422.8,182.1 L417.1,182.1Z" fill="#1c3e90"/><path d="M407.5,194.6 L411.1,200.7 L403.9,200.7Z" fill="#1c3e90"/><path d="M413.2,201.0 L416.0,196.2 L410.3,196.2Z" fill="#1c3e90"/><path d="M400.7,208.7 L404.3,214.8 L397.1,214.8Z" fill="#1c3e90"/><path d="M406.4,215.1 L409.2,210.3 L403.5,210.3Z" fill="#1c3e90"/><path d="M393.9,222.8 L397.5,228.9 L390.3,228.9Z" fill="#1c3e90"/><path d="M399.6,229.2 L402.4,224.4 L396.7,224.4Z" fill="#1c3e90"/><path d="M387.1,236.9 L390.7,243.0 L383.5,243.0Z" fill="#1c3e90"/><path d="M392.8,243.3 L395.6,238.5 L389.9,238.5Z" fill="#1c3e90"/><path d="M380.3,251.0 L383.9,257.1 L376.7,257.1Z" fill="#1c3e90"/><path d="M386.0,257.4 L388.8,252.6 L383.1,252.6Z" fill="#1c3e90"/><path d="M373.5,265.1 L377.1,271.2 L369.9,271.2Z" fill="#1c3e90"/><path d="M379.2,271.5 L382.0,266.7 L376.3,266.7Z" fill="#1c3e90"/><path d="M366.7,279.2 L370.3,285.3 L363.1,285.3Z" fill="#1c3e90"/><path d="M372.4,285.6 L375.2,280.8 L369.5,280.8Z" fill="#1c3e90"/><path d="M438.3,165.2 L441.9,171.3 L434.7,171.3Z" fill="#1c3e90"/><path d="M444.0,171.6 L446.8,166.8 L441.1,166.8Z" fill="#1c3e90"/><path d="M431.5,179.3 L435.1,185.4 L427.9,185.4Z" fill="#1c3e90"/><path d="M437.2,185.7 L440.0,180.9 L434.3,180.9Z" fill="#1c3e90"/><path d="M424.7,193.4 L428.3,199.5 L421.1,199.5Z" fill="#1c3e90"/><path d="M430.4,199.8 L433.2,195.0 L427.5,195.0Z" fill="#1c3e90"/><path d="M417.9,207.5 L421.5,213.6 L414.3,213.6Z" fill="#1c3e90"/><path d="M423.6,213.9 L426.4,209.1 L420.7,209.1Z" fill="#1c3e90"/><path d="M411.1,221.6 L414.7,227.7 L407.5,227.7Z" fill="#1c3e90"/><path d="M416.8,228.0 L419.6,223.2 L413.9,223.2Z" fill="#1c3e90"/><path d="M404.3,235.7 L407.9,241.8 L400.7,241.8Z" fill="#1c3e90"/><path d="M410.0,242.1 L412.8,237.3 L407.1,237.3Z" fill="#1c3e90"/><path d="M397.5,249.8 L401.1,255.9 L393.9,255.9Z" fill="#1c3e90"/><path d="M403.2,256.2 L406.0,251.4 L400.3,251.4Z" fill="#1c3e90"/><path d="M390.7,263.9 L394.3,270.0 L387.1,270.0Z" fill="#1c3e90"/><path d="M396.4,270.3 L399.2,265.5 L393.5,265.5Z" fill="#1c3e90"/><path d="M383.9,278.0 L387.5,284.1 L380.3,284.1Z" fill="#1c3e90"/><path d="M389.6,284.4 L392.4,279.6 L386.7,279.6Z" fill="#1c3e90"/><path d="M441.9,192.2 L445.5,198.3 L438.3,198.3Z" fill="#1c3e90"/><path d="M447.6,198.6 L450.4,193.8 L444.7,193.8Z" fill="#1c3e90"/><path d="M435.1,206.3 L438.7,212.4 L431.5,212.4Z" fill="#1c3e90"/><path d="M440.8,212.7 L443.7,207.9 L437.9,207.9Z" fill="#1c3e90"/><path d="M428.3,220.4 L431.9,226.5 L424.7,226.5Z" fill="#1c3e90"/><path d="M434.0,226.8 L436.9,222.0 L431.1,222.0Z" fill="#1c3e90"/><path d="M421.5,234.5 L425.1,240.6 L417.9,240.6Z" fill="#1c3e90"/><path d="M427.2,240.9 L430.1,236.1 L424.3,236.1Z" fill="#1c3e90"/><path d="M414.7,248.6 L418.3,254.7 L411.1,254.7Z" fill="#1c3e90"/><path d="M420.4,255.0 L423.2,250.2 L417.5,250.2Z" fill="#1c3e90"/><path d="M407.9,262.7 L411.5,268.8 L404.3,268.8Z" fill="#1c3e90"/><path d="M413.6,269.1 L416.4,264.3 L410.7,264.3Z" fill="#1c3e90"/><path d="M401.1,276.8 L404.7,282.9 L397.5,282.9Z" fill="#1c3e90"/><path d="M406.8,283.2 L409.7,278.4 L403.9,278.4Z" fill="#1c3e90"/><path d="M438.7,233.3 L442.3,239.4 L435.1,239.4Z" fill="#1c3e90"/><path d="M444.4,239.7 L447.2,234.9 L441.5,234.9Z" fill="#1c3e90"/><path d="M431.9,247.4 L435.5,253.5 L428.3,253.5Z" fill="#1c3e90"/><path d="M437.6,253.8 L440.4,249.0 L434.7,249.0Z" fill="#1c3e90"/><path d="M425.1,261.5 L428.7,267.6 L421.5,267.6Z" fill="#1c3e90"/><path d="M430.8,267.9 L433.6,263.1 L427.9,263.1Z" fill="#1c3e90"/><path d="M418.3,275.6 L421.9,281.7 L414.7,281.7Z" fill="#1c3e90"/><path d="M424.0,282.0 L426.8,277.2 L421.1,277.2Z" fill="#1c3e90"/><path d="M442.3,260.3 L445.9,266.4 L438.7,266.4Z" fill="#1c3e90"/><path d="M448.0,266.7 L450.8,261.9 L445.1,261.9Z" fill="#1c3e90"/><path d="M435.5,274.4 L439.1,280.5 L431.9,280.5Z" fill="#1c3e90"/><path d="M441.2,280.8 L444.1,276.0 L438.3,276.0Z" fill="#1c3e90"/><ellipse cx="311.3" cy="145.7" rx="7.9" ry="6.6" fill="#6cc26c"/><ellipse cx="311.3" cy="145.7" rx="5.5" ry="4.5" fill="#c4e44a"/><ellipse cx="303.7" cy="160.4" rx="7.9" ry="6.6" fill="#6cc26c"/><ellipse cx="303.7" cy="160.4" rx="5.5" ry="4.5" fill="#c4e44a"/><ellipse cx="296.6" cy="173.7" rx="7.9" ry="6.6" fill="#6cc26c"/><ellipse cx="296.6" cy="173.7" rx="5.5" ry="4.5" fill="#c4e44a"/><ellipse cx="327.8" cy="144.4" rx="7.9" ry="6.6" fill="#6cc26c"/><ellipse cx="327.8" cy="144.4" rx="5.5" ry="4.5" fill="#c4e44a"/><ellipse cx="321.0" cy="158.7" rx="7.9" ry="6.6" fill="#6cc26c"/><ellipse cx="321.0" cy="158.7" rx="5.5" ry="4.5" fill="#c4e44a"/><ellipse cx="314.5" cy="173.2" rx="7.9" ry="6.6" fill="#6cc26c"/><ellipse cx="314.5" cy="173.2" rx="5.5" ry="4.5" fill="#c4e44a"/><ellipse cx="307.2" cy="187.3" rx="7.9" ry="6.6" fill="#6cc26c"/><ellipse cx="307.2" cy="187.3" rx="5.5" ry="4.5" fill="#c4e44a"/><ellipse cx="300.8" cy="200.9" rx="7.9" ry="6.6" fill="#6cc26c"/><ellipse cx="300.8" cy="200.9" rx="5.5" ry="4.5" fill="#c4e44a"/><ellipse cx="294.5" cy="215.1" rx="7.9" ry="6.6" fill="#6cc26c"/><ellipse cx="294.5" cy="215.1" rx="5.5" ry="4.5" fill="#c4e44a"/><ellipse cx="344.8" cy="143.2" rx="7.9" ry="6.6" fill="#6cc26c"/><ellipse cx="344.8" cy="143.2" rx="5.5" ry="4.5" fill="#c4e44a"/><ellipse cx="338.6" cy="158.2" rx="7.9" ry="6.6" fill="#6cc26c"/><ellipse cx="338.6" cy="158.2" rx="5.5" ry="4.5" fill="#c4e44a"/><ellipse cx="331.9" cy="171.8" rx="7.9" ry="6.6" fill="#6cc26c"/><ellipse cx="331.9" cy="171.8" rx="5.5" ry="4.5" fill="#c4e44a"/><ellipse cx="324.5" cy="185.4" rx="7.9" ry="6.6" fill="#6cc26c"/><ellipse cx="324.5" cy="185.4" rx="5.5" ry="4.5" fill="#c4e44a"/><ellipse cx="318.2" cy="200.2" rx="7.9" ry="6.6" fill="#6cc26c"/><ellipse cx="318.2" cy="200.2" rx="5.5" ry="4.5" fill="#c4e44a"/><ellipse cx="311.0" cy="214.4" rx="7.9" ry="6.6" fill="#6cc26c"/><ellipse cx="311.0" cy="214.4" rx="5.5" ry="4.5" fill="#c4e44a"/><ellipse cx="304.3" cy="228.8" rx="7.9" ry="6.6" fill="#6cc26c"/><ellipse cx="304.3" cy="228.8" rx="5.5" ry="4.5" fill="#c4e44a"/><ellipse cx="297.9" cy="242.1" rx="7.9" ry="6.6" fill="#6cc26c"/><ellipse cx="297.9" cy="242.1" rx="5.5" ry="4.5" fill="#c4e44a"/><ellipse cx="362.9" cy="142.0" rx="7.9" ry="6.6" fill="#6cc26c"/><ellipse cx="362.9" cy="142.0" rx="5.5" ry="4.5" fill="#c4e44a"/><ellipse cx="355.6" cy="156.5" rx="7.9" ry="6.6" fill="#6cc26c"/><ellipse cx="355.6" cy="156.5" rx="5.5" ry="4.5" fill="#c4e44a"/><ellipse cx="348.5" cy="170.2" rx="7.9" ry="6.6" fill="#6cc26c"/><ellipse cx="348.5" cy="170.2" rx="5.5" ry="4.5" fill="#c4e44a"/><ellipse cx="342.3" cy="184.2" rx="7.9" ry="6.6" fill="#6cc26c"/><ellipse cx="342.3" cy="184.2" rx="5.5" ry="4.5" fill="#c4e44a"/><ellipse cx="335.3" cy="199.4" rx="7.9" ry="6.6" fill="#6cc26c"/><ellipse cx="335.3" cy="199.4" rx="5.5" ry="4.5" fill="#c4e44a"/><ellipse cx="328.0" cy="212.6" rx="7.9" ry="6.6" fill="#6cc26c"/><ellipse cx="328.0" cy="212.6" rx="5.5" ry="4.5" fill="#c4e44a"/><ellipse cx="321.7" cy="227.1" rx="7.9" ry="6.6" fill="#6cc26c"/><ellipse cx="321.7" cy="227.1" rx="5.5" ry="4.5" fill="#c4e44a"/><ellipse cx="315.0" cy="241.6" rx="7.9" ry="6.6" fill="#6cc26c"/><ellipse cx="315.0" cy="241.6" rx="5.5" ry="4.5" fill="#c4e44a"/><ellipse cx="307.6" cy="255.1" rx="7.9" ry="6.6" fill="#6cc26c"/><ellipse cx="307.6" cy="255.1" rx="5.5" ry="4.5" fill="#c4e44a"/><ellipse cx="301.0" cy="268.9" rx="7.9" ry="6.6" fill="#6cc26c"/><ellipse cx="301.0" cy="268.9" rx="5.5" ry="4.5" fill="#c4e44a"/><ellipse cx="380.1" cy="141.6" rx="7.9" ry="6.6" fill="#6cc26c"/><ellipse cx="380.1" cy="141.6" rx="5.5" ry="4.5" fill="#c4e44a"/><ellipse cx="373.1" cy="154.8" rx="7.9" ry="6.6" fill="#6cc26c"/><ellipse cx="373.1" cy="154.8" rx="5.5" ry="4.5" fill="#c4e44a"/><ellipse cx="366.4" cy="169.8" rx="7.9" ry="6.6" fill="#6cc26c"/><ellipse cx="366.4" cy="169.8" rx="5.5" ry="4.5" fill="#c4e44a"/><ellipse cx="359.2" cy="183.9" rx="7.9" ry="6.6" fill="#6cc26c"/><ellipse cx="359.2" cy="183.9" rx="5.5" ry="4.5" fill="#c4e44a"/><ellipse cx="352.3" cy="197.4" rx="7.9" ry="6.6" fill="#6cc26c"/><ellipse cx="352.3" cy="197.4" rx="5.5" ry="4.5" fill="#c4e44a"/><ellipse cx="345.1" cy="211.5" rx="7.9" ry="6.6" fill="#6cc26c"/><ellipse cx="345.1" cy="211.5" rx="5.5" ry="4.5" fill="#c4e44a"/><ellipse cx="338.2" cy="225.7" rx="7.9" ry="6.6" fill="#6cc26c"/><ellipse cx="338.2" cy="225.7" rx="5.5" ry="4.5" fill="#c4e44a"/><ellipse cx="332.3" cy="240.2" rx="7.9" ry="6.6" fill="#6cc26c"/><ellipse cx="332.3" cy="240.2" rx="5.5" ry="4.5" fill="#c4e44a"/><ellipse cx="325.6" cy="254.4" rx="7.9" ry="6.6" fill="#6cc26c"/><ellipse cx="325.6" cy="254.4" rx="5.5" ry="4.5" fill="#c4e44a"/><ellipse cx="318.1" cy="268.3" rx="7.9" ry="6.6" fill="#6cc26c"/><ellipse cx="318.1" cy="268.3" rx="5.5" ry="4.5" fill="#c4e44a"/><ellipse cx="396.7" cy="140.4" rx="7.9" ry="6.6" fill="#6cc26c"/><ellipse cx="396.7" cy="140.4" rx="5.5" ry="4.5" fill="#c4e44a"/><ellipse cx="390.0" cy="153.9" rx="7.9" ry="6.6" fill="#6cc26c"/><ellipse cx="390.0" cy="153.9" rx="5.5" ry="4.5" fill="#c4e44a"/><ellipse cx="383.4" cy="168.9" rx="7.9" ry="6.6" fill="#6cc26c"/><ellipse cx="383.4" cy="168.9" rx="5.5" ry="4.5" fill="#c4e44a"/><ellipse cx="376.1" cy="182.9" rx="7.9" ry="6.6" fill="#6cc26c"/><ellipse cx="376.1" cy="182.9" rx="5.5" ry="4.5" fill="#c4e44a"/><ellipse cx="369.0" cy="196.2" rx="7.9" ry="6.6" fill="#6cc26c"/><ellipse cx="369.0" cy="196.2" rx="5.5" ry="4.5" fill="#c4e44a"/><ellipse cx="362.5" cy="210.9" rx="7.9" ry="6.6" fill="#6cc26c"/><ellipse cx="362.5" cy="210.9" rx="5.5" ry="4.5" fill="#c4e44a"/><ellipse cx="356.5" cy="225.0" rx="7.9" ry="6.6" fill="#6cc26c"/><ellipse cx="356.5" cy="225.0" rx="5.5" ry="4.5" fill="#c4e44a"/><ellipse cx="349.0" cy="239.3" rx="7.9" ry="6.6" fill="#6cc26c"/><ellipse cx="349.0" cy="239.3" rx="5.5" ry="4.5" fill="#c4e44a"/><ellipse cx="342.2" cy="252.6" rx="7.9" ry="6.6" fill="#6cc26c"/><ellipse cx="342.2" cy="252.6" rx="5.5" ry="4.5" fill="#c4e44a"/><ellipse cx="336.1" cy="267.2" rx="7.9" ry="6.6" fill="#6cc26c"/><ellipse cx="336.1" cy="267.2" rx="5.5" ry="4.5" fill="#c4e44a"/><ellipse cx="414.2" cy="139.1" rx="7.9" ry="6.6" fill="#6cc26c"/><ellipse cx="414.2" cy="139.1" rx="5.5" ry="4.5" fill="#c4e44a"/><ellipse cx="407.8" cy="153.0" rx="7.9" ry="6.6" fill="#6cc26c"/><ellipse cx="407.8" cy="153.0" rx="5.5" ry="4.5" fill="#c4e44a"/><ellipse cx="400.8" cy="167.3" rx="7.9" ry="6.6" fill="#6cc26c"/><ellipse cx="400.8" cy="167.3" rx="5.5" ry="4.5" fill="#c4e44a"/><ellipse cx="394.0" cy="181.1" rx="7.9" ry="6.6" fill="#6cc26c"/><ellipse cx="394.0" cy="181.1" rx="5.5" ry="4.5" fill="#c4e44a"/><ellipse cx="387.1" cy="195.4" rx="7.9" ry="6.6" fill="#6cc26c"/><ellipse cx="387.1" cy="195.4" rx="5.5" ry="4.5" fill="#c4e44a"/><ellipse cx="379.8" cy="209.1" rx="7.9" ry="6.6" fill="#6cc26c"/><ellipse cx="379.8" cy="209.1" rx="5.5" ry="4.5" fill="#c4e44a"/><ellipse cx="373.3" cy="223.0" rx="7.9" ry="6.6" fill="#6cc26c"/><ellipse cx="373.3" cy="223.0" rx="5.5" ry="4.5" fill="#c4e44a"/><ellipse cx="366.9" cy="237.2" rx="7.9" ry="6.6" fill="#6cc26c"/><ellipse cx="366.9" cy="237.2" rx="5.5" ry="4.5" fill="#c4e44a"/><ellipse cx="359.0" cy="251.2" rx="7.9" ry="6.6" fill="#6cc26c"/><ellipse cx="359.0" cy="251.2" rx="5.5" ry="4.5" fill="#c4e44a"/><ellipse cx="353.3" cy="265.6" rx="7.9" ry="6.6" fill="#6cc26c"/><ellipse cx="353.3" cy="265.6" rx="5.5" ry="4.5" fill="#c4e44a"/><ellipse cx="430.8" cy="137.1" rx="7.9" ry="6.6" fill="#6cc26c"/><ellipse cx="430.8" cy="137.1" rx="5.5" ry="4.5" fill="#c4e44a"/><ellipse cx="423.8" cy="152.0" rx="7.9" ry="6.6" fill="#6cc26c"/><ellipse cx="423.8" cy="152.0" rx="5.5" ry="4.5" fill="#c4e44a"/><ellipse cx="417.8" cy="166.1" rx="7.9" ry="6.6" fill="#6cc26c"/><ellipse cx="417.8" cy="166.1" rx="5.5" ry="4.5" fill="#c4e44a"/><ellipse cx="411.1" cy="179.5" rx="7.9" ry="6.6" fill="#6cc26c"/><ellipse cx="411.1" cy="179.5" rx="5.5" ry="4.5" fill="#c4e44a"/><ellipse cx="404.1" cy="193.9" rx="7.9" ry="6.6" fill="#6cc26c"/><ellipse cx="404.1" cy="193.9" rx="5.5" ry="4.5" fill="#c4e44a"/><ellipse cx="397.6" cy="208.6" rx="7.9" ry="6.6" fill="#6cc26c"/><ellipse cx="397.6" cy="208.6" rx="5.5" ry="4.5" fill="#c4e44a"/><ellipse cx="390.9" cy="221.8" rx="7.9" ry="6.6" fill="#6cc26c"/><ellipse cx="390.9" cy="221.8" rx="5.5" ry="4.5" fill="#c4e44a"/><ellipse cx="384.0" cy="236.9" rx="7.9" ry="6.6" fill="#6cc26c"/><ellipse cx="384.0" cy="236.9" rx="5.5" ry="4.5" fill="#c4e44a"/><ellipse cx="377.3" cy="250.0" rx="7.9" ry="6.6" fill="#6cc26c"/><ellipse cx="377.3" cy="250.0" rx="5.5" ry="4.5" fill="#c4e44a"/><ellipse cx="369.6" cy="264.1" rx="7.9" ry="6.6" fill="#6cc26c"/><ellipse cx="369.6" cy="264.1" rx="5.5" ry="4.5" fill="#c4e44a"/><ellipse cx="427.4" cy="179.2" rx="7.9" ry="6.6" fill="#6cc26c"/><ellipse cx="427.4" cy="179.2" rx="5.5" ry="4.5" fill="#c4e44a"/><ellipse cx="421.6" cy="193.1" rx="7.9" ry="6.6" fill="#6cc26c"/><ellipse cx="421.6" cy="193.1" rx="5.5" ry="4.5" fill="#c4e44a"/><ellipse cx="414.8" cy="207.2" rx="7.9" ry="6.6" fill="#6cc26c"/><ellipse cx="414.8" cy="207.2" rx="5.5" ry="4.5" fill="#c4e44a"/><ellipse cx="407.3" cy="220.6" rx="7.9" ry="6.6" fill="#6cc26c"/><ellipse cx="407.3" cy="220.6" rx="5.5" ry="4.5" fill="#c4e44a"/><ellipse cx="400.3" cy="235.5" rx="7.9" ry="6.6" fill="#6cc26c"/><ellipse cx="400.3" cy="235.5" rx="5.5" ry="4.5" fill="#c4e44a"/><ellipse cx="393.6" cy="249.1" rx="7.9" ry="6.6" fill="#6cc26c"/><ellipse cx="393.6" cy="249.1" rx="5.5" ry="4.5" fill="#c4e44a"/><ellipse cx="387.1" cy="262.8" rx="7.9" ry="6.6" fill="#6cc26c"/><ellipse cx="387.1" cy="262.8" rx="5.5" ry="4.5" fill="#c4e44a"/><ellipse cx="431.3" cy="205.5" rx="7.9" ry="6.6" fill="#6cc26c"/><ellipse cx="431.3" cy="205.5" rx="5.5" ry="4.5" fill="#c4e44a"/><ellipse cx="425.1" cy="219.7" rx="7.9" ry="6.6" fill="#6cc26c"/><ellipse cx="425.1" cy="219.7" rx="5.5" ry="4.5" fill="#c4e44a"/><ellipse cx="417.8" cy="234.6" rx="7.9" ry="6.6" fill="#6cc26c"/><ellipse cx="417.8" cy="234.6" rx="5.5" ry="4.5" fill="#c4e44a"/><ellipse cx="411.2" cy="248.5" rx="7.9" ry="6.6" fill="#6cc26c"/><ellipse cx="411.2" cy="248.5" rx="5.5" ry="4.5" fill="#c4e44a"/><ellipse cx="404.5" cy="261.6" rx="7.9" ry="6.6" fill="#6cc26c"/><ellipse cx="404.5" cy="261.6" rx="5.5" ry="4.5" fill="#c4e44a"/><ellipse cx="428.3" cy="246.8" rx="7.9" ry="6.6" fill="#6cc26c"/><ellipse cx="428.3" cy="246.8" rx="5.5" ry="4.5" fill="#c4e44a"/><ellipse cx="421.9" cy="260.8" rx="7.9" ry="6.6" fill="#6cc26c"/><ellipse cx="421.9" cy="260.8" rx="5.5" ry="4.5" fill="#c4e44a"/><ellipse cx="432.2" cy="273.9" rx="7.9" ry="6.6" fill="#6cc26c"/><ellipse cx="432.2" cy="273.9" rx="5.5" ry="4.5" fill="#c4e44a"/></g><line x1="318.00" y1="201.00" x2="404.50" y2="194.50" stroke="#fff" stroke-width="1.3" stroke-dasharray="3 2.2"/><rect x="315.80" y="158.00" width="9.20" height="8.70" fill="#ee3b36" stroke="none" stroke-width="1" /><rect x="387.20" y="253.70" width="25.80" height="2.10" fill="#111" stroke="none" stroke-width="1" /><text x="389.60" y="250.30" font-size="8.73" text-anchor="start" fill="#111" stroke="#111" stroke-width="0.22" textLength="19.4" lengthAdjust="spacingAndGlyphs" >5 nm</text><text x="295.60" y="147.90" font-size="11.2" text-anchor="start" fill="#000" font-weight="bold" >c</text><rect x="455.50" y="24.80" width="109.80" height="96.50" fill="url(#gb)" stroke="none" stroke-width="1" opacity="0.9"/><line x1="455.50" y1="32.40" x2="565.30" y2="32.40" stroke="#444" stroke-width="0.9" stroke-dasharray="2.2 2"/><line x1="455.50" y1="85.20" x2="565.30" y2="85.20" stroke="#444" stroke-width="0.9" stroke-dasharray="2.2 2"/><polyline points="456.00,35.00 456.95,37.40 457.90,40.67 458.85,42.88 459.80,45.08 460.75,47.38 461.70,49.82 462.65,52.41 463.60,54.98 464.55,59.63 465.50,65.54 466.45,71.08 467.40,75.26 468.35,78.14 469.30,80.61 470.25,82.63 471.20,84.50 472.15,83.55 473.10,78.32 474.05,71.67 475.00,64.63 475.95,58.26 476.90,54.76 477.85,52.43 478.80,49.70 479.75,46.85 480.70,43.98 481.65,40.76 482.60,38.38 483.55,38.19 484.50,39.87 485.45,42.46 486.40,44.83 487.35,47.04 488.30,49.47 489.25,52.01 490.20,55.06 491.15,60.27 492.10,65.37 493.05,68.93 494.00,72.48 494.95,75.83 495.90,79.41 496.85,82.95 497.80,84.93 498.75,84.09 499.70,81.07 500.65,77.29 501.60,72.56 502.55,66.62 503.50,62.19 504.45,58.92 505.40,55.84 506.35,52.95 507.30,50.18 508.25,47.67 509.20,44.82 510.15,42.01 511.10,42.52 512.05,43.56 513.00,44.81 513.95,45.95 514.90,46.95 515.85,47.88 516.80,49.50 517.75,52.48 518.70,56.51 519.65,60.64 520.60,64.18 521.55,67.48 522.50,70.53 523.45,74.13 524.40,78.32 525.35,78.54 526.30,75.54 527.25,71.24 528.20,66.82 529.15,60.87 530.10,55.52 531.05,51.96 532.00,48.00 532.95,44.57 533.90,40.32 534.85,36.45 535.80,34.17 536.75,34.39 537.70,36.56 538.65,39.72 539.60,42.89 540.55,45.38 541.50,47.75 542.45,50.13 543.40,52.50 544.35,55.15 545.30,58.23 546.25,61.36 547.20,65.15 548.15,71.29 549.10,76.42 550.05,79.96 551.00,81.00 551.95,79.42 552.90,76.41 553.85,72.62 554.80,65.91 555.75,57.86 556.70,51.42 557.65,45.93 558.60,40.29 559.55,34.99 560.50,34.17 561.45,35.78 562.40,38.30 563.35,40.79 564.30,43.36" fill="none" stroke="#f08080" stroke-width="0.7" stroke-linejoin="round" /><circle cx="455.8" cy="35.9" r="2.2" fill="#ef3434"/><circle cx="456.6" cy="38.2" r="2.2" fill="#ef3434"/><circle cx="457.6" cy="39.5" r="2.2" fill="#ef3434"/><circle cx="458.6" cy="43.5" r="2.2" fill="#ef3434"/><circle cx="460.2" cy="43.9" r="2.2" fill="#ef3434"/><circle cx="460.7" cy="47.4" r="2.2" fill="#ef3434"/><circle cx="461.9" cy="49.1" r="2.2" fill="#ef3434"/><circle cx="462.6" cy="52.0" r="2.2" fill="#ef3434"/><circle cx="463.9" cy="54.4" r="2.2" fill="#ef3434"/><circle cx="464.9" cy="59.1" r="2.2" fill="#ef3434"/><circle cx="465.3" cy="66.0" r="2.2" fill="#ef3434"/><circle cx="466.4" cy="70.1" r="2.2" fill="#ef3434"/><circle cx="467.5" cy="74.3" r="2.2" fill="#ef3434"/><circle cx="468.6" cy="78.6" r="2.2" fill="#ef3434"/><circle cx="469.5" cy="80.9" r="2.2" fill="#ef3434"/><circle cx="470.1" cy="82.4" r="2.2" fill="#ef3434"/><circle cx="471.1" cy="85.4" r="2.2" fill="#ef3434"/><circle cx="471.8" cy="84.5" r="2.2" fill="#ef3434"/><circle cx="472.7" cy="77.6" r="2.2" fill="#ef3434"/><circle cx="473.9" cy="72.6" r="2.2" fill="#ef3434"/><circle cx="475.0" cy="64.3" r="2.2" fill="#ef3434"/><circle cx="476.3" cy="57.6" r="2.2" fill="#ef3434"/><circle cx="476.9" cy="54.8" r="2.2" fill="#ef3434"/><circle cx="478.1" cy="53.0" r="2.2" fill="#ef3434"/><circle cx="478.9" cy="49.3" r="2.2" fill="#ef3434"/><circle cx="479.6" cy="46.0" r="2.2" fill="#ef3434"/><circle cx="481.0" cy="44.4" r="2.2" fill="#ef3434"/><circle cx="481.8" cy="40.0" r="2.2" fill="#ef3434"/><circle cx="482.6" cy="39.0" r="2.2" fill="#ef3434"/><circle cx="483.6" cy="37.3" r="2.2" fill="#ef3434"/><circle cx="484.5" cy="40.8" r="2.2" fill="#ef3434"/><circle cx="485.2" cy="41.7" r="2.2" fill="#ef3434"/><circle cx="486.2" cy="45.3" r="2.2" fill="#ef3434"/><circle cx="487.6" cy="46.2" r="2.2" fill="#ef3434"/><circle cx="488.0" cy="48.9" r="2.2" fill="#ef3434"/><circle cx="489.1" cy="52.1" r="2.2" fill="#ef3434"/><circle cx="489.9" cy="54.6" r="2.2" fill="#ef3434"/><circle cx="490.9" cy="61.4" r="2.2" fill="#ef3434"/><circle cx="492.3" cy="64.4" r="2.2" fill="#ef3434"/><circle cx="493.4" cy="68.0" r="2.2" fill="#ef3434"/><circle cx="493.9" cy="73.6" r="2.2" fill="#ef3434"/><circle cx="495.2" cy="76.4" r="2.2" fill="#ef3434"/><circle cx="495.8" cy="78.7" r="2.2" fill="#ef3434"/><circle cx="497.0" cy="82.0" r="2.2" fill="#ef3434"/><circle cx="497.6" cy="84.7" r="2.2" fill="#ef3434"/><circle cx="498.4" cy="83.8" r="2.2" fill="#ef3434"/><circle cx="499.9" cy="81.5" r="2.2" fill="#ef3434"/><circle cx="500.7" cy="77.6" r="2.2" fill="#ef3434"/><circle cx="501.6" cy="71.7" r="2.2" fill="#ef3434"/><circle cx="502.6" cy="66.4" r="2.2" fill="#ef3434"/><circle cx="503.7" cy="63.2" r="2.2" fill="#ef3434"/><circle cx="504.4" cy="59.1" r="2.2" fill="#ef3434"/><circle cx="505.6" cy="55.7" r="2.2" fill="#ef3434"/><circle cx="506.1" cy="53.5" r="2.2" fill="#ef3434"/><circle cx="507.6" cy="50.8" r="2.2" fill="#ef3434"/><circle cx="508.4" cy="48.5" r="2.2" fill="#ef3434"/><circle cx="509.3" cy="45.2" r="2.2" fill="#ef3434"/><circle cx="510.1" cy="41.6" r="2.2" fill="#ef3434"/><circle cx="511.2" cy="41.6" r="2.2" fill="#ef3434"/><circle cx="512.0" cy="44.2" r="2.2" fill="#ef3434"/><circle cx="513.2" cy="45.1" r="2.2" fill="#ef3434"/><circle cx="513.8" cy="45.8" r="2.2" fill="#ef3434"/><circle cx="514.9" cy="47.2" r="2.2" fill="#ef3434"/><circle cx="515.8" cy="48.3" r="2.2" fill="#ef3434"/><circle cx="517.1" cy="48.7" r="2.2" fill="#ef3434"/><circle cx="517.9" cy="53.2" r="2.2" fill="#ef3434"/><circle cx="518.6" cy="56.5" r="2.2" fill="#ef3434"/><circle cx="520.0" cy="59.5" r="2.2" fill="#ef3434"/><circle cx="520.6" cy="63.4" r="2.2" fill="#ef3434"/><circle cx="521.8" cy="68.5" r="2.2" fill="#ef3434"/><circle cx="522.5" cy="69.6" r="2.2" fill="#ef3434"/><circle cx="523.5" cy="74.2" r="2.2" fill="#ef3434"/><circle cx="524.6" cy="78.3" r="2.2" fill="#ef3434"/><circle cx="525.5" cy="79.3" r="2.2" fill="#ef3434"/><circle cx="526.3" cy="75.3" r="2.2" fill="#ef3434"/><circle cx="527.6" cy="70.5" r="2.2" fill="#ef3434"/><circle cx="528.3" cy="66.6" r="2.2" fill="#ef3434"/><circle cx="529.4" cy="60.0" r="2.2" fill="#ef3434"/><circle cx="530.5" cy="55.2" r="2.2" fill="#ef3434"/><circle cx="530.7" cy="51.4" r="2.2" fill="#ef3434"/><circle cx="531.9" cy="46.8" r="2.2" fill="#ef3434"/><circle cx="532.9" cy="44.4" r="2.2" fill="#ef3434"/><circle cx="534.1" cy="40.0" r="2.2" fill="#ef3434"/><circle cx="534.7" cy="35.8" r="2.2" fill="#ef3434"/><circle cx="536.0" cy="35.2" r="2.2" fill="#ef3434"/><circle cx="536.8" cy="33.7" r="2.2" fill="#ef3434"/><circle cx="537.9" cy="36.3" r="2.2" fill="#ef3434"/><circle cx="538.4" cy="38.8" r="2.2" fill="#ef3434"/><circle cx="539.8" cy="43.6" r="2.2" fill="#ef3434"/><circle cx="540.7" cy="45.3" r="2.2" fill="#ef3434"/><circle cx="541.5" cy="47.1" r="2.2" fill="#ef3434"/><circle cx="542.8" cy="49.8" r="2.2" fill="#ef3434"/><circle cx="543.5" cy="53.3" r="2.2" fill="#ef3434"/><circle cx="544.6" cy="55.1" r="2.2" fill="#ef3434"/><circle cx="545.1" cy="58.3" r="2.2" fill="#ef3434"/><circle cx="546.0" cy="62.2" r="2.2" fill="#ef3434"/><circle cx="547.1" cy="66.0" r="2.2" fill="#ef3434"/><circle cx="548.0" cy="71.0" r="2.2" fill="#ef3434"/><circle cx="548.9" cy="76.2" r="2.2" fill="#ef3434"/><circle cx="549.8" cy="78.8" r="2.2" fill="#ef3434"/><circle cx="551.2" cy="80.5" r="2.2" fill="#ef3434"/><circle cx="551.7" cy="78.9" r="2.2" fill="#ef3434"/><circle cx="552.9" cy="76.2" r="2.2" fill="#ef3434"/><circle cx="554.0" cy="73.0" r="2.2" fill="#ef3434"/><circle cx="554.7" cy="66.9" r="2.2" fill="#ef3434"/><circle cx="556.0" cy="56.8" r="2.2" fill="#ef3434"/><circle cx="557.0" cy="52.4" r="2.2" fill="#ef3434"/><circle cx="557.9" cy="45.1" r="2.2" fill="#ef3434"/><circle cx="558.9" cy="40.6" r="2.2" fill="#ef3434"/><circle cx="559.2" cy="33.8" r="2.2" fill="#ef3434"/><circle cx="560.9" cy="34.5" r="2.2" fill="#ef3434"/><circle cx="561.3" cy="34.8" r="2.2" fill="#ef3434"/><circle cx="562.1" cy="37.7" r="2.2" fill="#ef3434"/><circle cx="563.6" cy="40.4" r="2.2" fill="#ef3434"/><circle cx="564.0" cy="44.3" r="2.2" fill="#ef3434"/><rect x="455.50" y="24.80" width="109.80" height="96.50" fill="none" stroke="#777" stroke-width="1.2" /><line x1="455.50" y1="121.10" x2="458.80" y2="121.10" stroke="#555" stroke-width="0.9" /><line x1="455.50" y1="91.50" x2="458.80" y2="91.50" stroke="#555" stroke-width="0.9" /><line x1="455.50" y1="61.90" x2="458.80" y2="61.90" stroke="#555" stroke-width="0.9" /><line x1="455.50" y1="32.30" x2="458.80" y2="32.30" stroke="#555" stroke-width="0.9" /><line x1="455.50" y1="106.30" x2="457.50" y2="106.30" stroke="#555" stroke-width="0.8" /><line x1="455.50" y1="76.70" x2="457.50" y2="76.70" stroke="#555" stroke-width="0.8" /><line x1="455.50" y1="47.10" x2="457.50" y2="47.10" stroke="#555" stroke-width="0.8" /><text x="439.10" y="123.60" font-size="8.6" text-anchor="start" fill="#333333" stroke="#333333" stroke-width="0.22" textLength="12.4" lengthAdjust="spacingAndGlyphs" >0.0</text><text x="439.10" y="94.30" font-size="8.6" text-anchor="start" fill="#333333" stroke="#333333" stroke-width="0.22" textLength="12.4" lengthAdjust="spacingAndGlyphs" >0.4</text><text x="439.10" y="65.10" font-size="8.6" text-anchor="start" fill="#333333" stroke="#333333" stroke-width="0.22" textLength="12.4" lengthAdjust="spacingAndGlyphs" >0.8</text><text x="439.10" y="35.80" font-size="8.6" text-anchor="start" fill="#333333" stroke="#333333" stroke-width="0.22" textLength="12.4" lengthAdjust="spacingAndGlyphs" >1.2</text><line x1="455.50" y1="121.30" x2="455.50" y2="118.00" stroke="#555" stroke-width="0.9" /><text x="455.50" y="131.70" font-size="8.5" text-anchor="middle" fill="#333333" stroke="#333333" stroke-width="0.22" >0</text><line x1="482.95" y1="121.30" x2="482.95" y2="118.00" stroke="#555" stroke-width="0.9" /><text x="482.95" y="131.70" font-size="8.5" text-anchor="middle" fill="#333333" stroke="#333333" stroke-width="0.22" >4</text><line x1="510.40" y1="121.30" x2="510.40" y2="118.00" stroke="#555" stroke-width="0.9" /><text x="510.40" y="131.70" font-size="8.5" text-anchor="middle" fill="#333333" stroke="#333333" stroke-width="0.22" >8</text><line x1="537.85" y1="121.30" x2="537.85" y2="118.00" stroke="#555" stroke-width="0.9" /><text x="537.85" y="131.70" font-size="8.5" text-anchor="middle" fill="#333333" stroke="#333333" stroke-width="0.22" >12</text><line x1="565.30" y1="121.30" x2="565.30" y2="118.00" stroke="#555" stroke-width="0.9" /><text x="565.30" y="131.70" font-size="8.5" text-anchor="middle" fill="#333333" stroke="#333333" stroke-width="0.22" >16</text><line x1="469.23" y1="121.30" x2="469.23" y2="119.30" stroke="#555" stroke-width="0.8" /><line x1="496.67" y1="121.30" x2="496.67" y2="119.30" stroke="#555" stroke-width="0.8" /><line x1="524.12" y1="121.30" x2="524.12" y2="119.30" stroke="#555" stroke-width="0.8" /><line x1="551.57" y1="121.30" x2="551.57" y2="119.30" stroke="#555" stroke-width="0.8" /><text x="480.80" y="143.30" font-size="9.42" text-anchor="start" fill="#333333" stroke="#333333" stroke-width="0.22" textLength="56.0" lengthAdjust="spacingAndGlyphs" >Distance (nm)</text><text x="0" y="0" font-size="9.7" fill="#333333" stroke="#333333" stroke-width="0.22" textLength="50.60" lengthAdjust="spacingAndGlyphs" transform="translate(433.20 106.60) rotate(-90)">Current (nA)</text><text x="469.30" y="109.40" font-size="8.99" text-anchor="start" fill="#333333" stroke="#333333" stroke-width="0.22" textLength="84.0" lengthAdjust="spacingAndGlyphs" >Period length = 3.9 nm</text><rect x="455.50" y="151.20" width="109.80" height="95.90" fill="url(#gc)" stroke="none" stroke-width="1" opacity="0.92"/><line x1="455.50" y1="196.50" x2="565.30" y2="196.50" stroke="#333" stroke-width="0.9" stroke-dasharray="2.2 2"/><line x1="455.50" y1="229.30" x2="565.30" y2="229.30" stroke="#333" stroke-width="0.9" stroke-dasharray="2.2 2"/><polyline points="457.00,196.00 458.05,199.26 459.10,203.35 460.15,206.95 461.20,210.78 462.25,215.25 463.30,219.68 464.35,222.08 465.40,221.81 466.45,220.82 467.50,218.42 468.55,213.92 469.60,209.51 470.65,205.22 471.70,201.83 472.75,199.37 473.80,198.64 474.85,198.33 475.90,198.25 476.95,198.45 478.00,199.00 479.05,202.26 480.10,206.23 481.15,208.77 482.20,211.28 483.25,213.48 484.30,215.20 485.35,216.82 486.40,219.48 487.45,223.96 488.50,224.76 489.55,222.75 490.60,219.95 491.65,216.76 492.70,213.01 493.75,209.63 494.80,206.55 495.85,204.42 496.90,202.57 497.95,201.06 499.00,199.93 500.05,199.16 501.10,199.01 502.15,199.35 503.20,200.03 504.25,201.06 505.30,202.59 506.35,205.20 507.40,208.26 508.45,212.04 509.50,217.01 510.55,220.97 511.60,223.77 512.65,223.47 513.70,221.32 514.75,218.61 515.80,215.96 516.85,213.01 517.90,210.24 518.95,206.90 520.00,204.00 521.05,202.17 522.10,200.62 523.15,199.99 524.20,200.26 525.25,201.03 526.30,202.15 527.35,203.63 528.40,205.94 529.45,208.60 530.50,211.29 531.55,214.14 532.60,216.98 533.65,219.68 534.70,222.37 535.75,224.59 536.80,227.26 537.85,225.76 538.90,223.17 539.95,220.14 541.00,216.81 542.05,213.12 543.10,209.55 544.15,205.02 545.20,201.60 546.25,199.64 547.30,198.30 548.35,198.04 549.40,198.57 550.45,199.65 551.50,201.16 552.55,203.49 553.60,207.12 554.65,210.89 555.70,214.11 556.75,217.12 557.80,219.62 558.85,222.35 559.90,223.17 560.95,220.45 562.00,215.96 563.05,211.76 564.10,206.89" fill="none" stroke="#5070b8" stroke-width="0.7" stroke-linejoin="round" /><circle cx="457.3" cy="194.9" r="2.1" fill="#1f4fa6"/><circle cx="458.4" cy="199.6" r="2.1" fill="#1f4fa6"/><circle cx="459.4" cy="203.9" r="2.1" fill="#1f4fa6"/><circle cx="460.5" cy="207.9" r="2.1" fill="#1f4fa6"/><circle cx="461.5" cy="209.8" r="2.1" fill="#1f4fa6"/><circle cx="462.4" cy="215.3" r="2.1" fill="#1f4fa6"/><circle cx="463.5" cy="219.5" r="2.1" fill="#1f4fa6"/><circle cx="464.7" cy="222.3" r="2.1" fill="#1f4fa6"/><circle cx="465.2" cy="221.0" r="2.1" fill="#1f4fa6"/><circle cx="466.1" cy="220.8" r="2.1" fill="#1f4fa6"/><circle cx="467.1" cy="218.3" r="2.1" fill="#1f4fa6"/><circle cx="468.2" cy="213.9" r="2.1" fill="#1f4fa6"/><circle cx="469.6" cy="209.6" r="2.1" fill="#1f4fa6"/><circle cx="471.0" cy="203.6" r="2.1" fill="#1f4fa6"/><circle cx="472.0" cy="201.7" r="2.1" fill="#1f4fa6"/><circle cx="472.8" cy="199.9" r="2.1" fill="#1f4fa6"/><circle cx="474.1" cy="198.2" r="2.1" fill="#1f4fa6"/><circle cx="474.8" cy="199.8" r="2.1" fill="#1f4fa6"/><circle cx="475.5" cy="198.7" r="2.1" fill="#1f4fa6"/><circle cx="477.1" cy="196.9" r="2.1" fill="#1f4fa6"/><circle cx="478.1" cy="199.6" r="2.1" fill="#1f4fa6"/><circle cx="479.5" cy="201.7" r="2.1" fill="#1f4fa6"/><circle cx="480.6" cy="206.3" r="2.1" fill="#1f4fa6"/><circle cx="481.1" cy="210.0" r="2.1" fill="#1f4fa6"/><circle cx="481.7" cy="212.0" r="2.1" fill="#1f4fa6"/><circle cx="483.4" cy="213.0" r="2.1" fill="#1f4fa6"/><circle cx="484.7" cy="214.8" r="2.1" fill="#1f4fa6"/><circle cx="485.3" cy="216.9" r="2.1" fill="#1f4fa6"/><circle cx="486.7" cy="218.6" r="2.1" fill="#1f4fa6"/><circle cx="487.4" cy="223.7" r="2.1" fill="#1f4fa6"/><circle cx="488.6" cy="225.8" r="2.1" fill="#1f4fa6"/><circle cx="489.3" cy="223.8" r="2.1" fill="#1f4fa6"/><circle cx="490.5" cy="220.0" r="2.1" fill="#1f4fa6"/><circle cx="491.4" cy="216.8" r="2.1" fill="#1f4fa6"/><circle cx="493.2" cy="213.5" r="2.1" fill="#1f4fa6"/><circle cx="494.0" cy="209.1" r="2.1" fill="#1f4fa6"/><circle cx="494.6" cy="205.9" r="2.1" fill="#1f4fa6"/><circle cx="495.9" cy="204.9" r="2.1" fill="#1f4fa6"/><circle cx="497.2" cy="201.1" r="2.1" fill="#1f4fa6"/><circle cx="498.2" cy="202.3" r="2.1" fill="#1f4fa6"/><circle cx="499.0" cy="198.5" r="2.1" fill="#1f4fa6"/><circle cx="499.9" cy="197.6" r="2.1" fill="#1f4fa6"/><circle cx="500.8" cy="200.4" r="2.1" fill="#1f4fa6"/><circle cx="502.3" cy="199.9" r="2.1" fill="#1f4fa6"/><circle cx="503.5" cy="201.3" r="2.1" fill="#1f4fa6"/><circle cx="504.4" cy="201.4" r="2.1" fill="#1f4fa6"/><circle cx="505.4" cy="203.2" r="2.1" fill="#1f4fa6"/><circle cx="506.4" cy="205.8" r="2.1" fill="#1f4fa6"/><circle cx="507.1" cy="208.8" r="2.1" fill="#1f4fa6"/><circle cx="508.4" cy="212.9" r="2.1" fill="#1f4fa6"/><circle cx="509.1" cy="216.0" r="2.1" fill="#1f4fa6"/><circle cx="510.1" cy="221.8" r="2.1" fill="#1f4fa6"/><circle cx="512.0" cy="224.3" r="2.1" fill="#1f4fa6"/><circle cx="512.5" cy="224.5" r="2.1" fill="#1f4fa6"/><circle cx="514.0" cy="221.5" r="2.1" fill="#1f4fa6"/><circle cx="514.5" cy="218.0" r="2.1" fill="#1f4fa6"/><circle cx="515.7" cy="215.4" r="2.1" fill="#1f4fa6"/><circle cx="516.8" cy="213.5" r="2.1" fill="#1f4fa6"/><circle cx="518.3" cy="208.8" r="2.1" fill="#1f4fa6"/><circle cx="519.0" cy="205.4" r="2.1" fill="#1f4fa6"/><circle cx="519.6" cy="205.0" r="2.1" fill="#1f4fa6"/><circle cx="521.1" cy="203.5" r="2.1" fill="#1f4fa6"/><circle cx="522.0" cy="199.1" r="2.1" fill="#1f4fa6"/><circle cx="523.0" cy="200.3" r="2.1" fill="#1f4fa6"/><circle cx="524.6" cy="201.8" r="2.1" fill="#1f4fa6"/><circle cx="525.2" cy="200.8" r="2.1" fill="#1f4fa6"/><circle cx="525.9" cy="202.6" r="2.1" fill="#1f4fa6"/><circle cx="527.1" cy="202.5" r="2.1" fill="#1f4fa6"/><circle cx="527.9" cy="204.4" r="2.1" fill="#1f4fa6"/><circle cx="529.6" cy="207.4" r="2.1" fill="#1f4fa6"/><circle cx="531.0" cy="210.0" r="2.1" fill="#1f4fa6"/><circle cx="531.9" cy="213.0" r="2.1" fill="#1f4fa6"/><circle cx="532.1" cy="217.7" r="2.1" fill="#1f4fa6"/><circle cx="533.4" cy="220.4" r="2.1" fill="#1f4fa6"/><circle cx="534.4" cy="220.9" r="2.1" fill="#1f4fa6"/><circle cx="536.0" cy="225.3" r="2.1" fill="#1f4fa6"/><circle cx="537.2" cy="228.0" r="2.1" fill="#1f4fa6"/><circle cx="537.4" cy="226.2" r="2.1" fill="#1f4fa6"/><circle cx="539.1" cy="223.0" r="2.1" fill="#1f4fa6"/><circle cx="540.4" cy="219.4" r="2.1" fill="#1f4fa6"/><circle cx="541.5" cy="217.5" r="2.1" fill="#1f4fa6"/><circle cx="541.6" cy="211.6" r="2.1" fill="#1f4fa6"/><circle cx="543.3" cy="210.6" r="2.1" fill="#1f4fa6"/><circle cx="543.7" cy="204.4" r="2.1" fill="#1f4fa6"/><circle cx="545.4" cy="200.5" r="2.1" fill="#1f4fa6"/><circle cx="546.6" cy="199.6" r="2.1" fill="#1f4fa6"/><circle cx="546.9" cy="197.9" r="2.1" fill="#1f4fa6"/><circle cx="548.4" cy="197.8" r="2.1" fill="#1f4fa6"/><circle cx="549.6" cy="197.4" r="2.1" fill="#1f4fa6"/><circle cx="550.7" cy="199.2" r="2.1" fill="#1f4fa6"/><circle cx="551.6" cy="201.6" r="2.1" fill="#1f4fa6"/><circle cx="552.5" cy="203.1" r="2.1" fill="#1f4fa6"/><circle cx="553.9" cy="208.5" r="2.1" fill="#1f4fa6"/><circle cx="554.9" cy="211.1" r="2.1" fill="#1f4fa6"/><circle cx="555.5" cy="212.7" r="2.1" fill="#1f4fa6"/><circle cx="557.2" cy="217.8" r="2.1" fill="#1f4fa6"/><circle cx="558.1" cy="219.1" r="2.1" fill="#1f4fa6"/><circle cx="559.0" cy="223.9" r="2.1" fill="#1f4fa6"/><circle cx="560.2" cy="223.5" r="2.1" fill="#1f4fa6"/><circle cx="560.8" cy="220.2" r="2.1" fill="#1f4fa6"/><circle cx="562.4" cy="215.6" r="2.1" fill="#1f4fa6"/><circle cx="563.2" cy="212.1" r="2.1" fill="#1f4fa6"/><circle cx="564.5" cy="207.9" r="2.1" fill="#1f4fa6"/><rect x="455.50" y="151.20" width="109.80" height="95.90" fill="none" stroke="#777" stroke-width="1.2" /><line x1="455.50" y1="247.20" x2="458.80" y2="247.20" stroke="#555" stroke-width="0.9" /><line x1="455.50" y1="217.80" x2="458.80" y2="217.80" stroke="#555" stroke-width="0.9" /><line x1="455.50" y1="188.40" x2="458.80" y2="188.40" stroke="#555" stroke-width="0.9" /><line x1="455.50" y1="159.00" x2="458.80" y2="159.00" stroke="#555" stroke-width="0.9" /><line x1="455.50" y1="232.50" x2="457.50" y2="232.50" stroke="#555" stroke-width="0.8" /><line x1="455.50" y1="203.10" x2="457.50" y2="203.10" stroke="#555" stroke-width="0.8" /><line x1="455.50" y1="173.70" x2="457.50" y2="173.70" stroke="#555" stroke-width="0.8" /><text x="439.10" y="249.60" font-size="8.6" text-anchor="start" fill="#333333" stroke="#333333" stroke-width="0.22" textLength="12.4" lengthAdjust="spacingAndGlyphs" >0.0</text><text x="439.10" y="220.90" font-size="8.6" text-anchor="start" fill="#333333" stroke="#333333" stroke-width="0.22" textLength="12.4" lengthAdjust="spacingAndGlyphs" >0.4</text><text x="439.10" y="191.30" font-size="8.6" text-anchor="start" fill="#333333" stroke="#333333" stroke-width="0.22" textLength="12.4" lengthAdjust="spacingAndGlyphs" >0.8</text><text x="439.10" y="161.50" font-size="8.6" text-anchor="start" fill="#333333" stroke="#333333" stroke-width="0.22" textLength="12.4" lengthAdjust="spacingAndGlyphs" >1.2</text><line x1="455.50" y1="247.10" x2="455.50" y2="243.80" stroke="#555" stroke-width="0.9" /><text x="455.50" y="258.10" font-size="8.5" text-anchor="middle" fill="#333333" stroke="#333333" stroke-width="0.22" >0</text><line x1="482.95" y1="247.10" x2="482.95" y2="243.80" stroke="#555" stroke-width="0.9" /><text x="482.95" y="258.10" font-size="8.5" text-anchor="middle" fill="#333333" stroke="#333333" stroke-width="0.22" >4</text><line x1="510.40" y1="247.10" x2="510.40" y2="243.80" stroke="#555" stroke-width="0.9" /><text x="510.40" y="258.10" font-size="8.5" text-anchor="middle" fill="#333333" stroke="#333333" stroke-width="0.22" >8</text><line x1="537.85" y1="247.10" x2="537.85" y2="243.80" stroke="#555" stroke-width="0.9" /><text x="537.85" y="258.10" font-size="8.5" text-anchor="middle" fill="#333333" stroke="#333333" stroke-width="0.22" >12</text><line x1="565.30" y1="247.10" x2="565.30" y2="243.80" stroke="#555" stroke-width="0.9" /><text x="565.30" y="258.10" font-size="8.5" text-anchor="middle" fill="#333333" stroke="#333333" stroke-width="0.22" >16</text><line x1="469.23" y1="247.10" x2="469.23" y2="245.10" stroke="#555" stroke-width="0.8" /><line x1="496.67" y1="247.10" x2="496.67" y2="245.10" stroke="#555" stroke-width="0.8" /><line x1="524.12" y1="247.10" x2="524.12" y2="245.10" stroke="#555" stroke-width="0.8" /><line x1="551.57" y1="247.10" x2="551.57" y2="245.10" stroke="#555" stroke-width="0.8" /><text x="480.80" y="269.30" font-size="9.42" text-anchor="start" fill="#333333" stroke="#333333" stroke-width="0.22" textLength="56.0" lengthAdjust="spacingAndGlyphs" >Distance (nm)</text><text x="0" y="0" font-size="9.7" fill="#333333" stroke="#333333" stroke-width="0.22" textLength="50.60" lengthAdjust="spacingAndGlyphs" transform="translate(433.20 232.60) rotate(-90)">Current (nA)</text><text x="469.20" y="239.50" font-size="8.99" text-anchor="start" fill="#333333" stroke="#333333" stroke-width="0.22" textLength="84.0" lengthAdjust="spacingAndGlyphs" >Period length = 3.3 nm</text><text x="28.50" y="129.60" font-size="11.2" text-anchor="start" fill="#000" font-weight="bold" >d</text><path d="M56.2,133 L56.2,122.5 L92,122.5" fill="none" stroke="#333" stroke-width="0.9"/><path d="M56.2,144.6 L56.2,159.8 L63.5,159.8" fill="none" stroke="#333" stroke-width="0.9"/><circle cx="56.2" cy="138.8" r="5.8" fill="#fff" stroke="#333" stroke-width="0.9"/><text x="56.20" y="141.20" font-size="6" text-anchor="middle" fill="#333" stroke="#333" stroke-width="0.22" >+V</text><path d="M91.2,121.3 L101.7,121.3 L96.4,146.5Z" fill="url(#tip)"/><circle cx="66.20" cy="155.6" r="2.75" fill="url(#ge)"/><circle cx="71.30" cy="155.6" r="2.75" fill="url(#ge)"/><circle cx="76.40" cy="155.6" r="2.75" fill="url(#ge)"/><circle cx="81.50" cy="155.6" r="2.75" fill="url(#ge)"/><circle cx="86.60" cy="155.6" r="2.75" fill="url(#ge)"/><circle cx="91.70" cy="155.6" r="2.75" fill="url(#ge)"/><circle cx="96.80" cy="155.6" r="2.75" fill="url(#ge)"/><circle cx="101.90" cy="155.6" r="2.75" fill="url(#ge)"/><circle cx="107.00" cy="155.6" r="2.75" fill="url(#ge)"/><circle cx="112.10" cy="155.6" r="2.75" fill="url(#ge)"/><circle cx="117.20" cy="155.6" r="2.75" fill="url(#ge)"/><circle cx="122.30" cy="155.6" r="2.75" fill="url(#ge)"/><circle cx="127.40" cy="155.6" r="2.75" fill="url(#ge)"/><circle cx="132.50" cy="155.6" r="2.75" fill="url(#ge)"/><circle cx="137.60" cy="155.6" r="2.75" fill="url(#ge)"/><circle cx="142.70" cy="155.6" r="2.75" fill="url(#ge)"/><circle cx="147.80" cy="155.6" r="2.75" fill="url(#ge)"/><circle cx="152.90" cy="155.6" r="2.75" fill="url(#ge)"/><circle cx="158.00" cy="155.6" r="2.75" fill="url(#ge)"/><circle cx="163.10" cy="155.6" r="2.75" fill="url(#ge)"/><circle cx="168.20" cy="155.6" r="2.75" fill="url(#ge)"/><circle cx="173.30" cy="155.6" r="2.75" fill="url(#ge)"/><circle cx="178.40" cy="155.6" r="2.75" fill="url(#ge)"/><circle cx="183.50" cy="155.6" r="2.75" fill="url(#ge)"/><circle cx="188.60" cy="155.6" r="2.75" fill="url(#ge)"/><circle cx="193.70" cy="155.6" r="2.75" fill="url(#ge)"/><circle cx="198.80" cy="155.6" r="2.75" fill="url(#ge)"/><circle cx="203.90" cy="155.6" r="2.75" fill="url(#ge)"/><circle cx="209.00" cy="155.6" r="2.75" fill="url(#ge)"/><circle cx="214.10" cy="155.6" r="2.75" fill="url(#ge)"/><circle cx="219.20" cy="155.6" r="2.75" fill="url(#ge)"/><circle cx="224.30" cy="155.6" r="2.75" fill="url(#ge)"/><circle cx="229.40" cy="155.6" r="2.75" fill="url(#ge)"/><circle cx="234.50" cy="155.6" r="2.75" fill="url(#ge)"/><circle cx="239.60" cy="155.6" r="2.75" fill="url(#ge)"/><circle cx="244.70" cy="155.6" r="2.75" fill="url(#ge)"/><circle cx="249.80" cy="155.6" r="2.75" fill="url(#ge)"/><circle cx="254.90" cy="155.6" r="2.75" fill="url(#ge)"/><circle cx="260.00" cy="155.6" r="2.75" fill="url(#ge)"/><circle cx="265.10" cy="155.6" r="2.75" fill="url(#ge)"/><circle cx="68.75" cy="159.8" r="2.75" fill="url(#ge)"/><circle cx="73.85" cy="159.8" r="2.75" fill="url(#ge)"/><circle cx="78.95" cy="159.8" r="2.75" fill="url(#ge)"/><circle cx="84.05" cy="159.8" r="2.75" fill="url(#ge)"/><circle cx="89.15" cy="159.8" r="2.75" fill="url(#ge)"/><circle cx="94.25" cy="159.8" r="2.75" fill="url(#ge)"/><circle cx="99.35" cy="159.8" r="2.75" fill="url(#ge)"/><circle cx="104.45" cy="159.8" r="2.75" fill="url(#ge)"/><circle cx="109.55" cy="159.8" r="2.75" fill="url(#ge)"/><circle cx="114.65" cy="159.8" r="2.75" fill="url(#ge)"/><circle cx="119.75" cy="159.8" r="2.75" fill="url(#ge)"/><circle cx="124.85" cy="159.8" r="2.75" fill="url(#ge)"/><circle cx="129.95" cy="159.8" r="2.75" fill="url(#ge)"/><circle cx="135.05" cy="159.8" r="2.75" fill="url(#ge)"/><circle cx="140.15" cy="159.8" r="2.75" fill="url(#ge)"/><circle cx="145.25" cy="159.8" r="2.75" fill="url(#ge)"/><circle cx="150.35" cy="159.8" r="2.75" fill="url(#ge)"/><circle cx="155.45" cy="159.8" r="2.75" fill="url(#ge)"/><circle cx="160.55" cy="159.8" r="2.75" fill="url(#ge)"/><circle cx="165.65" cy="159.8" r="2.75" fill="url(#ge)"/><circle cx="170.75" cy="159.8" r="2.75" fill="url(#ge)"/><circle cx="175.85" cy="159.8" r="2.75" fill="url(#ge)"/><circle cx="180.95" cy="159.8" r="2.75" fill="url(#ge)"/><circle cx="186.05" cy="159.8" r="2.75" fill="url(#ge)"/><circle cx="191.15" cy="159.8" r="2.75" fill="url(#ge)"/><circle cx="196.25" cy="159.8" r="2.75" fill="url(#ge)"/><circle cx="201.35" cy="159.8" r="2.75" fill="url(#ge)"/><circle cx="206.45" cy="159.8" r="2.75" fill="url(#ge)"/><circle cx="211.55" cy="159.8" r="2.75" fill="url(#ge)"/><circle cx="216.65" cy="159.8" r="2.75" fill="url(#ge)"/><circle cx="221.75" cy="159.8" r="2.75" fill="url(#ge)"/><circle cx="226.85" cy="159.8" r="2.75" fill="url(#ge)"/><circle cx="231.95" cy="159.8" r="2.75" fill="url(#ge)"/><circle cx="237.05" cy="159.8" r="2.75" fill="url(#ge)"/><circle cx="242.15" cy="159.8" r="2.75" fill="url(#ge)"/><circle cx="247.25" cy="159.8" r="2.75" fill="url(#ge)"/><circle cx="252.35" cy="159.8" r="2.75" fill="url(#ge)"/><circle cx="257.45" cy="159.8" r="2.75" fill="url(#ge)"/><circle cx="262.55" cy="159.8" r="2.75" fill="url(#ge)"/><circle cx="267.65" cy="159.8" r="2.75" fill="url(#ge)"/><circle cx="64.0" cy="149.1" r="0.9" fill="#7a7a7a"/><circle cx="66.2" cy="148.4" r="0.9" fill="#7a7a7a"/><circle cx="68.4" cy="148.1" r="0.9" fill="#7a7a7a"/><circle cx="70.6" cy="148.3" r="0.9" fill="#7a7a7a"/><circle cx="72.8" cy="149.0" r="0.9" fill="#7a7a7a"/><circle cx="75.0" cy="150.0" r="0.9" fill="#7a7a7a"/><circle cx="77.2" cy="151.2" r="0.9" fill="#7a7a7a"/><circle cx="79.4" cy="150.3" r="0.9" fill="#7a7a7a"/><circle cx="81.6" cy="149.2" r="0.9" fill="#7a7a7a"/><circle cx="83.8" cy="148.4" r="0.9" fill="#7a7a7a"/><circle cx="86.0" cy="148.1" r="0.9" fill="#7a7a7a"/><circle cx="88.2" cy="148.3" r="0.9" fill="#7a7a7a"/><circle cx="90.4" cy="148.9" r="0.9" fill="#7a7a7a"/><circle cx="92.6" cy="149.9" r="0.9" fill="#7a7a7a"/><circle cx="94.8" cy="151.1" r="0.9" fill="#7a7a7a"/><circle cx="97.0" cy="150.4" r="0.9" fill="#7a7a7a"/><circle cx="99.2" cy="149.3" r="0.9" fill="#7a7a7a"/><circle cx="101.4" cy="148.5" r="0.9" fill="#7a7a7a"/><circle cx="103.6" cy="148.1" r="0.9" fill="#7a7a7a"/><circle cx="105.8" cy="148.2" r="0.9" fill="#7a7a7a"/><circle cx="108.0" cy="148.8" r="0.9" fill="#7a7a7a"/><circle cx="110.2" cy="149.8" r="0.9" fill="#7a7a7a"/><circle cx="112.4" cy="151.1" r="0.9" fill="#7a7a7a"/><circle cx="114.6" cy="150.5" r="0.9" fill="#7a7a7a"/><circle cx="116.8" cy="149.3" r="0.9" fill="#7a7a7a"/><circle cx="119.0" cy="148.5" r="0.9" fill="#7a7a7a"/><circle cx="121.2" cy="148.1" r="0.9" fill="#7a7a7a"/><circle cx="123.4" cy="148.2" r="0.9" fill="#7a7a7a"/><circle cx="125.6" cy="148.8" r="0.9" fill="#7a7a7a"/><circle cx="127.8" cy="149.8" r="0.9" fill="#7a7a7a"/><circle cx="130.0" cy="151.0" r="0.9" fill="#7a7a7a"/><circle cx="132.2" cy="150.6" r="0.9" fill="#7a7a7a"/><circle cx="134.4" cy="149.4" r="0.9" fill="#7a7a7a"/><circle cx="136.6" cy="148.6" r="0.9" fill="#7a7a7a"/><circle cx="138.8" cy="148.1" r="0.9" fill="#7a7a7a"/><circle cx="141.0" cy="148.2" r="0.9" fill="#7a7a7a"/><circle cx="143.2" cy="148.7" r="0.9" fill="#7a7a7a"/><circle cx="145.4" cy="149.7" r="0.9" fill="#7a7a7a"/><circle cx="147.6" cy="150.9" r="0.9" fill="#7a7a7a"/><circle cx="149.8" cy="150.6" r="0.9" fill="#7a7a7a"/><circle cx="152.0" cy="149.5" r="0.9" fill="#7a7a7a"/><circle cx="154.2" cy="148.6" r="0.9" fill="#7a7a7a"/><circle cx="156.4" cy="148.1" r="0.9" fill="#7a7a7a"/><circle cx="158.6" cy="148.2" r="0.9" fill="#7a7a7a"/><circle cx="160.8" cy="148.7" r="0.9" fill="#7a7a7a"/><circle cx="163.0" cy="149.6" r="0.9" fill="#7a7a7a"/><circle cx="165.2" cy="150.8" r="0.9" fill="#7a7a7a"/><circle cx="167.4" cy="150.7" r="0.9" fill="#d86060"/><circle cx="169.6" cy="149.6" r="0.9" fill="#d86060"/><circle cx="171.8" cy="148.7" r="0.9" fill="#d86060"/><circle cx="174.0" cy="148.2" r="0.9" fill="#d86060"/><circle cx="176.2" cy="148.2" r="0.9" fill="#d86060"/><circle cx="178.4" cy="148.6" r="0.9" fill="#7a7a7a"/><circle cx="180.6" cy="149.5" r="0.9" fill="#7a7a7a"/><circle cx="182.8" cy="150.7" r="0.9" fill="#7a7a7a"/><circle cx="185.0" cy="150.8" r="0.9" fill="#7a7a7a"/><circle cx="187.2" cy="149.6" r="0.9" fill="#7a7a7a"/><circle cx="189.4" cy="148.7" r="0.9" fill="#7a7a7a"/><circle cx="191.6" cy="148.2" r="0.9" fill="#7a7a7a"/><circle cx="193.8" cy="148.1" r="0.9" fill="#7a7a7a"/><circle cx="196.0" cy="148.6" r="0.9" fill="#7a7a7a"/><circle cx="198.2" cy="149.5" r="0.9" fill="#7a7a7a"/><circle cx="200.4" cy="150.6" r="0.9" fill="#7a7a7a"/><circle cx="202.6" cy="150.9" r="0.9" fill="#7a7a7a"/><circle cx="204.8" cy="149.7" r="0.9" fill="#7a7a7a"/><circle cx="207.0" cy="148.8" r="0.9" fill="#7a7a7a"/><circle cx="209.2" cy="148.2" r="0.9" fill="#7a7a7a"/><circle cx="211.4" cy="148.1" r="0.9" fill="#7a7a7a"/><circle cx="213.6" cy="148.5" r="0.9" fill="#7a7a7a"/><circle cx="215.8" cy="149.4" r="0.9" fill="#7a7a7a"/><circle cx="218.0" cy="150.5" r="0.9" fill="#7a7a7a"/><circle cx="220.2" cy="151.0" r="0.9" fill="#7a7a7a"/><circle cx="222.4" cy="149.8" r="0.9" fill="#7a7a7a"/><circle cx="224.6" cy="148.8" r="0.9" fill="#7a7a7a"/><circle cx="226.8" cy="148.2" r="0.9" fill="#7a7a7a"/><circle cx="229.0" cy="148.1" r="0.9" fill="#7a7a7a"/><circle cx="231.2" cy="148.5" r="0.9" fill="#7a7a7a"/><circle cx="233.4" cy="149.3" r="0.9" fill="#7a7a7a"/><circle cx="235.6" cy="150.4" r="0.9" fill="#7a7a7a"/><circle cx="237.8" cy="151.1" r="0.9" fill="#7a7a7a"/><circle cx="240.0" cy="149.9" r="0.9" fill="#7a7a7a"/><circle cx="242.2" cy="148.9" r="0.9" fill="#7a7a7a"/><circle cx="244.4" cy="148.3" r="0.9" fill="#7a7a7a"/><circle cx="246.6" cy="148.1" r="0.9" fill="#7a7a7a"/><circle cx="248.8" cy="148.5" r="0.9" fill="#7a7a7a"/><circle cx="251.0" cy="149.3" r="0.9" fill="#7a7a7a"/><circle cx="253.2" cy="150.4" r="0.9" fill="#7a7a7a"/><circle cx="255.4" cy="151.2" r="0.9" fill="#7a7a7a"/><circle cx="257.6" cy="149.9" r="0.9" fill="#7a7a7a"/><circle cx="259.8" cy="148.9" r="0.9" fill="#7a7a7a"/><circle cx="262.0" cy="148.3" r="0.9" fill="#7a7a7a"/><circle cx="264.2" cy="148.1" r="0.9" fill="#7a7a7a"/><circle cx="266.4" cy="148.4" r="0.9" fill="#7a7a7a"/><circle cx="268.6" cy="149.2" r="0.9" fill="#7a7a7a"/><circle cx="253.8" cy="126.7" r="1.3" fill="#777"/><circle cx="253.8" cy="137.2" r="2.8" fill="url(#ge)"/><text x="258.50" y="129.90" font-size="8.8" text-anchor="start" fill="#333" stroke="#333" stroke-width="0.22" >C</text><text x="258.50" y="140.40" font-size="8.8" text-anchor="start" fill="#333333" stroke="#333333" stroke-width="0.22" textLength="11.7" lengthAdjust="spacingAndGlyphs" >Ge</text><rect x="178.40" y="171.40" width="8.60" height="73.60" fill="#f9d0d0" stroke="none" stroke-width="1" /><polyline points="63.00,224.00 64.50,223.27 66.00,223.00 67.50,225.04 69.00,227.00 70.50,222.66 72.00,220.00 73.33,218.57 74.67,220.53 76.00,219.00 78.00,222.00 80.00,228.00 81.50,225.70 83.00,224.00 84.50,223.55 86.00,225.00 87.33,227.32 88.67,229.69 90.00,231.00 91.50,226.67 93.00,224.00 95.00,222.00 96.50,224.73 98.00,227.00 99.33,225.63 100.67,225.05 102.00,224.00 103.50,224.85 105.00,228.00 107.00,230.00 108.50,225.38 110.00,223.00 112.00,221.00 113.50,225.68 115.00,228.00 116.33,225.21 117.67,220.63 119.00,217.00 120.50,215.66 122.00,214.00 123.50,214.93 125.00,217.00 127.00,225.00 128.50,223.67 130.00,221.00 131.50,222.82 133.00,225.00 134.50,228.57 136.00,230.00 137.50,229.64 139.00,228.00 140.50,227.27 142.00,225.00 144.00,227.00 145.33,226.11 146.67,222.41 148.00,221.00 149.50,223.89 151.00,229.00 153.00,231.00 154.50,226.28 156.00,223.00 157.33,219.57 158.67,216.67 160.00,215.00 161.50,216.92 163.00,221.00 164.50,219.14 166.00,217.00 167.50,220.89 169.00,223.00 170.50,225.90 172.00,229.00 173.20,231.57 174.40,232.00 176.10,226.00 177.90,215.50 178.75,195.40 179.60,205.00 180.90,210.00 182.30,196.00 183.10,178.75 184.00,205.00 184.90,217.00 185.75,226.00 187.50,229.50 189.25,233.00 190.57,235.73 191.90,236.50 192.50,235.05 194.10,233.81 195.70,234.96 197.30,235.66 198.90,236.38 200.50,237.39 202.10,237.70 203.70,233.99 205.30,237.47 206.90,237.37 208.50,237.62 210.10,236.32 211.70,235.00 213.30,237.55 214.90,237.35 216.50,236.81 218.10,237.82 219.70,235.33 221.30,234.17 222.90,236.24 224.50,237.31 226.10,234.68 227.70,237.10 229.30,237.90 230.90,234.83 232.50,236.47 234.10,236.78 235.70,234.65 237.30,233.51 238.90,233.72 240.50,235.90 242.10,236.08 243.70,234.62 245.30,232.99 246.90,236.15 248.50,236.00 250.10,233.62 251.70,235.15 253.30,236.55 254.90,236.49 256.50,234.90 258.10,234.70 259.70,235.19 261.30,233.43 262.90,233.45 264.50,233.40 266.10,235.68 267.70,234.20 269.30,235.08" fill="none" stroke="#dc3a32" stroke-width="1.2" stroke-linejoin="round" /><rect x="62.80" y="170.60" width="207.30" height="74.80" fill="none" stroke="#777" stroke-width="1.1" /><line x1="62.80" y1="245.20" x2="66.10" y2="245.20" stroke="#555" stroke-width="0.9" /><line x1="62.80" y1="220.12" x2="66.10" y2="220.12" stroke="#555" stroke-width="0.9" /><line x1="62.80" y1="195.04" x2="66.10" y2="195.04" stroke="#555" stroke-width="0.9" /><line x1="62.80" y1="169.96" x2="66.10" y2="169.96" stroke="#555" stroke-width="0.9" /><line x1="62.80" y1="232.66" x2="64.80" y2="232.66" stroke="#555" stroke-width="0.8" /><line x1="62.80" y1="207.58" x2="64.80" y2="207.58" stroke="#555" stroke-width="0.8" /><line x1="62.80" y1="182.50" x2="64.80" y2="182.50" stroke="#555" stroke-width="0.8" /><text x="47.50" y="247.10" font-size="8.6" text-anchor="start" fill="#333333" stroke="#333333" stroke-width="0.22" textLength="12.4" lengthAdjust="spacingAndGlyphs" >0.0</text><text x="47.50" y="222.40" font-size="8.6" text-anchor="start" fill="#333333" stroke="#333333" stroke-width="0.22" textLength="12.4" lengthAdjust="spacingAndGlyphs" >0.4</text><text x="47.50" y="197.60" font-size="8.6" text-anchor="start" fill="#333333" stroke="#333333" stroke-width="0.22" textLength="12.4" lengthAdjust="spacingAndGlyphs" >0.8</text><text x="47.50" y="172.90" font-size="8.6" text-anchor="start" fill="#333333" stroke="#333333" stroke-width="0.22" textLength="12.4" lengthAdjust="spacingAndGlyphs" >1.2</text><line x1="62.60" y1="245.40" x2="62.60" y2="242.10" stroke="#555" stroke-width="0.9" /><text x="62.60" y="256.10" font-size="8.5" text-anchor="middle" fill="#333333" stroke="#333333" stroke-width="0.22" >0</text><line x1="114.50" y1="245.40" x2="114.50" y2="242.10" stroke="#555" stroke-width="0.9" /><text x="114.50" y="256.10" font-size="8.5" text-anchor="middle" fill="#333333" stroke="#333333" stroke-width="0.22" >20</text><line x1="166.40" y1="245.40" x2="166.40" y2="242.10" stroke="#555" stroke-width="0.9" /><text x="166.40" y="256.10" font-size="8.5" text-anchor="middle" fill="#333333" stroke="#333333" stroke-width="0.22" >40</text><line x1="218.30" y1="245.40" x2="218.30" y2="242.10" stroke="#555" stroke-width="0.9" /><text x="218.30" y="256.10" font-size="8.5" text-anchor="middle" fill="#333333" stroke="#333333" stroke-width="0.22" >60</text><line x1="270.20" y1="245.40" x2="270.20" y2="242.10" stroke="#555" stroke-width="0.9" /><text x="270.20" y="256.10" font-size="8.5" text-anchor="middle" fill="#333333" stroke="#333333" stroke-width="0.22" >80</text><line x1="88.55" y1="245.40" x2="88.55" y2="243.40" stroke="#555" stroke-width="0.8" /><line x1="140.45" y1="245.40" x2="140.45" y2="243.40" stroke="#555" stroke-width="0.8" /><line x1="192.35" y1="245.40" x2="192.35" y2="243.40" stroke="#555" stroke-width="0.8" /><line x1="244.25" y1="245.40" x2="244.25" y2="243.40" stroke="#555" stroke-width="0.8" /><text x="137.00" y="268.60" font-size="9.42" text-anchor="start" fill="#333333" stroke="#333333" stroke-width="0.22" textLength="56.8" lengthAdjust="spacingAndGlyphs" >Distance (nm)</text><text x="0" y="0" font-size="9.7" fill="#333333" stroke="#333333" stroke-width="0.22" textLength="50.00" lengthAdjust="spacingAndGlyphs" transform="translate(37.90 241.50) rotate(-90)">Current (nA)</text><text x="100.70" y="205.80" font-size="9.2" text-anchor="start" fill="#333333" stroke="#333333" stroke-width="0.22" textLength="42.9" lengthAdjust="spacingAndGlyphs" >Long period</text><text x="188.90" y="188.90" font-size="9.0" text-anchor="start" fill="#333333" stroke="#333333" stroke-width="0.22" textLength="14.7" lengthAdjust="spacingAndGlyphs" >GBs</text><text x="212.00" y="225.70" font-size="9.2" text-anchor="start" fill="#333333" stroke="#333333" stroke-width="0.22" textLength="46" lengthAdjust="spacingAndGlyphs" >Short period</text><text x="27.50" y="284.60" font-size="11.2" text-anchor="start" fill="#000" font-weight="bold" >e</text><rect x="63.60" y="285.00" width="206.20" height="162.50" fill="none" stroke="#666" stroke-width="1.1" /><line x1="63.60" y1="438.80" x2="66.90" y2="438.80" stroke="#555" stroke-width="0.9" /><line x1="63.60" y1="400.28" x2="66.90" y2="400.28" stroke="#555" stroke-width="0.9" /><line x1="63.60" y1="361.76" x2="66.90" y2="361.76" stroke="#555" stroke-width="0.9" /><line x1="63.60" y1="323.24" x2="66.90" y2="323.24" stroke="#555" stroke-width="0.9" /><line x1="63.60" y1="284.72" x2="66.90" y2="284.72" stroke="#555" stroke-width="0.9" /><line x1="63.60" y1="419.54" x2="65.60" y2="419.54" stroke="#555" stroke-width="0.8" /><line x1="63.60" y1="381.02" x2="65.60" y2="381.02" stroke="#555" stroke-width="0.8" /><line x1="63.60" y1="342.50" x2="65.60" y2="342.50" stroke="#555" stroke-width="0.8" /><line x1="63.60" y1="303.98" x2="65.60" y2="303.98" stroke="#555" stroke-width="0.8" /><text x="47.60" y="441.80" font-size="8.6" text-anchor="start" fill="#333333" stroke="#333333" stroke-width="0.22" textLength="11.8" lengthAdjust="spacingAndGlyphs" >0.0</text><text x="47.60" y="403.30" font-size="8.6" text-anchor="start" fill="#333333" stroke="#333333" stroke-width="0.22" textLength="11.8" lengthAdjust="spacingAndGlyphs" >2.0</text><text x="47.60" y="364.50" font-size="8.6" text-anchor="start" fill="#333333" stroke="#333333" stroke-width="0.22" textLength="11.8" lengthAdjust="spacingAndGlyphs" >4.0</text><text x="47.60" y="326.20" font-size="8.6" text-anchor="start" fill="#333333" stroke="#333333" stroke-width="0.22" textLength="11.8" lengthAdjust="spacingAndGlyphs" >6.0</text><text x="47.60" y="288.00" font-size="8.6" text-anchor="start" fill="#333333" stroke="#333333" stroke-width="0.22" textLength="11.8" lengthAdjust="spacingAndGlyphs" >8.0</text><line x1="63.40" y1="447.50" x2="63.40" y2="444.20" stroke="#555" stroke-width="0.9" /><text x="63.40" y="458.30" font-size="8.5" text-anchor="middle" fill="#333333" stroke="#333333" stroke-width="0.22" >0</text><line x1="109.05" y1="447.50" x2="109.05" y2="444.20" stroke="#555" stroke-width="0.9" /><text x="109.05" y="458.30" font-size="8.5" text-anchor="middle" fill="#333333" stroke="#333333" stroke-width="0.22" >5</text><line x1="154.70" y1="447.50" x2="154.70" y2="444.20" stroke="#555" stroke-width="0.9" /><text x="154.70" y="458.30" font-size="8.5" text-anchor="middle" fill="#333333" stroke="#333333" stroke-width="0.22" >10</text><line x1="200.35" y1="447.50" x2="200.35" y2="444.20" stroke="#555" stroke-width="0.9" /><text x="200.35" y="458.30" font-size="8.5" text-anchor="middle" fill="#333333" stroke="#333333" stroke-width="0.22" >15</text><line x1="246.00" y1="447.50" x2="246.00" y2="444.20" stroke="#555" stroke-width="0.9" /><text x="246.00" y="458.30" font-size="8.5" text-anchor="middle" fill="#333333" stroke="#333333" stroke-width="0.22" >20</text><line x1="86.22" y1="447.50" x2="86.22" y2="445.50" stroke="#555" stroke-width="0.8" /><line x1="131.88" y1="447.50" x2="131.88" y2="445.50" stroke="#555" stroke-width="0.8" /><line x1="177.53" y1="447.50" x2="177.53" y2="445.50" stroke="#555" stroke-width="0.8" /><line x1="223.18" y1="447.50" x2="223.18" y2="445.50" stroke="#555" stroke-width="0.8" /><text x="127.20" y="473.30" font-size="9.42" text-anchor="start" fill="#333333" stroke="#333333" stroke-width="0.22" textLength="75.7" lengthAdjust="spacingAndGlyphs" >Bias volatage (mV)</text><text x="0" y="0" font-size="9.7" fill="#333333" stroke="#333333" stroke-width="0.22" textLength="49.50" lengthAdjust="spacingAndGlyphs" transform="translate(38.10 399.50) rotate(-90)">Current (nA)</text><line x1="81.66" y1="433.41" x2="246.00" y2="317.46" stroke="#e2504a" stroke-width="1.0" /><line x1="81.66" y1="438.22" x2="246.00" y2="411.84" stroke="#3aa844" stroke-width="1.0" /><line x1="81.66" y1="427.24" x2="81.66" y2="438.80" stroke="#e2504a" stroke-width="0.9" /><line x1="79.46" y1="427.24" x2="83.86" y2="427.24" stroke="#e2504a" stroke-width="0.9" /><line x1="79.46" y1="438.80" x2="83.86" y2="438.80" stroke="#e2504a" stroke-width="0.9" /><rect x="78.66" y="430.02" width="6.00" height="6.00" fill="#ee3a36" stroke="none" stroke-width="1" /><line x1="99.92" y1="413.18" x2="99.92" y2="428.59" stroke="#e2504a" stroke-width="0.9" /><line x1="97.72" y1="413.18" x2="102.12" y2="413.18" stroke="#e2504a" stroke-width="0.9" /><line x1="97.72" y1="428.59" x2="102.12" y2="428.59" stroke="#e2504a" stroke-width="0.9" /><rect x="96.92" y="417.89" width="6.00" height="6.00" fill="#ee3a36" stroke="none" stroke-width="1" /><line x1="118.18" y1="401.24" x2="118.18" y2="417.42" stroke="#e2504a" stroke-width="0.9" /><line x1="115.98" y1="401.24" x2="120.38" y2="401.24" stroke="#e2504a" stroke-width="0.9" /><line x1="115.98" y1="417.42" x2="120.38" y2="417.42" stroke="#e2504a" stroke-width="0.9" /><rect x="115.18" y="406.33" width="6.00" height="6.00" fill="#ee3a36" stroke="none" stroke-width="1" /><line x1="136.44" y1="388.15" x2="136.44" y2="406.64" stroke="#e2504a" stroke-width="0.9" /><line x1="134.24" y1="388.15" x2="138.64" y2="388.15" stroke="#e2504a" stroke-width="0.9" /><line x1="134.24" y1="406.64" x2="138.64" y2="406.64" stroke="#e2504a" stroke-width="0.9" /><rect x="133.44" y="394.39" width="6.00" height="6.00" fill="#ee3a36" stroke="none" stroke-width="1" /><line x1="154.70" y1="374.47" x2="154.70" y2="391.42" stroke="#e2504a" stroke-width="0.9" /><line x1="152.50" y1="374.47" x2="156.90" y2="374.47" stroke="#e2504a" stroke-width="0.9" /><line x1="152.50" y1="391.42" x2="156.90" y2="391.42" stroke="#e2504a" stroke-width="0.9" /><rect x="151.70" y="379.95" width="6.00" height="6.00" fill="#ee3a36" stroke="none" stroke-width="1" /><line x1="172.96" y1="356.37" x2="172.96" y2="382.56" stroke="#e2504a" stroke-width="0.9" /><line x1="170.76" y1="356.37" x2="175.16" y2="356.37" stroke="#e2504a" stroke-width="0.9" /><line x1="170.76" y1="382.56" x2="175.16" y2="382.56" stroke="#e2504a" stroke-width="0.9" /><rect x="169.96" y="366.46" width="6.00" height="6.00" fill="#ee3a36" stroke="none" stroke-width="1" /><line x1="191.22" y1="353.48" x2="191.22" y2="364.26" stroke="#e2504a" stroke-width="0.9" /><line x1="189.02" y1="353.48" x2="193.42" y2="353.48" stroke="#e2504a" stroke-width="0.9" /><line x1="189.02" y1="364.26" x2="193.42" y2="364.26" stroke="#e2504a" stroke-width="0.9" /><rect x="188.22" y="355.87" width="6.00" height="6.00" fill="#ee3a36" stroke="none" stroke-width="1" /><line x1="209.48" y1="337.69" x2="209.48" y2="358.87" stroke="#e2504a" stroke-width="0.9" /><line x1="207.28" y1="337.69" x2="211.68" y2="337.69" stroke="#e2504a" stroke-width="0.9" /><line x1="207.28" y1="358.87" x2="211.68" y2="358.87" stroke="#e2504a" stroke-width="0.9" /><rect x="206.48" y="345.28" width="6.00" height="6.00" fill="#ee3a36" stroke="none" stroke-width="1" /><line x1="227.74" y1="317.08" x2="227.74" y2="342.89" stroke="#e2504a" stroke-width="0.9" /><line x1="225.54" y1="317.08" x2="229.94" y2="317.08" stroke="#e2504a" stroke-width="0.9" /><line x1="225.54" y1="342.89" x2="229.94" y2="342.89" stroke="#e2504a" stroke-width="0.9" /><rect x="224.74" y="326.98" width="6.00" height="6.00" fill="#ee3a36" stroke="none" stroke-width="1" /><line x1="246.00" y1="299.16" x2="246.00" y2="337.69" stroke="#e2504a" stroke-width="0.9" /><line x1="243.80" y1="299.16" x2="248.20" y2="299.16" stroke="#e2504a" stroke-width="0.9" /><line x1="243.80" y1="337.69" x2="248.20" y2="337.69" stroke="#e2504a" stroke-width="0.9" /><rect x="243.00" y="315.43" width="6.00" height="6.00" fill="#ee3a36" stroke="none" stroke-width="1" /><line x1="81.66" y1="436.30" x2="81.66" y2="439.38" stroke="#3aa844" stroke-width="0.9" /><line x1="79.46" y1="436.30" x2="83.86" y2="436.30" stroke="#3aa844" stroke-width="0.9" /><line x1="79.46" y1="439.38" x2="83.86" y2="439.38" stroke="#3aa844" stroke-width="0.9" /><circle cx="81.7" cy="437.8" r="3.2" fill="#3ab444"/><line x1="99.92" y1="433.02" x2="99.92" y2="436.87" stroke="#3aa844" stroke-width="0.9" /><line x1="97.72" y1="433.02" x2="102.12" y2="433.02" stroke="#3aa844" stroke-width="0.9" /><line x1="97.72" y1="436.87" x2="102.12" y2="436.87" stroke="#3aa844" stroke-width="0.9" /><circle cx="99.9" cy="434.9" r="3.2" fill="#3ab444"/><line x1="118.18" y1="430.52" x2="118.18" y2="434.37" stroke="#3aa844" stroke-width="0.9" /><line x1="115.98" y1="430.52" x2="120.38" y2="430.52" stroke="#3aa844" stroke-width="0.9" /><line x1="115.98" y1="434.37" x2="120.38" y2="434.37" stroke="#3aa844" stroke-width="0.9" /><circle cx="118.2" cy="432.4" r="3.2" fill="#3ab444"/><line x1="136.44" y1="427.82" x2="136.44" y2="431.67" stroke="#3aa844" stroke-width="0.9" /><line x1="134.24" y1="427.82" x2="138.64" y2="427.82" stroke="#3aa844" stroke-width="0.9" /><line x1="134.24" y1="431.67" x2="138.64" y2="431.67" stroke="#3aa844" stroke-width="0.9" /><circle cx="136.4" cy="429.7" r="3.2" fill="#3ab444"/><line x1="154.70" y1="424.36" x2="154.70" y2="428.98" stroke="#3aa844" stroke-width="0.9" /><line x1="152.50" y1="424.36" x2="156.90" y2="424.36" stroke="#3aa844" stroke-width="0.9" /><line x1="152.50" y1="428.98" x2="156.90" y2="428.98" stroke="#3aa844" stroke-width="0.9" /><circle cx="154.7" cy="426.7" r="3.2" fill="#3ab444"/><line x1="172.96" y1="421.85" x2="172.96" y2="425.70" stroke="#3aa844" stroke-width="0.9" /><line x1="170.76" y1="421.85" x2="175.16" y2="421.85" stroke="#3aa844" stroke-width="0.9" /><line x1="170.76" y1="425.70" x2="175.16" y2="425.70" stroke="#3aa844" stroke-width="0.9" /><circle cx="173.0" cy="423.8" r="3.2" fill="#3ab444"/><line x1="191.22" y1="418.19" x2="191.22" y2="423.58" stroke="#3aa844" stroke-width="0.9" /><line x1="189.02" y1="418.19" x2="193.42" y2="418.19" stroke="#3aa844" stroke-width="0.9" /><line x1="189.02" y1="423.58" x2="193.42" y2="423.58" stroke="#3aa844" stroke-width="0.9" /><circle cx="191.2" cy="420.9" r="3.2" fill="#3ab444"/><line x1="209.48" y1="414.53" x2="209.48" y2="420.70" stroke="#3aa844" stroke-width="0.9" /><line x1="207.28" y1="414.53" x2="211.68" y2="414.53" stroke="#3aa844" stroke-width="0.9" /><line x1="207.28" y1="420.70" x2="211.68" y2="420.70" stroke="#3aa844" stroke-width="0.9" /><circle cx="209.5" cy="417.6" r="3.2" fill="#3ab444"/><line x1="227.74" y1="411.64" x2="227.74" y2="417.81" stroke="#3aa844" stroke-width="0.9" /><line x1="225.54" y1="411.64" x2="229.94" y2="411.64" stroke="#3aa844" stroke-width="0.9" /><line x1="225.54" y1="417.81" x2="229.94" y2="417.81" stroke="#3aa844" stroke-width="0.9" /><circle cx="227.7" cy="414.7" r="3.2" fill="#3ab444"/><line x1="246.00" y1="407.98" x2="246.00" y2="415.69" stroke="#3aa844" stroke-width="0.9" /><line x1="243.80" y1="407.98" x2="248.20" y2="407.98" stroke="#3aa844" stroke-width="0.9" /><line x1="243.80" y1="415.69" x2="248.20" y2="415.69" stroke="#3aa844" stroke-width="0.9" /><circle cx="246.0" cy="411.8" r="3.2" fill="#3ab444"/><rect x="79.70" y="295.00" width="5.00" height="5.00" fill="#ee3a36" stroke="none" stroke-width="1" /><circle cx="82.2" cy="309.2" r="2.6" fill="#3ab444"/><text x="92.70" y="300.40" font-size="9.2" text-anchor="start" fill="#333333" stroke="#333333" stroke-width="0.22" textLength="43.8" lengthAdjust="spacingAndGlyphs" >Long period</text><text x="92.70" y="312.10" font-size="9.2" text-anchor="start" fill="#333333" stroke="#333333" stroke-width="0.22" textLength="45.5" lengthAdjust="spacingAndGlyphs" >Short period</text><line x1="71.20" y1="320.80" x2="92.70" y2="320.80" stroke="#e2504a" stroke-width="1" /><line x1="71.20" y1="332.50" x2="92.70" y2="332.50" stroke="#3aa844" stroke-width="1" /><text x="95.00" y="323.70" font-size="9.2" text-anchor="start" fill="#333333" stroke="#333333" stroke-width="0.22" textLength="77" lengthAdjust="spacingAndGlyphs" >Slope = 0.33 nA/mV</text><text x="95.00" y="335.40" font-size="9.2" text-anchor="start" fill="#333333" stroke="#333333" stroke-width="0.22" textLength="77" lengthAdjust="spacingAndGlyphs" >Slope = 0.08 nA/mV</text><text x="297.50" y="284.80" font-size="11.2" text-anchor="start" fill="#000" font-weight="bold" >f</text><rect x="340.60" y="284.40" width="207.40" height="162.80" fill="none" stroke="#666" stroke-width="1.1" /><line x1="340.60" y1="437.50" x2="343.90" y2="437.50" stroke="#555" stroke-width="0.9" /><line x1="340.60" y1="386.50" x2="343.90" y2="386.50" stroke="#555" stroke-width="0.9" /><line x1="340.60" y1="335.50" x2="343.90" y2="335.50" stroke="#555" stroke-width="0.9" /><line x1="340.60" y1="284.50" x2="343.90" y2="284.50" stroke="#555" stroke-width="0.9" /><line x1="340.60" y1="412.00" x2="342.60" y2="412.00" stroke="#555" stroke-width="0.8" /><line x1="340.60" y1="361.00" x2="342.60" y2="361.00" stroke="#555" stroke-width="0.8" /><line x1="340.60" y1="310.00" x2="342.60" y2="310.00" stroke="#555" stroke-width="0.8" /><text x="331.30" y="440.30" font-size="8.6" text-anchor="start" fill="#333333" stroke="#333333" stroke-width="0.22" textLength="4.9" lengthAdjust="spacingAndGlyphs" >0</text><text x="327.60" y="389.10" font-size="8.6" text-anchor="start" fill="#333333" stroke="#333333" stroke-width="0.22" textLength="8.6" lengthAdjust="spacingAndGlyphs" >10</text><text x="327.60" y="338.20" font-size="8.6" text-anchor="start" fill="#333333" stroke="#333333" stroke-width="0.22" textLength="8.6" lengthAdjust="spacingAndGlyphs" >20</text><text x="327.60" y="287.50" font-size="8.6" text-anchor="start" fill="#333333" stroke="#333333" stroke-width="0.22" textLength="8.6" lengthAdjust="spacingAndGlyphs" >30</text><line x1="340.60" y1="447.20" x2="340.60" y2="443.90" stroke="#555" stroke-width="0.9" /><text x="340.60" y="457.70" font-size="8.5" text-anchor="middle" fill="#333333" stroke="#333333" stroke-width="0.22" >10</text><line x1="381.96" y1="447.20" x2="381.96" y2="443.90" stroke="#555" stroke-width="0.9" /><text x="381.96" y="457.70" font-size="8.5" text-anchor="middle" fill="#333333" stroke="#333333" stroke-width="0.22" >20</text><line x1="423.32" y1="447.20" x2="423.32" y2="443.90" stroke="#555" stroke-width="0.9" /><text x="423.32" y="457.70" font-size="8.5" text-anchor="middle" fill="#333333" stroke="#333333" stroke-width="0.22" >30</text><line x1="464.68" y1="447.20" x2="464.68" y2="443.90" stroke="#555" stroke-width="0.9" /><text x="464.68" y="457.70" font-size="8.5" text-anchor="middle" fill="#333333" stroke="#333333" stroke-width="0.22" >40</text><line x1="506.04" y1="447.20" x2="506.04" y2="443.90" stroke="#555" stroke-width="0.9" /><text x="506.04" y="457.70" font-size="8.5" text-anchor="middle" fill="#333333" stroke="#333333" stroke-width="0.22" >50</text><line x1="547.40" y1="447.20" x2="547.40" y2="443.90" stroke="#555" stroke-width="0.9" /><text x="547.40" y="457.70" font-size="8.5" text-anchor="middle" fill="#333333" stroke="#333333" stroke-width="0.22" >60</text><line x1="361.28" y1="447.20" x2="361.28" y2="445.20" stroke="#555" stroke-width="0.8" /><line x1="402.64" y1="447.20" x2="402.64" y2="445.20" stroke="#555" stroke-width="0.8" /><line x1="444.00" y1="447.20" x2="444.00" y2="445.20" stroke="#555" stroke-width="0.8" /><line x1="485.36" y1="447.20" x2="485.36" y2="445.20" stroke="#555" stroke-width="0.8" /><line x1="526.72" y1="447.20" x2="526.72" y2="445.20" stroke="#555" stroke-width="0.8" /><text x="408.40" y="471.90" font-size="9.42" text-anchor="start" fill="#333333" stroke="#333333" stroke-width="0.22" textLength="69.4" lengthAdjust="spacingAndGlyphs" >Normal load (nN)</text><text x="0" y="0" font-size="9.7" fill="#333333" stroke="#333333" stroke-width="0.22" textLength="50.50" lengthAdjust="spacingAndGlyphs" transform="translate(318.00 399.20) rotate(-90)">Current (nA)</text><path d="M357.50,436.80 C360.42,434.87 369.17,429.28 375.00,425.20 C380.83,421.12 386.67,416.50 392.50,412.30 C398.33,408.10 404.45,403.50 410.00,400.00 C415.55,396.50 419.97,394.50 425.80,391.30 C431.63,388.10 438.88,384.02 445.00,380.80 C451.12,377.58 456.67,374.63 462.50,372.00 C468.33,369.37 474.17,367.22 480.00,365.00 C485.83,362.78 491.67,360.45 497.50,358.70 C503.33,356.95 509.45,355.90 515.00,354.50 C520.55,353.10 528.17,351.00 530.80,350.30" fill="none" stroke="#e2504a" stroke-width="1"/><path d="M357.50,436.80 C363.33,435.63 381.12,431.73 392.50,429.80 C403.88,427.87 414.13,426.55 425.80,425.20 C437.47,423.85 450.55,422.68 462.50,421.70 C474.45,420.72 486.12,419.82 497.50,419.30 C508.88,418.78 525.25,418.72 530.80,418.60" fill="none" stroke="#3aa844" stroke-width="1"/><rect x="355.00" y="433.20" width="5.60" height="5.60" fill="#ee3a36" stroke="none" stroke-width="1" /><line x1="425.80" y1="380.80" x2="425.80" y2="392.30" stroke="#e2504a" stroke-width="0.9" /><line x1="423.60" y1="380.80" x2="428.00" y2="380.80" stroke="#e2504a" stroke-width="0.9" /><line x1="423.60" y1="392.30" x2="428.00" y2="392.30" stroke="#e2504a" stroke-width="0.9" /><rect x="423.00" y="383.50" width="5.60" height="5.60" fill="#ee3a36" stroke="none" stroke-width="1" /><line x1="530.80" y1="339.80" x2="530.80" y2="360.80" stroke="#e2504a" stroke-width="0.9" /><line x1="528.60" y1="339.80" x2="533.00" y2="339.80" stroke="#e2504a" stroke-width="0.9" /><line x1="528.60" y1="360.80" x2="533.00" y2="360.80" stroke="#e2504a" stroke-width="0.9" /><rect x="528.00" y="347.60" width="5.60" height="5.60" fill="#ee3a36" stroke="none" stroke-width="1" /><circle cx="357.8" cy="436.9" r="3.1" fill="#3ab444"/><circle cx="425.8" cy="425.4" r="3.1" fill="#3ab444"/><circle cx="530.8" cy="418.6" r="3.1" fill="#3ab444"/><rect x="371.00" y="289.40" width="81.70" height="64.80" fill="none" stroke="#555" stroke-width="1" /><line x1="371.00" y1="354.05" x2="373.40" y2="354.05" stroke="#555" stroke-width="0.8" /><line x1="371.00" y1="346.24" x2="372.30" y2="346.24" stroke="#555" stroke-width="0.6" /><line x1="371.00" y1="341.67" x2="372.30" y2="341.67" stroke="#555" stroke-width="0.6" /><line x1="371.00" y1="338.43" x2="372.30" y2="338.43" stroke="#555" stroke-width="0.6" /><line x1="371.00" y1="335.91" x2="372.30" y2="335.91" stroke="#555" stroke-width="0.6" /><line x1="371.00" y1="333.86" x2="372.30" y2="333.86" stroke="#555" stroke-width="0.6" /><line x1="371.00" y1="332.12" x2="372.30" y2="332.12" stroke="#555" stroke-width="0.6" /><line x1="371.00" y1="330.61" x2="372.30" y2="330.61" stroke="#555" stroke-width="0.6" /><line x1="371.00" y1="329.29" x2="372.30" y2="329.29" stroke="#555" stroke-width="0.6" /><line x1="371.00" y1="328.10" x2="373.40" y2="328.10" stroke="#555" stroke-width="0.8" /><line x1="371.00" y1="320.29" x2="372.30" y2="320.29" stroke="#555" stroke-width="0.6" /><line x1="371.00" y1="315.72" x2="372.30" y2="315.72" stroke="#555" stroke-width="0.6" /><line x1="371.00" y1="312.48" x2="372.30" y2="312.48" stroke="#555" stroke-width="0.6" /><line x1="371.00" y1="309.96" x2="372.30" y2="309.96" stroke="#555" stroke-width="0.6" /><line x1="371.00" y1="307.91" x2="372.30" y2="307.91" stroke="#555" stroke-width="0.6" /><line x1="371.00" y1="306.17" x2="372.30" y2="306.17" stroke="#555" stroke-width="0.6" /><line x1="371.00" y1="304.66" x2="372.30" y2="304.66" stroke="#555" stroke-width="0.6" /><line x1="371.00" y1="303.34" x2="372.30" y2="303.34" stroke="#555" stroke-width="0.6" /><line x1="371.00" y1="302.15" x2="373.40" y2="302.15" stroke="#555" stroke-width="0.8" /><line x1="371.00" y1="294.34" x2="372.30" y2="294.34" stroke="#555" stroke-width="0.6" /><line x1="371.00" y1="289.77" x2="372.30" y2="289.77" stroke="#555" stroke-width="0.6" /><text x="360.90" y="304.40" font-size="8.0" text-anchor="start" fill="#333333" stroke="#333333" stroke-width="0.22" textLength="7.0" lengthAdjust="spacingAndGlyphs" >10</text><text x="364.40" y="330.60" font-size="8.0" text-anchor="start" fill="#333333" stroke="#333333" stroke-width="0.22" textLength="3.5" lengthAdjust="spacingAndGlyphs" >1</text><text x="358.60" y="355.90" font-size="8.0" text-anchor="start" fill="#333333" stroke="#333333" stroke-width="0.22" textLength="9.3" lengthAdjust="spacingAndGlyphs" >0.1</text><line x1="370.20" y1="354.20" x2="370.20" y2="351.80" stroke="#555" stroke-width="0.8" /><text x="372.30" y="361.70" font-size="8.0" text-anchor="middle" fill="#333333" stroke="#333333" stroke-width="0.22" textLength="8.2" lengthAdjust="spacingAndGlyphs" >10</text><line x1="386.83" y1="354.20" x2="386.83" y2="351.80" stroke="#555" stroke-width="0.8" /><text x="387.00" y="361.70" font-size="8.0" text-anchor="middle" fill="#333333" stroke="#333333" stroke-width="0.22" textLength="8.2" lengthAdjust="spacingAndGlyphs" >20</text><line x1="403.46" y1="354.20" x2="403.46" y2="351.80" stroke="#555" stroke-width="0.8" /><text x="403.60" y="361.70" font-size="8.0" text-anchor="middle" fill="#333333" stroke="#333333" stroke-width="0.22" textLength="8.2" lengthAdjust="spacingAndGlyphs" >30</text><line x1="420.09" y1="354.20" x2="420.09" y2="351.80" stroke="#555" stroke-width="0.8" /><text x="420.10" y="361.70" font-size="8.0" text-anchor="middle" fill="#333333" stroke="#333333" stroke-width="0.22" textLength="8.2" lengthAdjust="spacingAndGlyphs" >40</text><line x1="436.72" y1="354.20" x2="436.72" y2="351.80" stroke="#555" stroke-width="0.8" /><text x="436.70" y="361.70" font-size="8.0" text-anchor="middle" fill="#333333" stroke="#333333" stroke-width="0.22" textLength="8.2" lengthAdjust="spacingAndGlyphs" >50</text><line x1="453.35" y1="354.20" x2="453.35" y2="351.80" stroke="#555" stroke-width="0.8" /><text x="453.20" y="361.70" font-size="8.0" text-anchor="middle" fill="#333333" stroke="#333333" stroke-width="0.22" textLength="8.2" lengthAdjust="spacingAndGlyphs" >60</text><text x="381.70" y="373.00" font-size="8.6" text-anchor="start" fill="#333333" stroke="#333333" stroke-width="0.22" textLength="60.8" lengthAdjust="spacingAndGlyphs" >Normal load (nN)</text><text x="0" y="0" font-size="8.4" fill="#333333" stroke="#333333" stroke-width="0.22" textLength="45.60" lengthAdjust="spacingAndGlyphs" transform="translate(356.50 350.00) rotate(-90)">Current (nA)</text><polyline points="377.60,348.10 404.80,302.10 446.00,296.10" fill="none" stroke="#e2504a" stroke-width="1" stroke-linejoin="round" /><polyline points="377.60,350.10 404.80,319.00 446.00,313.70" fill="none" stroke="#3aa844" stroke-width="1" stroke-linejoin="round" /><rect x="375.30" y="345.80" width="4.60" height="4.60" fill="#ee3a36" stroke="none" stroke-width="1" /><rect x="402.50" y="299.80" width="4.60" height="4.60" fill="#ee3a36" stroke="none" stroke-width="1" /><rect x="443.70" y="293.80" width="4.60" height="4.60" fill="#ee3a36" stroke="none" stroke-width="1" /><circle cx="377.6" cy="350.1" r="2.5" fill="#3ab444"/><circle cx="404.8" cy="319.0" r="2.5" fill="#3ab444"/><circle cx="446.0" cy="313.7" r="2.5" fill="#3ab444"/><line x1="471.00" y1="297.10" x2="491.70" y2="297.10" stroke="#e2504a" stroke-width="1" /><rect x="478.60" y="294.70" width="4.90" height="4.80" fill="#ee3a36" stroke="none" stroke-width="1" /><line x1="471.00" y1="308.70" x2="491.70" y2="308.70" stroke="#3aa844" stroke-width="1" /><circle cx="481.3" cy="308.7" r="2.5" fill="#3ab444"/><text x="494.60" y="299.70" font-size="9.2" text-anchor="start" fill="#333333" stroke="#333333" stroke-width="0.22" textLength="43.4" lengthAdjust="spacingAndGlyphs" >Long period</text><text x="494.00" y="311.30" font-size="9.2" text-anchor="start" fill="#333333" stroke="#333333" stroke-width="0.22" textLength="45" lengthAdjust="spacingAndGlyphs" >Short period</text><text x="471.40" y="322.90" font-size="9.2" text-anchor="start" fill="#333333" stroke="#333333" stroke-width="0.22" textLength="49.6" lengthAdjust="spacingAndGlyphs" >Bias = 30 mV</text><line x1="9.00" y1="47.00" x2="590.50" y2="47.00" stroke="#000" stroke-width="1" opacity="0.16"/><line x1="9.00" y1="87.00" x2="590.50" y2="87.00" stroke="#000" stroke-width="1" opacity="0.16"/><line x1="9.00" y1="126.50" x2="590.50" y2="126.50" stroke="#000" stroke-width="1" opacity="0.16"/><line x1="9.00" y1="166.00" x2="590.50" y2="166.00" stroke="#000" stroke-width="1" opacity="0.05"/><line x1="9.00" y1="205.50" x2="590.50" y2="205.50" stroke="#000" stroke-width="1" opacity="0.16"/><line x1="9.00" y1="245.00" x2="590.50" y2="245.00" stroke="#000" stroke-width="1" opacity="0.16"/><line x1="9.00" y1="285.00" x2="590.50" y2="285.00" stroke="#000" stroke-width="1" opacity="0.16"/><line x1="9.00" y1="324.80" x2="590.50" y2="324.80" stroke="#000" stroke-width="1" opacity="0.16"/><line x1="9.00" y1="364.80" x2="590.50" y2="364.80" stroke="#000" stroke-width="1" opacity="0.05"/><line x1="9.00" y1="404.20" x2="590.50" y2="404.20" stroke="#000" stroke-width="1" opacity="0.16"/><line x1="9.00" y1="444.00" x2="590.50" y2="444.00" stroke="#000" stroke-width="1" opacity="0.16"/></svg></body></html>
